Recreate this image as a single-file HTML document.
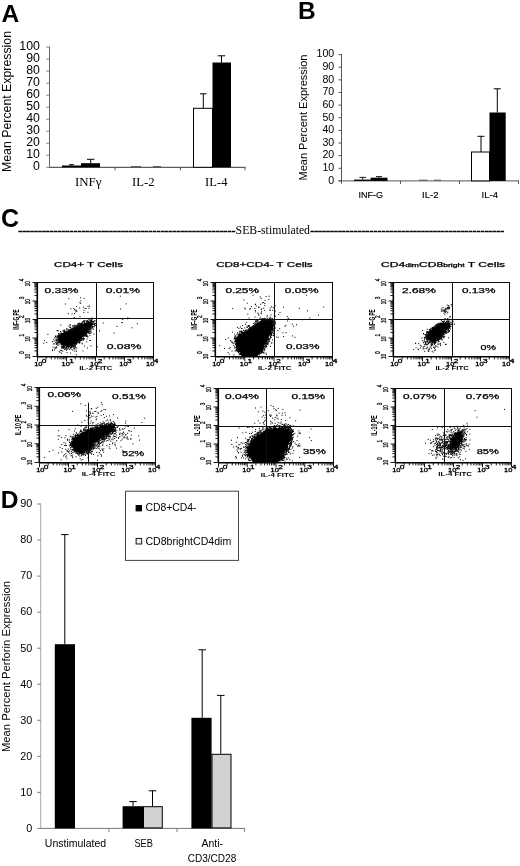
<!DOCTYPE html>
<html lang="en">
<head>
<meta charset="utf-8">
<title>Figure: cytokine and perforin expression</title>
<style>
html,body{margin:0;padding:0;background:#fff}
body{width:520px;height:866px;overflow:hidden}
svg{display:block}
text{font-family:'Liberation Sans', Arial, Helvetica, sans-serif;fill:#000}
text.sf{font-family:'Liberation Serif', 'Times New Roman', Times, serif}
</style>
</head>
<body>
<svg width="520" height="866" viewBox="0 0 520 866">
<defs><filter id="soft" x="0" y="0" width="520" height="866" filterUnits="userSpaceOnUse"><feGaussianBlur stdDeviation="0.38"/></filter></defs>
<rect width="520" height="866" fill="#fff"/>
<g filter="url(#soft)">
<text x="1.5" y="22.3" font-size="24.5" font-weight="bold">A</text>
<line x1="49.5" y1="46.6" x2="49.5" y2="167.8" stroke="#666" stroke-width="1"/>
<line x1="49.5" y1="167.3" x2="245.5" y2="167.3" stroke="#333" stroke-width="1"/>
<line x1="46.2" y1="167.3" x2="49.5" y2="167.3" stroke="#808080" stroke-width="1"/>
<text x="39.9" y="169.7" font-size="12.3" text-anchor="end">0</text>
<line x1="46.2" y1="155.28" x2="49.5" y2="155.28" stroke="#808080" stroke-width="1"/>
<text x="39.9" y="157.68" font-size="12.3" text-anchor="end">10</text>
<line x1="46.2" y1="143.26" x2="49.5" y2="143.26" stroke="#808080" stroke-width="1"/>
<text x="39.9" y="145.66" font-size="12.3" text-anchor="end">20</text>
<line x1="46.2" y1="131.24" x2="49.5" y2="131.24" stroke="#808080" stroke-width="1"/>
<text x="39.9" y="133.64" font-size="12.3" text-anchor="end">30</text>
<line x1="46.2" y1="119.22" x2="49.5" y2="119.22" stroke="#808080" stroke-width="1"/>
<text x="39.9" y="121.62" font-size="12.3" text-anchor="end">40</text>
<line x1="46.2" y1="107.2" x2="49.5" y2="107.2" stroke="#808080" stroke-width="1"/>
<text x="39.9" y="109.6" font-size="12.3" text-anchor="end">50</text>
<line x1="46.2" y1="95.18" x2="49.5" y2="95.18" stroke="#808080" stroke-width="1"/>
<text x="39.9" y="97.58" font-size="12.3" text-anchor="end">60</text>
<line x1="46.2" y1="83.16" x2="49.5" y2="83.16" stroke="#808080" stroke-width="1"/>
<text x="39.9" y="85.56" font-size="12.3" text-anchor="end">70</text>
<line x1="46.2" y1="71.14" x2="49.5" y2="71.14" stroke="#808080" stroke-width="1"/>
<text x="39.9" y="73.54" font-size="12.3" text-anchor="end">80</text>
<line x1="46.2" y1="59.12" x2="49.5" y2="59.12" stroke="#808080" stroke-width="1"/>
<text x="39.9" y="61.52" font-size="12.3" text-anchor="end">90</text>
<line x1="46.2" y1="47.1" x2="49.5" y2="47.1" stroke="#808080" stroke-width="1"/>
<text x="39.9" y="49.5" font-size="12.3" text-anchor="end">100</text>
<line x1="115" y1="167.3" x2="115" y2="170.3" stroke="#555" stroke-width="1"/>
<line x1="180.5" y1="167.3" x2="180.5" y2="170.3" stroke="#555" stroke-width="1"/>
<line x1="245" y1="167.3" x2="245" y2="170.3" stroke="#555" stroke-width="1"/>
<text x="11.3" y="101.5" font-size="12.2" text-anchor="middle" textLength="141" lengthAdjust="spacingAndGlyphs" transform="rotate(-90 11.3 101.5)">Mean Percent Expression</text>
<rect x="62" y="165.5" width="19" height="1.8" fill="#000"/>
<rect x="81" y="163.2" width="19" height="4.1" fill="#000"/>
<line x1="90.7" y1="163.2" x2="90.7" y2="159.3" stroke="#000" stroke-width="1"/>
<line x1="86.95" y1="159.3" x2="94.45" y2="159.3" stroke="#000" stroke-width="1"/>
<line x1="71.5" y1="165.5" x2="71.5" y2="164.7" stroke="#000" stroke-width="1"/>
<line x1="69" y1="164.7" x2="74" y2="164.7" stroke="#000" stroke-width="1"/>
<line x1="131" y1="166.5" x2="141" y2="166.5" stroke="#444" stroke-width="0.8"/>
<line x1="153" y1="166.5" x2="161" y2="166.5" stroke="#444" stroke-width="0.8"/>
<rect x="193.5" y="108.3" width="19" height="59" fill="#fff" stroke="#000" stroke-width="1"/>
<line x1="203.3" y1="108" x2="203.3" y2="93.8" stroke="#000" stroke-width="1"/>
<line x1="200.05" y1="93.8" x2="206.55" y2="93.8" stroke="#000" stroke-width="1"/>
<rect x="212.5" y="62.5" width="18.5" height="104.8" fill="#000"/>
<line x1="221.5" y1="62.5" x2="221.5" y2="55.8" stroke="#000" stroke-width="1"/>
<line x1="217.75" y1="55.8" x2="225.25" y2="55.8" stroke="#000" stroke-width="1"/>
<text x="75" y="185.8" font-size="12.6" class="sf" textLength="26.5" lengthAdjust="spacingAndGlyphs">INFγ</text>
<text x="132" y="185.8" font-size="12.6" class="sf" textLength="22.5" lengthAdjust="spacingAndGlyphs">IL-2</text>
<text x="205" y="185.8" font-size="12.6" class="sf" textLength="22.5" lengthAdjust="spacingAndGlyphs">IL-4</text>
<text x="298" y="18.8" font-size="24.5" font-weight="bold">B</text>
<line x1="341.5" y1="54.1" x2="341.5" y2="183.7" stroke="#555" stroke-width="1"/>
<line x1="338.5" y1="180.9" x2="519" y2="180.9" stroke="#555" stroke-width="1"/>
<line x1="338.5" y1="180.9" x2="341.5" y2="180.9" stroke="#555" stroke-width="1"/>
<text x="334.2" y="183.7" font-size="10.6" text-anchor="end">0</text>
<line x1="338.5" y1="168.27" x2="341.5" y2="168.27" stroke="#555" stroke-width="1"/>
<text x="334.2" y="171.07" font-size="10.6" text-anchor="end">10</text>
<line x1="338.5" y1="155.64" x2="341.5" y2="155.64" stroke="#555" stroke-width="1"/>
<text x="334.2" y="158.44" font-size="10.6" text-anchor="end">20</text>
<line x1="338.5" y1="143.01" x2="341.5" y2="143.01" stroke="#555" stroke-width="1"/>
<text x="334.2" y="145.81" font-size="10.6" text-anchor="end">30</text>
<line x1="338.5" y1="130.38" x2="341.5" y2="130.38" stroke="#555" stroke-width="1"/>
<text x="334.2" y="133.18" font-size="10.6" text-anchor="end">40</text>
<line x1="338.5" y1="117.75" x2="341.5" y2="117.75" stroke="#555" stroke-width="1"/>
<text x="334.2" y="120.55" font-size="10.6" text-anchor="end">50</text>
<line x1="338.5" y1="105.12" x2="341.5" y2="105.12" stroke="#555" stroke-width="1"/>
<text x="334.2" y="107.92" font-size="10.6" text-anchor="end">60</text>
<line x1="338.5" y1="92.49" x2="341.5" y2="92.49" stroke="#555" stroke-width="1"/>
<text x="334.2" y="95.29" font-size="10.6" text-anchor="end">70</text>
<line x1="338.5" y1="79.86" x2="341.5" y2="79.86" stroke="#555" stroke-width="1"/>
<text x="334.2" y="82.66" font-size="10.6" text-anchor="end">80</text>
<line x1="338.5" y1="67.23" x2="341.5" y2="67.23" stroke="#555" stroke-width="1"/>
<text x="334.2" y="70.03" font-size="10.6" text-anchor="end">90</text>
<line x1="338.5" y1="54.6" x2="341.5" y2="54.6" stroke="#555" stroke-width="1"/>
<text x="334.2" y="57.4" font-size="10.6" text-anchor="end">100</text>
<line x1="400.5" y1="180.9" x2="400.5" y2="183.9" stroke="#555" stroke-width="1"/>
<line x1="459.5" y1="180.9" x2="459.5" y2="183.9" stroke="#555" stroke-width="1"/>
<line x1="518.5" y1="180.9" x2="518.5" y2="183.9" stroke="#555" stroke-width="1"/>
<text x="307.2" y="117.5" font-size="10.8" text-anchor="middle" textLength="126" lengthAdjust="spacingAndGlyphs" transform="rotate(-90 307.2 117.5)">Mean Percent Expression</text>
<rect x="354" y="179.6" width="16.5" height="1.3" fill="#000"/>
<line x1="362.7" y1="179.6" x2="362.7" y2="177.4" stroke="#000" stroke-width="0.9"/>
<line x1="359.45" y1="177.4" x2="365.95" y2="177.4" stroke="#000" stroke-width="0.9"/>
<rect x="370.5" y="177.7" width="17" height="3.2" fill="#000"/>
<line x1="379" y1="177.7" x2="379" y2="176.6" stroke="#000" stroke-width="0.9"/>
<line x1="376" y1="176.6" x2="382" y2="176.6" stroke="#000" stroke-width="0.9"/>
<line x1="419" y1="180.1" x2="427.5" y2="180.1" stroke="#444" stroke-width="0.8"/>
<line x1="434" y1="180.1" x2="441" y2="180.1" stroke="#444" stroke-width="0.8"/>
<rect x="471.5" y="152" width="18" height="28.9" fill="#fff" stroke="#000" stroke-width="1"/>
<line x1="481" y1="152" x2="481" y2="136.3" stroke="#000" stroke-width="1"/>
<line x1="477.5" y1="136.3" x2="484.5" y2="136.3" stroke="#000" stroke-width="1"/>
<rect x="489.5" y="112.5" width="16.2" height="68.4" fill="#000"/>
<line x1="497.3" y1="112.5" x2="497.3" y2="88.8" stroke="#000" stroke-width="1"/>
<line x1="493.8" y1="88.8" x2="500.8" y2="88.8" stroke="#000" stroke-width="1"/>
<text x="370.8" y="198.3" font-size="9.6" text-anchor="middle" textLength="24.5" lengthAdjust="spacingAndGlyphs" stroke="#000" stroke-width=".15">INF-G</text>
<text x="430.3" y="198.3" font-size="9.6" text-anchor="middle" textLength="16.5" lengthAdjust="spacingAndGlyphs" stroke="#000" stroke-width=".15">IL-2</text>
<text x="489.8" y="198.3" font-size="9.6" text-anchor="middle" textLength="16.5" lengthAdjust="spacingAndGlyphs" stroke="#000" stroke-width=".15">IL-4</text>
<text x="1" y="227.3" font-size="25" font-weight="bold">C</text>
<text x="18.2" y="233.6" font-size="11.8" class="sf" textLength="217.3" lengthAdjust="spacingAndGlyphs" stroke="#000" stroke-width=".45">-------------------------------------------------------</text>
<text x="235.6" y="234" font-size="11.8" class="sf" textLength="74.4" lengthAdjust="spacingAndGlyphs">SEB-stimulated</text>
<text x="310.2" y="233.6" font-size="11.8" class="sf" textLength="194" lengthAdjust="spacingAndGlyphs" stroke="#000" stroke-width=".45">-------------------------------------------------</text>
<text x="54" y="267.1" font-size="6.8" textLength="69" lengthAdjust="spacingAndGlyphs" stroke="#000" stroke-width=".25">CD4+ T Cells</text>
<clipPath id="c1"><rect x="37.5" y="282.5" width="116" height="74"/></clipPath>
<g clip-path="url(#c1)">
<polygon points="92.3,321.5 86.2,323.1 78.5,326.2 70.8,330 63.1,333.1 58.5,336.2 58.5,340.8 63.1,345.4 69.2,346.2 75.4,343.1 81.5,337.7 87.7,330.8 91.5,325.4" stroke="#000" stroke-width=".8" stroke-linejoin="round"/>
</g>
<path d="M72.3 345.8h1M85.9 327.1h1M79.8 335.8h1M74.1 326.2h1M66.3 334h1M84.6 329.9h1M93.6 323.7h1M85 335.8h1M83.5 339.3h1M57.8 342.6h1M69 331.3h1M68.9 330.3h1M73.1 329.9h1M57 339.2h1M59.4 342.3h1M64.7 345.5h1M91 324.6h1M83.6 333.8h1M70.7 346.1h1M90.5 320.9h1M74.5 328.6h1M78.2 327.5h1M71.1 345.9h1M87.4 323.8h1M88.5 319.6h1M63.6 345.7h1M62.3 339.7h1M92.9 329.2h1M71 345.7h1M61.9 339.4h1M63 341.4h1M71.6 329.9h1M89.6 324.4h1M76.4 327.8h1M76.6 343.2h1M74.1 325.3h1M59.1 336.4h1M89.5 324.7h1M85.8 334.3h1M78 325.5h1M69.9 327.5h1M88 332.4h1M62.3 348.1h1M85.1 334.3h1M72.5 347.1h1M77.6 340.7h1M83.9 322.1h1M61.5 347.7h1M63 341.3h1M87.1 331.1h1M61.2 334h1M67.7 347.6h1M86.8 323.5h1M61.7 335.5h1M62.9 330.8h1M77.9 323.6h1M83.2 335.2h1M65.4 333.2h1M93.5 321.1h1M67.4 343.8h1M70.1 345.3h1M75.1 341.9h1M74.2 341.2h1M78.9 323h1M60.6 338.8h1M73.3 329.9h1M60.6 339h1M83.2 321.4h1M95 323.2h1M77.3 329.8h1M75.2 343.3h1M68.6 330.8h1M83.8 334.2h1M74.6 343.5h1M80.8 323.2h1M86.3 331h1M92.1 326.7h1M88.3 329.7h1M62.9 343.4h1M80.6 323.9h1M74.9 328.2h1M89.5 328.4h1M63.2 344.5h1M76.6 327.9h1M83.9 331.6h1M73.9 341.8h1M66.2 345.2h1M63.3 335h1M62.2 335h1M72.5 325.6h1M86 321.9h1M85.9 332.4h1M56.5 343.6h1M63 341.8h1M65.8 336.5h1M76.4 337.3h1M90.7 323.7h1M59.1 336.2h1M90.2 323.9h1M81.7 325.1h1M91.2 322.4h1M73 345.3h1M57.6 336.2h1M61.1 340.1h1M84.3 336.2h1M63.8 334h1M70.7 349.1h1M78.6 341.6h1M65.2 335.7h1M63 346.8h1M79.5 341.1h1M91.6 328.7h1M79.4 323.7h1M90.3 326.7h1M91.4 317.9h1M80 336.3h1M82.7 335.7h1M80.6 323.6h1M56.7 336.3h1M83.1 335h1M94.9 325.1h1M70.7 347.6h1M82 336.6h1M62.3 345.8h1M79.3 339.4h1M71.6 328.1h1M75.4 329.1h1M63.9 331.5h1M77.7 326.3h1M63.9 330.6h1M93.8 326.1h1M64.9 348.6h1M64.3 331.4h1M69 330.8h1M93.9 324.1h1M55.2 336.9h1M90.8 321.1h1M60.7 346.4h1M63.1 348.3h1M89.5 330.5h1M81.6 338.5h1M64.1 347.1h1M59.8 336.7h1M87 332.4h1M57.6 336.5h1M90.7 328.3h1M84.8 324.1h1M55 336.5h1M61.2 343.4h1M88.7 322.8h1M70.4 328.9h1M83.8 333.4h1M75.2 343.2h1M80.2 339.6h1M70.5 345.5h1M89.2 324.8h1M63.5 330h1M58.2 334h1M73.3 326.1h1M88.7 323.9h1M73.5 331h1M86.1 329.8h1M86.4 332.9h1M82.6 327h1M69.4 343.6h1M59.5 344.1h1M69.1 344.9h1M73.3 339.4h1M69 336.1h1M92.3 327.6h1M59.2 339h1M71.5 345.7h1M68.9 344.8h1M76.6 327.2h1M86.5 320.4h1M59.1 334.9h1M78.3 339.3h1M86.5 335.6h1M78.5 342.5h1M80.6 324.7h1M86.4 332.5h1M82.5 334.9h1M87.3 331.5h1M60.9 341.1h1M89.6 326.2h1M87.2 324.8h1M90.6 320.6h1M89.3 322.9h1M71.3 329.6h1M73.4 327.8h1M81 326.5h1M63.8 344.8h1M88.1 321.6h1M66.2 347.3h1M79.6 327.4h1M72.8 342.4h1M89.7 320.4h1M66.6 332.2h1M89 326.5h1M61.4 347.1h1M82.7 339.9h1M69.6 345.7h1M66.9 346.1h1M75.6 327h1M66.4 344.3h1M88.6 320.9h1M79.9 334.4h1M90.8 324.3h1M87.4 331.9h1M88.9 323.9h1M64.1 331.9h1M64.5 331.6h1M83.8 322.4h1M69.7 348.3h1M80.7 337.2h1M65 334.8h1M89.1 333.4h1M83 338.9h1M83.3 324.6h1M80 339.5h1M89.4 335.3h1M74.8 325.4h1M65.9 347.8h1M75.8 347.9h1M70.6 346.9h1M83.2 325.3h1M73.3 346.3h1M71.6 344.1h1M86.3 335.3h1M82.2 334.5h1M62.3 331.1h1M77.3 339.9h1M86.9 331.5h1M88.5 330.2h1M80.9 326.9h1M90.5 319.6h1M74 348h1M72.5 330.2h1M66.7 346.9h1M94.5 325.5h1M62.5 334.3h1M71.8 330.7h1M58.8 340.6h1M76.1 341.3h1M82.1 325.4h1M60.9 339.6h1M81.8 322h1M74.8 345.8h1M83.9 334.8h1M61.9 334.1h1M61.2 336.4h1M63.3 343.3h1M74.2 328.5h1M69.9 332.1h1M65 332h1M60 339.2h1M83.7 323.7h1M79.4 338.4h1M67.7 348.6h1M65.7 329.7h1M85.9 324.9h1M78.7 336.4h1M83.1 326.3h1M85 325h1M84.7 320.6h1M85 323.4h1M90.2 327.1h1M70.2 329.5h1M67.1 334.2h1M87.4 332.1h1M67.9 343.9h1M78.4 329.6h1M58.4 338.2h1M90.2 333.3h1M61.8 334.8h1M75.9 340.1h1M84.5 323.9h1M79.4 342.8h1M81.5 339.4h1M85.2 334.5h1M73.6 343.7h1M58.2 333.8h1M88.3 321.9h1M63 347.5h1M80.4 338.9h1M76.4 325.3h1M72 329.4h1M62.1 346.5h1M78.4 340.5h1M88.2 329.5h1M83.7 323.8h1M74.5 327.1h1M84.8 333.3h1M71 342.5h1M75.9 342.4h1M94.4 320.9h1M90.5 327.2h1M83.2 335.5h1M80.9 338.9h1M61.6 335.2h1M73.8 348.6h1M76.1 328.2h1M81 338.1h1M81.4 340.1h1M76.7 341.7h1M59.1 337.4h1M61.2 334.5h1M57.6 336.3h1M88.6 318.8h1M85.6 333h1M63.4 344.9h1M59.6 334.1h1M63.1 342.6h1M79.7 340.4h1M61.4 334.5h1M86.2 334.3h1M91.7 326h1M61.5 335.9h1M84.5 323.2h1M79 338.3h1M93.5 324.4h1M79.3 324.5h1M80.3 340.6h1M87.2 336.4h1M86.4 327.3h1M80.2 324.3h1M85.6 324.2h1M93.4 324.4h1M83.6 320.8h1M77.3 325.3h1M67 344.1h1M59.6 337.1h1M79.6 337.8h1M78.1 325.8h1M85.6 328.9h1M75.3 326.8h1M79.2 338.4h1M88.1 323.7h1M58.5 340h1M88 322.5h1M67 334.6h1M64.9 332.3h1M76.1 340h1M55.8 339.7h1M87.4 321.2h1M93.1 322.4h1M89.8 331.8h1M89.3 326.8h1M73.6 329.1h1M60.1 337.1h1M73.3 327.8h1M82.7 325.2h1M91.2 320.5h1M60.2 341.7h1M81.4 324h1M77.2 330.4h1M86.6 331.5h1M58.1 341h1M78.6 326h1M73.4 343.5h1M71.1 331.3h1M60.9 344.9h1M69.5 334.3h1M62.3 344.3h1M70.1 347.9h1M66.3 345.7h1M60.6 336.3h1M85.3 334.4h1M88.9 331.1h1M76.1 326.7h1M80.1 324.9h1M83.4 320.9h1M92 324.8h1M90.9 325.7h1M72.7 328.1h1M88.7 323.7h1M74.6 327.6h1M57.2 344h1M61.1 340.6h1M88.2 326.8h1M87.6 322.9h1M65.8 332.1h1M68.9 345.5h1M84.1 322h1M69.7 327.7h1M56.7 340.6h1M84.2 332.8h1M78.8 336.9h1M87.3 336.9h1M78.6 340.1h1M77.9 341.1h1M83.5 334.2h1M75.5 340.8h1M78.2 337.2h1M67.2 329.2h1M79.2 325.7h1M83.1 338.4h1M78.7 325.4h1M89.9 328.2h1M66.5 342.4h1M66 333.2h1M90.1 324.4h1M80.6 324.8h1M61.4 343.1h1M87.4 321.8h1M88.3 322.2h1M65.8 344.1h1M84.6 335.9h1M68.4 331.7h1M81.6 337h1M76.1 340.4h1M69.7 343.4h1M91.5 324.2h1M62.6 338.6h1M60.4 332.7h1M73.9 344.9h1M83.5 333.1h1M63.9 331.2h1M75.8 344.3h1M73.5 329.7h1M63 346.1h1M82.5 340h1M88.1 323.2h1M77.6 342.7h1M89.1 324h1M88.9 325h1M57.4 343.4h1M55.2 336.2h1M79 341.2h1M61 342.8h1M79.2 340h1M88.2 324.9h1M67.2 343.4h1M62.8 346.7h1M91.8 327.7h1M90.8 322.9h1M57.2 335.8h1M69.4 345.1h1M63.9 346.6h1M83.2 321.9h1M70.4 346.2h1M69.7 324.5h1M74.1 328.6h1M87.1 329.9h1M75.4 329h1M58.8 336.6h1M80.1 340.5h1M76.5 341.4h1M66.3 346.9h1M79.6 334.2h1M58.5 339.7h1M68.9 349.5h1M84.2 333.5h1M75.1 342.2h1M70.3 344.4h1M58.1 334h1M66.1 347.6h1M60.5 338.2h1M78.1 338.5h1M64.5 331.5h1M62.4 342.8h1M77.5 340.9h1M61.3 344.5h1M68.6 334.6h1M85.8 332.9h1M61.4 334.2h1M85.2 330.9h1M81 334.8h1M58.1 340.7h1M76.3 340.4h1M90.6 326.2h1M59.7 335.1h1M85.7 331.1h1M64.6 347.2h1M64.6 348.7h1M72.2 344.8h1M74.4 341.4h1M68.8 346.5h1M59.1 339h1M77.8 326.1h1M68.7 329.8h1M68.2 332.8h1M58.3 337.8h1M91.8 319.7h1M64.4 332.4h1M56.7 337.8h1M64 334.5h1M66.9 346.1h1M89.8 327.9h1M87.3 331.4h1M60.2 331.6h1M70.5 330.9h1M86.6 332.1h1M62.2 343.3h1M74 344.9h1M82.1 322.3h1M85.6 330.2h1M63 333.3h1M60.2 340.7h1M77.6 323.9h1M59.6 338.4h1M82.2 333.1h1M83.2 333.9h1M62 338.9h1M81.4 336h1M58.5 338.1h1M63.4 333.5h1M67.8 346.1h1M77.7 323.8h1M66.3 333.2h1M77.4 339.9h1M82.1 336.3h1M86.4 323.9h1M76.7 340.2h1M84 332.4h1M56.9 342h1M86.8 321.5h1M75.3 343.6h1M75.9 329.8h1M70.5 347.2h1M61.1 333.5h1M71.2 346.8h1M71.7 328.7h1M60.9 343.3h1M61.3 343.2h1M69.6 344.7h1M72.6 331h1M90 325.4h1M69.3 331.2h1M67.1 335.3h1M69.4 330.5h1M85.8 321.6h1M58.6 338.1h1M82 336h1M76 343.6h1M75.5 329.5h1M77.6 324.3h1M63.7 331h1M83.6 338.5h1M56.1 342.2h1M89.3 326.1h1M73.4 345.3h1M69.6 342.2h1M79.5 337.5h1M79.6 338.6h1M63.8 332.3h1M70.9 330.4h1M55.3 336.1h1M59.7 343.2h1M78.9 325.2h1M57.6 337.4h1M72.1 342.6h1M81.9 323.3h1M82.1 326h1M76.9 325h1M70.4 330.9h1M93.6 326.7h1M92 323.8h1M79.3 329.6h1M78.1 325.8h1M58.7 339.4h1M92.4 323.6h1M56.2 340.6h1M78.9 328.1h1M69.1 330.3h1M81.8 338.7h1M73.9 328.4h1M68.4 347.1h1M59.1 336.6h1M60 337.1h1M85.5 335.5h1M78.6 326.5h1M89.6 329.4h1M86.9 329h1M74.7 346.8h1M87.6 322.4h1M74.6 345.7h1M71.5 346h1M81.1 337.6h1M71.9 331.6h1M89.9 325h1M85.5 328.3h1M80.5 323.3h1M68.4 331.3h1M89.9 325.9h1M82.1 334.5h1M90.5 329.9h1M94.3 320.7h1M68.9 346.7h1M72.6 345h1M74.2 346.5h1M66.3 344.6h1M92.4 326.6h1M71.2 346.7h1M66.6 330.8h1M63.4 343.7h1M93 321.5h1M79.1 336.9h1M73.3 343.7h1M58.3 337.7h1M86.4 332h1M79.4 336.7h1M66 335.1h1M85 323.8h1M79.5 326.9h1M79.3 329.4h1M68.3 330.6h1M58.9 340.5h1M91.7 327h1M71.1 330.5h1M89.2 329.4h1M70.8 343.3h1M84.9 334.5h1M58.6 335.8h1M90.3 321.3h1M82.4 336.6h1M74 330h1M79.4 324h1M80.9 335.4h1M78.9 343h1M73.8 327.2h1M68.1 330.1h1M91.1 325.5h1M70.8 333.7h1M75.3 344.4h1M82.7 325.8h1M82.9 335.1h1M80.7 328.4h1M61.9 344.5h1M90.6 322.1h1M63 346h1M86.2 333.6h1M84.9 326h1M74.4 330.4h1M79.4 342h1M71.5 344.7h1M66.3 332.9h1M70.6 343.7h1M59.7 342.8h1M88.1 331.5h1M70.2 331h1M80.7 340.4h1M70.4 347.2h1M78.1 338h1M62.1 333.8h1M79 338.4h1M78.6 342.6h1M61.3 334.7h1M91.8 321.5h1M94.2 323.6h1" stroke="#000" stroke-width="1" fill="none"/>
<path d="M63.3 334.8h1M59.4 335.8h1M71.5 328.4h1M81.2 323.7h1M52 350.7h1M75.9 354.7h1M63.1 335.1h1M77.5 342.3h1M61.2 344.9h1M65.5 333.2h1M58.9 342.2h1M76.3 334.4h1M69.1 334.5h1M73.7 351.1h1M68.5 326.1h1M68.6 342.4h1M55.4 348.2h1M74.3 332.8h1M73.3 338.5h1M70.9 344.9h1M80.2 335.3h1M83.3 335.8h1M61 348.2h1M56.6 330.7h1M89.5 340.5h1M90.4 345.8h1M65.3 348.2h1M61 350.5h1M59.8 333.7h1M64.7 340.6h1M52 341.6h1M68.7 335.4h1M59.9 350.6h1M55.7 339.9h1M78.8 334h1M57.9 330.9h1M68.9 338.4h1M76.5 336.6h1M76.2 331.1h1M64.7 336.3h1M75.6 349.9h1M58.4 335.7h1M84.5 324.7h1M74.3 331.2h1M62.3 351.2h1M75.8 351.4h1M78 337.6h1M72.8 332.5h1M87.1 328h1M86.6 338.9h1M62.1 336.1h1M73.1 348h1M61.1 353.3h1M72.7 338.3h1M73.3 342.1h1M99 330.8h1M75.2 347.7h1M46.2 342.5h1M66.5 349.1h1M70.1 336.3h1M55.4 340.3h1M61.6 343.6h1M65.8 339.4h1M70.7 331.6h1M64 330.4h1M58.5 337.6h1M81.8 343.9h1M70 353.1h1M66.8 345.2h1M59.5 352.4h1M60.7 339.6h1M76.3 335.5h1M54.6 348.2h1M66.3 333h1M74.4 329.8h1M66.5 341.3h1M71.5 336h1M55.9 337.9h1M84.1 335.2h1M80.3 332.3h1M75.2 343.9h1M52.5 347.1h1M58.7 342.1h1M80.1 335.2h1M86.6 330h1M71.1 333.7h1M81.3 330.8h1M66 346.2h1M69.9 343.7h1M73.5 346.6h1M69.6 327.1h1M53.7 343.8h1M78.2 332.2h1M83.7 333.9h1M57.3 341.7h1M55.1 342.3h1M75.6 342h1M64 343.1h1M43.2 343.2h1M81.7 343.1h1M74.3 344.1h1M63.7 337.8h1M93.4 334.1h1M69.4 334h1M65.6 349.1h1M70.4 337.2h1M57.4 339.1h1M61.4 340.3h1M71.7 332.7h1M65 342.7h1M66 342.1h1M86.7 331.5h1M77 331.7h1M67.9 313.7h1M75.5 337.1h1M69.6 325.6h1M85.2 333.7h1M72.9 345.8h1M89.3 332h1M59.4 341.1h1M67 339.1h1M55.9 344.6h1M65.1 337.4h1M73.6 333.2h1M81.9 326.8h1M66.7 349.1h1M70 338.9h1M69 346.3h1M61.9 341h1M58.3 345h1M70.1 337.7h1M54 349.8h1M73.4 343.4h1M70.9 340.3h1M61.6 338.1h1M57.8 339.1h1M87.9 328.7h1M55.8 343.5h1M89.6 340.4h1M79 342.6h1M67.8 343.8h1M57.4 342h1M86.9 348h1M88.3 333.3h1M62.2 346.6h1M66.6 339.4h1M76.6 325.8h1M69.7 329.6h1M91.1 332.1h1M65.4 344h1M74.7 335.1h1M54.3 337.9h1M86.9 320.8h1M61.8 340.5h1M44 340.7h1M71.2 344.9h1M71.8 346.4h1M96.9 346.8h1M69 345.7h1M68.2 335.6h1M73.5 331.1h1M76.3 311.3h1M67.7 335.8h1M79.9 333.1h1M77.8 342.3h1M68.7 344h1M72.4 342.1h1M70.9 340.1h1M62.7 347.2h1M86.1 341.9h1M53.3 339.2h1M80.4 330.9h1M75.7 326.4h1M73.5 349h1M65.9 350.2h1M69.8 344.5h1M71.4 329.7h1M77.9 336.6h1M72.2 336.3h1M80.1 334.9h1M63.9 340.5h1M73.8 341h1M53.3 344h1M80 340.5h1M72.2 339.7h1M65.1 339.2h1M81.3 332.9h1M75.7 333.2h1M69.7 337.2h1M56.3 347.5h1M79.6 331.7h1M90.7 318.7h1M67.3 346.7h1M67.8 332.4h1M69.4 344.2h1M74.7 339.8h1M71.9 326.2h1M80.2 327.5h1M58.7 340.6h1M83.4 326.9h1M57.5 336.4h1M74.8 342.1h1M80.9 332.2h1M78.2 338h1M59.5 340.8h1M63.8 344.1h1M63.3 336.7h1M69.4 339.1h1M83 337.1h1M57.2 345.3h1M73.4 334.1h1M73.1 329.8h1M76 337.4h1M75.6 338.9h1M84.4 330.4h1M72.7 332.2h1M80 338.2h1M82.4 351h1M87 328.9h1M52 349.8h1M83.8 335.3h1M60.3 325.1h1M67.5 341h1M58.4 339.3h1M65.5 339.3h1M61 337.6h1M74.3 335.4h1M55.8 346.8h1M82.7 329h1M72.6 337.4h1M63.8 332.2h1M62.3 341h1M64.3 347.2h1M66.5 345.7h1M70.8 340.6h1M71.5 346.8h1M58.7 351.6h1M71.9 350h1M64.1 349.5h1M71.3 337.6h1M89.3 331.9h1M76.7 337.1h1M67.7 342.2h1M54.4 347.7h1M53.7 341h1M47.4 334.4h1M75.4 331.7h1M56.8 330.6h1M70.8 339.1h1M63.8 341.9h1M66.3 328.7h1M85.9 336.5h1M65.6 347.3h1M66.9 341.1h1M66.5 352.6h1M83.9 346h1" stroke="#000" stroke-width="1" fill="none"/>
<path d="M70.4 308.7h1M88.3 308.2h1M83.5 310.3h1M83.3 312.6h1M87.5 312.3h1M74.2 309.7h1M75.3 311.9h1M73.4 308.5h1M74 313.6h1M79.2 307.9h1M68.4 298.7h1M71.6 314h1M84.6 308.5h1M79.4 302.7h1M83.1 307.1h1M64.9 304h1M73.7 317.5h1M75.6 310.2h1M80.3 300.9h1M75.3 310.5h1M87.5 306.2h1M79.5 316.6h1M80.1 303.3h1M80.1 297.9h1M85.7 308.3h1M76.2 306.4h1M89 306.1h1M83.7 298.4h1" stroke="#000" stroke-width="1" fill="none"/>
<path d="M121.4 322.6h1M131.4 327.8h1M102.7 323h1M127.4 317.8h1M113.5 333.1h1M136.8 323.6h1M121.5 322.6h1M116.5 326.4h1M126.8 318.8h1M122.2 319.6h1" stroke="#000" stroke-width="1" fill="none"/>
<path d="M120 309h1M119.8 296.2h1M125.7 303.9h1" stroke="#000" stroke-width="1" fill="none"/>
<rect x="37.5" y="282.5" width="116" height="74" fill="none" stroke="#111" stroke-width="1"/>
<line x1="37.3" y1="282.5" x2="37.3" y2="356.5" stroke="#000" stroke-width="1.6"/>
<line x1="37.5" y1="356.7" x2="153.5" y2="356.7" stroke="#000" stroke-width="1.5"/>
<line x1="96.5" y1="282.5" x2="96.5" y2="356.5" stroke="#111" stroke-width="1"/>
<line x1="37.5" y1="318.5" x2="153.5" y2="318.5" stroke="#111" stroke-width="1"/>
<path d="M37.5 356.5v4.8M37.5 356.5h-5M46.23 356.5v2.9M37.5 350.93h-3.1M51.34 356.5v2.9M37.5 347.67h-3.1M54.96 356.5v2.9M37.5 345.36h-3.1M57.77 356.5v2.9M37.5 343.57h-3.1M60.07 356.5v2.9M37.5 342.1h-3.1M62.01 356.5v2.9M37.5 340.87h-3.1M63.69 356.5v2.9M37.5 339.79h-3.1M65.17 356.5v2.9M37.5 338.85h-3.1M66.5 356.5v4.8M37.5 338h-5M75.23 356.5v2.9M37.5 332.43h-3.1M80.34 356.5v2.9M37.5 329.17h-3.1M83.96 356.5v2.9M37.5 326.86h-3.1M86.77 356.5v2.9M37.5 325.07h-3.1M89.07 356.5v2.9M37.5 323.6h-3.1M91.01 356.5v2.9M37.5 322.37h-3.1M92.69 356.5v2.9M37.5 321.29h-3.1M94.17 356.5v2.9M37.5 320.35h-3.1M95.5 356.5v4.8M37.5 319.5h-5M104.23 356.5v2.9M37.5 313.93h-3.1M109.34 356.5v2.9M37.5 310.67h-3.1M112.96 356.5v2.9M37.5 308.36h-3.1M115.77 356.5v2.9M37.5 306.57h-3.1M118.07 356.5v2.9M37.5 305.1h-3.1M120.01 356.5v2.9M37.5 303.87h-3.1M121.69 356.5v2.9M37.5 302.79h-3.1M123.17 356.5v2.9M37.5 301.85h-3.1M124.5 356.5v4.8M37.5 301h-5M133.23 356.5v2.9M37.5 295.43h-3.1M138.34 356.5v2.9M37.5 292.17h-3.1M141.96 356.5v2.9M37.5 289.86h-3.1M144.77 356.5v2.9M37.5 288.07h-3.1M147.07 356.5v2.9M37.5 286.6h-3.1M149.01 356.5v2.9M37.5 285.37h-3.1M150.69 356.5v2.9M37.5 284.29h-3.1M152.17 356.5v2.9M37.5 283.35h-3.1M153.5 356.5v4.8M37.5 282.5h-5" stroke="#000" stroke-width=".9" fill="none"/>
<text transform="translate(34.2 365.7) scale(1.38 1)" font-size="5.4" stroke="#000" stroke-width=".3">10</text>
<text transform="translate(41.8 362.8) scale(1.7 1)" font-size="4.9" stroke="#000" stroke-width=".3">0</text>
<text transform="translate(29.6 359.1) rotate(-90) scale(.6 1)" font-size="7.6" stroke="#000" stroke-width=".3">10</text>
<text transform="translate(24.3 354.1) rotate(-90) scale(.62 1)" font-size="7.6" stroke="#000" stroke-width=".3">0</text>
<text transform="translate(61.6 365.7) scale(1.38 1)" font-size="5.4" stroke="#000" stroke-width=".3">10</text>
<text transform="translate(69.2 362.8) scale(1.7 1)" font-size="4.9" stroke="#000" stroke-width=".3">1</text>
<text transform="translate(29.6 341.6) rotate(-90) scale(.6 1)" font-size="7.6" stroke="#000" stroke-width=".3">10</text>
<text transform="translate(24.3 336.6) rotate(-90) scale(.62 1)" font-size="7.6" stroke="#000" stroke-width=".3">1</text>
<text transform="translate(90.1 365.7) scale(1.38 1)" font-size="5.4" stroke="#000" stroke-width=".3">10</text>
<text transform="translate(97.7 362.8) scale(1.7 1)" font-size="4.9" stroke="#000" stroke-width=".3">2</text>
<text transform="translate(29.6 323.1) rotate(-90) scale(.6 1)" font-size="7.6" stroke="#000" stroke-width=".3">10</text>
<text transform="translate(24.3 318.1) rotate(-90) scale(.62 1)" font-size="7.6" stroke="#000" stroke-width=".3">2</text>
<text transform="translate(119.3 365.7) scale(1.38 1)" font-size="5.4" stroke="#000" stroke-width=".3">10</text>
<text transform="translate(126.9 362.8) scale(1.7 1)" font-size="4.9" stroke="#000" stroke-width=".3">3</text>
<text transform="translate(29.6 304.2) rotate(-90) scale(.6 1)" font-size="7.6" stroke="#000" stroke-width=".3">10</text>
<text transform="translate(24.3 299.2) rotate(-90) scale(.62 1)" font-size="7.6" stroke="#000" stroke-width=".3">3</text>
<text transform="translate(146.1 365.7) scale(1.38 1)" font-size="5.4" stroke="#000" stroke-width=".3">10</text>
<text transform="translate(153.7 362.8) scale(1.7 1)" font-size="4.9" stroke="#000" stroke-width=".3">4</text>
<text transform="translate(29.6 286.3) rotate(-90) scale(.6 1)" font-size="7.6" stroke="#000" stroke-width=".3">10</text>
<text transform="translate(24.3 281.3) rotate(-90) scale(.62 1)" font-size="7.6" stroke="#000" stroke-width=".3">4</text>
<text x="79.2" y="370.1" font-size="4.8" font-weight="bold" textLength="33.3" lengthAdjust="spacingAndGlyphs">IL-2 FITC</text>
<text x="19.1" y="319.5" font-size="8.6" text-anchor="middle" font-weight="bold" textLength="20.5" lengthAdjust="spacingAndGlyphs" transform="rotate(-90 19.1 319.5)">INF-G PE</text>
<text x="44.6" y="292.9" font-size="6.9" textLength="33.9" lengthAdjust="spacingAndGlyphs" stroke="#000" stroke-width=".25">0.33%</text>
<text x="105.8" y="293" font-size="6.9" textLength="34.2" lengthAdjust="spacingAndGlyphs" stroke="#000" stroke-width=".25">0.01%</text>
<text x="106.7" y="349.2" font-size="6.9" textLength="34.6" lengthAdjust="spacingAndGlyphs" stroke="#000" stroke-width=".25">0.08%</text>
<text x="216.2" y="267.1" font-size="6.8" textLength="96.5" lengthAdjust="spacingAndGlyphs" stroke="#000" stroke-width=".25">CD8+CD4- T Cells</text>
<clipPath id="c2"><rect x="215.5" y="282.5" width="117" height="74"/></clipPath>
<g clip-path="url(#c2)">
<polygon points="262.7,320.8 271.9,320.8 272.7,327.7 268,337 264.2,344.6 259.6,352.3 256.5,357 242.7,357 236.5,346 235.8,340 239.6,334.6 248.8,330.8 256.5,324.6" stroke="#000" stroke-width=".8" stroke-linejoin="round"/>
</g>
<path d="M275.2 322.8h1M264.6 319.2h1M236.9 345h1M264.1 346.7h1M255.3 323.8h1M238.9 348.9h1M247 332.3h1M237.9 335.4h1M255.6 325.8h1M272 321.3h1M261.8 350h1M257.2 322.2h1M248.8 354.4h1M259.9 322.6h1M270 333.2h1M271.5 321.4h1M252.7 326.6h1M258.8 322.3h1M270.8 333.7h1M256.1 321.3h1M269.9 336.7h1M267.2 339.4h1M251.7 328.2h1M268.4 319.7h1M267 320.7h1M271.5 330.1h1M238.7 351.1h1M241.8 335.4h1M238.5 350.8h1M237.1 347.9h1M267 320.6h1M267.7 339.2h1M262.3 319.1h1M263.4 348h1M258.1 324.3h1M269.2 339.7h1M265.9 319.2h1M270.8 334.3h1M263 346.8h1M254.6 353.8h1M243.5 354.4h1M264.1 320.5h1M263.1 341.3h1M259.5 324.8h1M267.1 322h1M238.8 339.4h1M237.5 339.4h1M261.6 349.3h1M260.8 350.4h1M252.7 329h1M261.7 348.3h1M268.7 321.8h1M265.7 321.9h1M248.6 330h1M264.2 343.4h1M272.5 325.2h1M241.4 350.1h1M248.6 331.2h1M238.7 350.6h1M272.6 331.1h1M267 339.5h1M265.1 320.7h1M257.7 320.9h1M272.7 328h1M251.3 328.7h1M262.7 318.5h1M247.7 331.8h1M266.2 340.2h1M269.5 333.4h1M240.5 351.3h1M250.5 329.6h1M256 321.7h1M254.5 326.8h1M262.8 349.1h1M239.4 354.2h1M271.9 324.9h1M272.1 318.8h1M269.9 322.1h1M272 326.5h1M267.4 344.3h1M263.9 342.6h1M236.6 339h1M271.3 320.7h1M270.4 326.8h1M236.5 347.6h1M236.9 345.3h1M234.3 336.9h1M237.1 338.7h1M238.4 346h1M235.4 337.5h1M270.4 320.6h1M266.3 337.9h1M239.7 339.2h1M270.9 333h1M265 343.4h1M247 333.4h1M236.6 348.5h1M265.9 342h1M244.8 332.2h1M236.9 346.7h1M247 332.6h1M235.6 342.7h1M261 321.9h1M236 346.8h1M252.4 326.8h1M237 343.4h1M247.7 329.8h1M272.2 321.2h1M238.4 349.4h1M269.7 317.3h1M240.5 335.2h1M234.2 338h1M255.9 323.7h1M262 350.8h1M256.5 324.6h1M246.4 335.3h1M261.2 349.2h1M267.8 339.5h1M269.4 335.2h1M272.7 331.1h1M246.2 331.4h1M259.8 322.3h1M272.3 322.6h1M270.1 319.8h1M263.9 318.3h1M256.8 325.8h1M271.5 318.5h1M235 341.3h1M263.7 344.1h1M268.1 332.6h1M268.7 339.1h1M232.7 343.7h1M264.4 321.1h1M253.8 330.1h1M241 354.9h1M265.9 338.9h1M269.1 331.8h1M238.7 346.7h1M237.8 347.2h1M264.3 344.1h1M262.5 347.6h1M259.1 327.4h1M246.7 327.5h1M236.6 347.4h1M237.4 345.5h1M234.6 336h1M271.3 330.2h1M262.5 347.6h1M250.3 330.7h1M256.3 352.5h1M246.9 330.7h1M255.4 324.9h1M240.9 351h1M269.9 322.7h1M239.1 338h1M236.6 348.4h1M263 343.1h1M248.8 332.8h1M270.8 319.4h1M266.5 317.1h1M267.5 338.3h1M236.5 350h1M244.2 336.1h1M273.5 323.5h1M264.3 321h1M238.7 346.5h1M246.9 331.8h1M256.7 322.3h1M257.3 324.2h1M239.3 335.5h1M264.8 319.7h1M271.8 328.9h1M240 353.6h1M258.8 325h1M269.9 321.1h1M258.6 353.4h1M258.7 353.8h1M264.9 340.2h1M266.7 337.1h1M266.4 336.6h1M273.7 325.1h1M236.9 340.1h1M238.5 344.4h1M253.7 323.1h1M263.3 349h1M251.1 329.6h1M259.5 351.4h1M236 346.9h1M241.6 335.8h1M257.7 353.1h1M240.2 346h1M271.3 321.2h1M274.4 322.6h1M266.8 336.8h1M241.7 348.4h1M260 321.9h1M261.2 322.1h1M268 342.9h1M275 328h1M243.8 354.3h1M259.2 353.1h1M242.2 335.5h1M235.2 340.1h1M239.3 349.6h1M242.2 354.3h1M239.6 340.6h1M258.4 324.3h1M258.5 322.8h1M260.3 321.9h1M248.7 330.7h1M271.8 322.4h1M240.8 332.1h1M260.6 342.9h1M239.6 351.4h1M269.1 318.7h1M273.4 335.2h1M270.1 320.2h1M266 337.1h1M248.7 330.5h1M260.3 344.6h1M261.9 349.6h1M244.4 331.9h1M268.4 320h1M270.1 336.9h1M239.9 346.7h1M270.2 332h1M265.6 336h1M237.4 351.5h1M267.4 340.2h1M240.7 354h1M236 349.7h1M269.1 320.1h1M264.2 341.9h1M265.6 341.8h1M251.6 330.6h1M270.1 321.4h1M264.3 349.8h1M270.9 335.3h1M237.2 341.2h1M243 332.3h1M268.2 321.9h1M250.9 330.6h1M238.4 341h1M270.9 335.7h1M258.3 325.3h1M265.2 344.7h1M242.3 335h1M273 320.7h1M247.5 354.5h1M251.2 327.1h1M248.7 334.1h1M269.5 318.2h1M261.6 352.6h1M260.6 319.1h1M237.5 344.4h1M255.5 353h1M259.8 348.6h1M241.7 334.2h1M270.8 321.8h1M245.2 330.5h1M235.5 343.7h1M236.4 339.9h1M259.2 353.9h1M270.7 329.2h1M267.4 318.6h1M270.4 319.5h1M244.8 334.4h1M273 335.6h1M261.8 323.5h1M247.8 329.9h1M250.1 328.7h1M233.5 343.2h1M241.3 354h1M240 354.5h1M240.3 351.1h1M260.2 348.6h1M265.8 337.8h1M265.9 322.5h1M238.5 335.5h1M271.8 328.5h1M242.5 334.1h1M270.3 318.1h1M257.7 323.7h1M238.1 347h1M240.3 354.2h1M245 333.7h1M262.8 319.8h1M262.7 319.8h1M246.6 354.8h1M264.9 341.7h1M269.8 321.3h1M261.3 322.2h1M231.8 342.6h1M271.1 323.5h1M237.7 334.8h1M235.6 344.8h1M237.3 339.3h1M260.8 320.5h1M273.5 324.7h1M261.6 323.2h1M268.3 331.6h1M260.9 350.9h1M259.7 351h1M250 329.5h1M269.3 321.8h1M236.8 338.9h1M246.7 333.1h1M269.8 320.5h1M249.1 329.2h1M252.2 329.4h1M261.6 321.8h1M273.2 325.9h1M247.1 354.8h1M271.5 320.6h1M248.7 326.1h1M272.8 330.1h1M236.5 343.5h1M236.9 344.7h1M263.2 347.2h1M269.8 336.7h1M255.4 325.7h1M264.8 318.9h1M268.5 340.8h1M261.9 343.7h1M239.9 350.2h1M263 352.3h1M273.8 325.5h1M233.8 338.1h1M236.1 338.4h1M263.8 345.9h1M261.9 319.5h1M236.1 346.5h1M260 324.6h1M271.1 334.9h1M243.6 330.5h1M236.8 337.3h1M254 326.4h1M254.5 326.3h1M267.4 335.8h1M258.5 325.4h1M258.5 351h1M237.6 341.3h1M257.4 324.3h1M240.1 353.6h1M238 351.5h1M270.9 319.5h1M241.8 353.3h1M270.7 337.5h1M261 352.1h1M260.8 352.8h1M260.2 322.7h1M236.6 349.6h1M236.6 339.7h1M271.9 330.2h1M262.8 344.5h1M252.6 328.8h1M270.9 323.2h1M255.2 322h1M256.3 350.6h1M237.7 341.5h1M267.6 343.7h1M270.5 329.8h1M272.6 321.4h1M239.3 332.2h1M271 323.6h1M258.4 352.7h1M242.1 333.9h1M261.5 348.4h1M246.9 335.1h1M238 336.1h1M269.8 322.4h1M260.5 353.4h1M241.7 333.4h1M235.8 343.3h1M262.2 321.4h1M235.8 345.4h1M242.1 354.5h1M250.8 333.1h1M262.4 323.1h1M266.5 342.1h1M243 354.2h1M257.7 324.8h1M241.3 352.7h1M264.5 342.7h1M261.2 319.8h1M267.9 337.9h1M259.9 345.4h1M274.9 324.1h1M234.4 341.3h1M235.7 339.9h1M261.3 322.1h1M273.7 330.7h1M254.5 328.8h1M240.3 331.8h1M267.3 341.7h1M242.1 349.9h1M263.1 346.4h1M272.6 324.4h1M245.4 330h1M270.6 329.4h1M253 330h1M255.7 352.7h1M259.6 321.6h1M263.3 350h1M235.4 338.9h1M264.9 337.5h1M239.7 334.1h1M236.8 338.3h1M245.6 330.7h1M267.1 335.8h1M239.3 346.5h1M253 328.8h1M266.2 341.2h1M267.2 319.4h1M269.6 333.1h1M255.8 324.3h1M262.1 322h1M269.3 320.6h1M274 322.2h1M250.1 331.3h1M260.9 352.2h1M233.9 341.7h1M234.5 338.6h1M240.7 338.8h1M262.9 343.9h1M264.6 321.9h1M236.7 349.6h1M266.2 340.2h1M269.2 341.3h1M250.6 327.5h1M260.7 350.7h1M273.3 322.3h1M236.7 347.4h1M270.9 322h1M261.8 351.1h1M239.7 350.7h1M264.8 343.7h1M261.8 322.9h1M243.2 335.1h1M255.7 325.8h1M266.3 321.2h1M264.3 336.4h1M255.6 320.6h1M248.4 354.7h1M269.6 330.9h1M235.4 337.1h1M241 353.2h1M266.3 322.8h1M266.2 320.1h1M266.5 323.6h1M271.9 322.1h1M237.2 345.9h1M274.6 321.2h1M252.7 328.4h1M260.1 351.3h1M249.4 327.7h1M237.9 352.5h1M239.5 350.9h1M237.7 345.2h1M267.8 337.2h1M267 339.7h1M251.9 330.5h1M270.1 333.7h1M237.7 336.2h1M266.3 346.4h1M258.5 352.7h1M253.2 327.8h1M270.9 334.6h1M267.1 337.9h1M250.6 329h1M263.5 343.1h1M263.4 348.6h1M253.1 328.1h1M265.3 347.1h1M262.5 322.3h1M247.2 333.4h1M246.6 326.1h1M268.5 335.2h1M267.6 334.5h1M239 335.5h1M247.3 332.2h1M270 338h1M267.6 335.6h1M269.3 338.3h1M271.9 327.5h1M235.8 349.4h1M269.1 323.3h1M270.4 333.7h1M272.1 321.9h1M266.8 341.8h1M269.8 331.9h1M256.4 324.5h1M257.7 353.3h1M272.8 328.4h1M235 344.5h1M259.3 323.9h1M242.5 334h1M237.3 347h1M257.1 352.6h1M255.6 354.9h1M263.7 344h1M244.7 332.1h1M244.2 333h1M251.8 328.1h1M237.6 348.5h1M236.1 342.3h1M264.3 341h1M265.9 338.1h1M267.3 336.9h1M254.7 326.4h1M243.6 333.2h1M253.1 326.1h1M245.4 333.6h1M244.8 331.8h1M240.1 331.6h1M271.8 328.8h1M235.7 347.7h1M266 320.6h1M260.1 321.8h1M252 329.4h1M271 328.7h1M239.2 334.6h1M249.4 328.5h1M266.4 320.1h1M241.3 354.1h1M236.8 351.2h1M252.1 326.9h1M239.6 341.2h1M270.4 334.2h1M243.3 353h1M242.9 351.8h1M264.2 323.3h1M274.1 326.7h1M260.6 349.2h1M270 330.5h1M267.8 336.1h1M237.7 345.9h1M259.4 323h1M233.9 346.8h1M241.2 331.3h1M240 345.5h1M238.6 345.4h1M262.3 320.4h1M249.1 332h1M272 329.5h1M269 333.8h1M239.6 351.9h1M240.4 336.4h1M266.9 342.6h1M254 326.1h1M238.6 350.4h1M246.9 331.2h1M270 321.7h1M263.8 320.4h1M239.1 349.1h1M266 345.4h1M271.6 331.9h1M266.7 338.4h1M250.6 327.2h1M271.5 330.9h1M260.1 323.9h1M250.7 329h1M263.5 353.3h1M241.5 336.7h1M241.5 354.3h1M254.7 354.4h1M242.4 332.8h1M244.7 333.4h1M268.9 333.7h1M252.6 328.7h1M267.5 321.8h1M262.8 321.5h1M266.7 343.7h1M255.1 327.4h1M253.1 325.5h1M262.2 349h1M266.1 343.7h1M237 343.7h1M272.1 332.6h1M260.2 353h1M235.1 338.8h1M263.6 320.4h1M238.9 333.9h1M238.4 336.3h1M257.8 354.1h1M268.5 339.4h1M244.2 354.4h1M266.1 343.9h1M245.3 330.4h1M266.8 344.3h1M243.8 332.1h1M241.5 351.1h1M273.3 326.6h1M257.8 324.5h1M265.4 347.8h1M261.8 320.7h1M245.9 333h1M272.1 324.4h1M259.3 352.3h1M273 333.6h1M248.7 329.2h1M267.4 339.6h1M273.9 323.2h1M272.9 323.1h1M238.2 340h1M265.4 346.3h1M270.6 332.6h1M260.8 352.8h1M269 328.5h1M248.4 330.4h1M273.5 321.3h1M237 337.2h1M264.1 350h1M233.8 339.2h1M237.2 332.7h1M270.4 326.8h1M238.2 337.2h1M257.4 323.3h1M241.5 354.9h1M237.1 347.7h1M264.2 343.7h1M270.1 332.6h1M236.1 337.2h1M243.4 333.1h1M272.6 333.1h1M268.6 323.5h1M261 348.6h1M240.6 349.5h1M261.3 350.9h1M257.8 323.2h1M242.3 336.4h1M256 328.2h1M241.7 350.7h1M237.5 334.6h1M259.1 326.5h1M267.2 320.3h1M272.4 335.2h1M242.2 332.5h1M265.5 336.9h1M238.6 337.1h1M265.3 346.2h1M237.9 345h1M236.6 342.8h1M257.8 328.1h1M249 328.6h1M235.2 341.6h1M270.5 330h1M272.3 325.4h1M238.6 335.8h1M252.3 325.8h1M237.5 337.4h1M243.7 354.8h1M238.8 349.7h1M236.5 340h1M242.2 353.5h1M258.9 351h1M248.1 329.1h1M261.9 352.1h1M253.2 327.2h1M244.2 333.5h1M243.3 335.6h1M246.3 332.4h1M258.9 323.8h1M263.3 322.5h1M261.3 352.5h1M234.2 338.5h1M256.9 320.5h1M234.6 350.9h1M264.3 320.9h1M268.8 321.4h1M241.9 333.8h1M252.2 328.7h1M261.1 351.3h1M247.4 353.6h1M272.3 324.8h1M259.3 319h1M244.9 353.5h1M249.2 328.6h1M270.3 333h1M247.9 329.3h1M265.1 341.8h1M235.4 343.8h1M270.8 329.2h1M252.4 327.2h1M257.6 321.8h1M256.6 323.7h1M260 319.3h1M238.5 348.3h1M237.4 345.5h1M248.3 326.2h1M270.8 332.3h1M273.2 324.1h1M243 330.3h1M267.5 339.2h1M267.7 319.3h1M270.1 320h1M234.9 347.4h1M239.8 334.2h1M241.9 331.9h1M261.2 320.8h1M254.6 324.6h1M251.6 327.7h1M255.6 326.2h1M241.3 335.9h1M258.2 353.8h1M265 338.6h1M253.5 329.6h1M236.4 341h1M239 344.3h1M235.1 340.5h1M238.4 350h1M238.7 333.4h1M257.2 353.5h1M264.5 337.9h1M254.6 325.8h1M249 327.9h1M236.1 342.8h1M271.2 333.1h1M270 322.8h1M256.5 326.2h1M254.8 325.9h1M265.7 343.5h1M238.2 350.4h1M265.9 322.3h1M258.3 352.2h1M234.8 341.3h1M260 349.6h1M241.1 330.9h1M254.2 324.6h1M271.7 328.1h1M236.8 344.1h1M258.2 349.7h1M270.1 334.1h1M259.8 351.6h1M253.8 326.9h1M238.8 334.5h1M264 322.4h1M267.4 320.2h1M262.2 319.4h1M238.3 347.4h1M260.4 349.8h1M247.5 333.6h1M239.8 353.7h1M268.2 339.9h1M241 335.3h1M269.6 335.7h1M273.8 326.1h1M239.7 351.6h1M246.2 331.5h1M265.2 345.6h1M263.5 347.1h1M272.7 329.4h1M241.3 350.2h1M241.4 333.2h1M271.8 325.8h1M272 323.9h1M265.1 342.8h1M269.2 334.3h1M262.4 321.6h1M271.2 322.2h1M261.4 351.4h1M241.3 349.6h1M265.7 322.8h1" stroke="#000" stroke-width="1" fill="none"/>
<path d="M239.2 331.2h1M253.1 329.9h1M258.1 353.3h1M249.1 347.1h1M241 350.7h1M246.6 330.2h1M252.4 345.2h1M260.2 342.7h1M248.2 326h1M256 343.3h1M244.4 334.3h1M245.4 354.5h1M241.4 332.5h1M272 339.9h1M244.3 333.8h1M257.8 352.3h1M251.8 332.9h1M238.9 341.3h1M245.4 351.6h1M287.1 321h1M231.9 332.2h1M241 351.1h1M246.5 346.3h1M239.6 339.7h1M251.4 345.8h1M233.3 345.6h1M248.8 331.9h1M242.7 344.6h1M229.7 347.7h1M238 338.1h1M253 330.4h1M252.4 336.5h1M246.9 346.1h1M255.2 347.9h1M257.2 346.2h1M266.8 322.3h1M241.9 346.2h1M254.5 338.9h1M261.9 341.6h1M248.5 338h1M238.4 328.4h1M261.3 343.8h1M261.1 335.2h1M262.6 334.8h1M244.9 341.4h1M245.4 334.9h1M269.5 319.3h1M238.4 351.7h1M248.1 337h1M248.9 325.5h1M249.4 339.6h1M259.7 340.6h1M248.4 338.3h1M257.1 336.2h1M248.6 318h1M246.6 343.7h1M251 340.4h1M241.7 335.7h1M235.3 335.7h1M252.4 345.8h1M234.4 348.2h1M260 339.3h1M263 324.7h1M269.6 331.3h1M259.6 329.1h1M231.5 342.3h1M263.4 328.5h1M241.3 347.5h1M253.7 347.7h1M264.1 323.2h1M237.6 350.4h1M263.2 340.7h1M260 347.8h1M253.4 349.2h1M256.8 342h1M250.6 352.2h1M265.2 339h1M263.8 334.3h1M246.3 348.5h1M239.2 353.9h1M238.2 351.8h1M248.5 339.9h1M247.9 344.7h1M237.9 340.7h1M242.2 325.6h1M231.3 341.3h1M266.2 330.1h1M263 331.8h1M255.8 341.9h1M235.5 350.4h1M240.2 337.8h1M240.8 342.1h1M255.4 338.1h1M238.7 354.2h1M263.4 337.8h1M246.5 342.3h1M249.8 333.8h1M253.6 333.5h1M236.5 334h1M247.7 346.8h1M263.9 348.8h1M262.2 332.9h1M253.7 343.9h1M248.7 331.9h1M258.7 352.6h1M241.6 341.6h1M253 341.3h1M241.1 339.7h1M254.3 351.8h1M258.6 334.6h1M255.6 339.7h1M260.9 337.9h1M252.7 335.5h1M247.5 351.4h1M240 347.9h1M242.6 351.2h1M256.9 327.6h1M248.1 325.9h1M239.1 345.3h1M236.4 350.3h1M250.2 343h1M253.3 354.8h1M254.5 317h1M219.1 345.7h1M241 338.7h1M246.9 339.7h1M236.9 327.4h1M245.1 324.3h1M270 324.9h1M247.3 346.6h1M244.3 347.3h1M228.7 354.1h1M265.9 354.5h1M256.8 334.1h1M242.1 339.9h1M271.5 342.8h1M254.2 346.6h1M261.6 326.7h1M260.7 347.5h1M241.3 353.7h1M248.2 352.9h1M227.5 352.4h1M258.6 346.7h1M259 336h1M261.5 318.6h1M244.6 338.7h1M253.9 351.3h1M237.5 350.8h1M259.4 334.2h1M257.7 343.6h1M245.3 349.3h1M246.6 327h1M259.2 341.9h1M262.3 341.7h1M261.5 352h1M248.7 348.9h1M251.1 351.8h1M276.2 337h1M262.3 327h1M277.8 337.3h1M249 354h1M270 346.4h1M237.8 344h1M269.1 328h1M262.4 335.9h1M255.2 339.8h1M260.7 349.6h1M249.7 350.3h1M241.9 342.2h1M258.8 340.4h1M248.1 354.2h1M256.7 327.1h1M242.7 344.8h1M239.5 348.6h1M258.1 327.2h1M250.9 346.5h1M261.6 344.4h1M261.5 344.5h1M268.4 341.5h1M233.3 354.9h1M254.9 342.2h1M253.1 338.3h1M248.1 339.1h1M235.6 350.9h1M256.5 333.1h1M228.7 348.6h1M249.1 350.6h1M242.6 350.1h1M247.2 347.1h1M260 337.3h1M248.8 353.4h1M251.4 334h1M255.7 335.9h1M224 348.5h1M225.1 339.6h1M234.1 334.2h1M241.2 328.5h1M266 345.8h1M253.9 333.2h1M258.8 354.9h1M256.1 349h1M259.2 341.8h1M244.6 339.1h1M260 339.6h1M243.2 344.2h1M255 321.5h1M251.1 335.1h1M252.6 332.1h1M249.4 340.7h1M239 348.9h1M238.3 339.4h1M242.7 332.5h1M244.4 339.3h1M248.4 348.4h1M283.1 336.5h1M256.9 349.7h1M261.7 337.7h1M257.1 335h1M252.9 323.4h1M266.5 326.7h1M227.8 338.1h1M257.9 331.5h1M270.9 343h1M252.2 345.2h1M259.6 348h1M236.1 339.6h1M263.5 323.6h1M265.4 353.1h1M250.7 333.1h1M262.9 325.9h1M248.3 340.5h1M250.1 327.3h1M252.1 345.8h1M269.9 328.3h1M254.6 323.4h1M254.4 337.5h1M254.8 350.2h1M247.2 333.1h1M245.6 344.3h1M246.7 340.9h1M274.8 311.1h1M241.5 338.4h1M230 340.8h1M263.4 352h1M248.9 347.7h1M249 347.7h1M256.7 335.4h1M255.9 344.5h1M239.3 354.4h1M256.5 352h1M257.7 342h1M247.9 349.5h1M259.1 331h1M259.1 337.8h1M239.9 327h1M267.6 324.1h1M261.9 326.2h1M247.8 341.8h1M245.9 322.4h1M248.7 354.1h1M231.5 351.1h1M253.9 336.7h1M249.3 337.7h1M244.3 327.9h1M247.1 340.6h1M241.5 328.5h1M239.5 341.9h1M252.6 336.9h1M257.8 335.5h1M250 344.1h1M256.8 334.8h1" stroke="#000" stroke-width="1" fill="none"/>
<path d="M279.5 312.5h1M264.2 310.4h1M249.3 309.2h1M254.8 311.9h1M254.4 308.6h1M258.7 307.1h1M254.9 310.6h1M252.6 295.2h1M275.1 316.1h1M260.7 298.3h1M257.3 313.2h1M258 307.4h1M258.3 315.1h1M272.8 307.6h1M264.6 300.7h1M270.4 314.9h1M232.2 308.6h1M263.2 308.2h1M269.8 307.9h1M278.1 314.4h1M260.6 313.1h1M244.9 309h1M265.6 296.5h1M254.9 304.5h1M244.2 308.1h1M254.7 319.9h1M269.8 310.1h1M271.1 306.7h1M266.8 315.7h1M250.9 306.6h1M283 307.2h1M249.8 308.5h1M259.6 296.9h1M247.3 314.1h1M272.2 310.4h1M264.3 305.4h1M268.3 299.4h1M261.2 308.9h1M259.7 317.2h1M261.9 302.9h1M243.4 300h1M269.3 310.3h1M268.6 296.2h1M256.8 291.8h1M260.2 304.3h1M263.1 302.6h1M274.5 305.5h1M264.3 303.5h1M260.8 309.7h1M255.8 305.9h1M246.8 303.2h1M255 304.2h1M261 311.8h1M258.1 314.1h1M261.1 313.7h1" stroke="#000" stroke-width="1" fill="none"/>
<path d="M296 324.7h1M264.1 318.9h1M282.4 332.9h1M287.9 318.8h1M292.1 335.9h1M277.5 330.7h1M301.8 319.7h1M292.9 326.2h1M285.5 332.5h1M291.8 324.2h1M287.7 318.2h1M284.4 326.1h1M294.5 337.3h1M286.8 316.4h1M279.2 328.7h1M285.4 325.4h1" stroke="#000" stroke-width="1" fill="none"/>
<path d="M309.4 318h1M306.1 295.2h1M307 310.8h1M323.2 307h1M318 315.1h1M298.8 308.4h1" stroke="#000" stroke-width="1" fill="none"/>
<rect x="215.5" y="282.5" width="117" height="74" fill="none" stroke="#111" stroke-width="1"/>
<line x1="215.3" y1="282.5" x2="215.3" y2="356.5" stroke="#000" stroke-width="1.6"/>
<line x1="215.5" y1="356.7" x2="332.5" y2="356.7" stroke="#000" stroke-width="1.5"/>
<line x1="274.5" y1="282.5" x2="274.5" y2="356.5" stroke="#111" stroke-width="1"/>
<line x1="215.5" y1="319.5" x2="332.5" y2="319.5" stroke="#111" stroke-width="1"/>
<path d="M215.5 356.5v4.8M215.5 356.5h-5M224.31 356.5v2.9M215.5 350.93h-3.1M229.46 356.5v2.9M215.5 347.67h-3.1M233.11 356.5v2.9M215.5 345.36h-3.1M235.94 356.5v2.9M215.5 343.57h-3.1M238.26 356.5v2.9M215.5 342.1h-3.1M240.22 356.5v2.9M215.5 340.87h-3.1M241.92 356.5v2.9M215.5 339.79h-3.1M243.41 356.5v2.9M215.5 338.85h-3.1M244.75 356.5v4.8M215.5 338h-5M253.56 356.5v2.9M215.5 332.43h-3.1M258.71 356.5v2.9M215.5 329.17h-3.1M262.36 356.5v2.9M215.5 326.86h-3.1M265.19 356.5v2.9M215.5 325.07h-3.1M267.51 356.5v2.9M215.5 323.6h-3.1M269.47 356.5v2.9M215.5 322.37h-3.1M271.17 356.5v2.9M215.5 321.29h-3.1M272.66 356.5v2.9M215.5 320.35h-3.1M274 356.5v4.8M215.5 319.5h-5M282.81 356.5v2.9M215.5 313.93h-3.1M287.96 356.5v2.9M215.5 310.67h-3.1M291.61 356.5v2.9M215.5 308.36h-3.1M294.44 356.5v2.9M215.5 306.57h-3.1M296.76 356.5v2.9M215.5 305.1h-3.1M298.72 356.5v2.9M215.5 303.87h-3.1M300.42 356.5v2.9M215.5 302.79h-3.1M301.91 356.5v2.9M215.5 301.85h-3.1M303.25 356.5v4.8M215.5 301h-5M312.06 356.5v2.9M215.5 295.43h-3.1M317.21 356.5v2.9M215.5 292.17h-3.1M320.86 356.5v2.9M215.5 289.86h-3.1M323.69 356.5v2.9M215.5 288.07h-3.1M326.01 356.5v2.9M215.5 286.6h-3.1M327.97 356.5v2.9M215.5 285.37h-3.1M329.67 356.5v2.9M215.5 284.29h-3.1M331.16 356.5v2.9M215.5 283.35h-3.1M332.5 356.5v4.8M215.5 282.5h-5" stroke="#000" stroke-width=".9" fill="none"/>
<text transform="translate(212.2 365.7) scale(1.38 1)" font-size="5.4" stroke="#000" stroke-width=".3">10</text>
<text transform="translate(219.8 362.8) scale(1.7 1)" font-size="4.9" stroke="#000" stroke-width=".3">0</text>
<text transform="translate(207.6 359.1) rotate(-90) scale(.6 1)" font-size="7.6" stroke="#000" stroke-width=".3">10</text>
<text transform="translate(202.3 354.1) rotate(-90) scale(.62 1)" font-size="7.6" stroke="#000" stroke-width=".3">0</text>
<text transform="translate(239.85 365.7) scale(1.38 1)" font-size="5.4" stroke="#000" stroke-width=".3">10</text>
<text transform="translate(247.45 362.8) scale(1.7 1)" font-size="4.9" stroke="#000" stroke-width=".3">1</text>
<text transform="translate(207.6 341.6) rotate(-90) scale(.6 1)" font-size="7.6" stroke="#000" stroke-width=".3">10</text>
<text transform="translate(202.3 336.6) rotate(-90) scale(.62 1)" font-size="7.6" stroke="#000" stroke-width=".3">1</text>
<text transform="translate(268.6 365.7) scale(1.38 1)" font-size="5.4" stroke="#000" stroke-width=".3">10</text>
<text transform="translate(276.2 362.8) scale(1.7 1)" font-size="4.9" stroke="#000" stroke-width=".3">2</text>
<text transform="translate(207.6 323.1) rotate(-90) scale(.6 1)" font-size="7.6" stroke="#000" stroke-width=".3">10</text>
<text transform="translate(202.3 318.1) rotate(-90) scale(.62 1)" font-size="7.6" stroke="#000" stroke-width=".3">2</text>
<text transform="translate(298.05 365.7) scale(1.38 1)" font-size="5.4" stroke="#000" stroke-width=".3">10</text>
<text transform="translate(305.65 362.8) scale(1.7 1)" font-size="4.9" stroke="#000" stroke-width=".3">3</text>
<text transform="translate(207.6 304.2) rotate(-90) scale(.6 1)" font-size="7.6" stroke="#000" stroke-width=".3">10</text>
<text transform="translate(202.3 299.2) rotate(-90) scale(.62 1)" font-size="7.6" stroke="#000" stroke-width=".3">3</text>
<text transform="translate(325.1 365.7) scale(1.38 1)" font-size="5.4" stroke="#000" stroke-width=".3">10</text>
<text transform="translate(332.7 362.8) scale(1.7 1)" font-size="4.9" stroke="#000" stroke-width=".3">4</text>
<text transform="translate(207.6 286.3) rotate(-90) scale(.6 1)" font-size="7.6" stroke="#000" stroke-width=".3">10</text>
<text transform="translate(202.3 281.3) rotate(-90) scale(.62 1)" font-size="7.6" stroke="#000" stroke-width=".3">4</text>
<text x="257.9" y="370.4" font-size="4.8" font-weight="bold" textLength="33.6" lengthAdjust="spacingAndGlyphs">IL-2 FITC</text>
<text x="197.1" y="319.5" font-size="8.6" text-anchor="middle" font-weight="bold" textLength="20.5" lengthAdjust="spacingAndGlyphs" transform="rotate(-90 197.1 319.5)">INF-G PE</text>
<text x="225.4" y="293" font-size="6.9" textLength="33.6" lengthAdjust="spacingAndGlyphs" stroke="#000" stroke-width=".25">0.25%</text>
<text x="284.8" y="293" font-size="6.9" textLength="33.7" lengthAdjust="spacingAndGlyphs" stroke="#000" stroke-width=".25">0.05%</text>
<text x="286" y="348.8" font-size="6.9" textLength="33.4" lengthAdjust="spacingAndGlyphs" stroke="#000" stroke-width=".25">0.03%</text>
<text x="381" y="267.1" font-size="6.8" textLength="124.2" lengthAdjust="spacingAndGlyphs" stroke="#000" stroke-width=".25">CD4<tspan font-size="4.8">dim</tspan>CD8<tspan font-size="4.8">bright</tspan> T Cells</text>
<clipPath id="c3"><rect x="393.5" y="282.5" width="116" height="74"/></clipPath>
<g clip-path="url(#c3)">
<polygon points="448.5,323.1 443,323 436.9,326.2 430.8,330.8 426.9,335.4 427.7,339.2 433,340.8 439.2,337.7 444.6,332.3 448.5,326.9" stroke="#000" stroke-width=".8" stroke-linejoin="round"/>
</g>
<path d="M428.4 338.5h1M447.8 324.3h1M446.8 324.5h1M448.7 325.7h1M442.5 326.7h1M432 341.8h1M431.6 330.6h1M435.5 324.9h1M432 327.8h1M446.2 323.3h1M440.4 336.6h1M428.9 334.8h1M439.7 337.9h1M446.1 333.3h1M430.9 339h1M429.7 330h1M438.6 323.2h1M438.2 339.4h1M438.1 338h1M441.9 333.8h1M438 324.7h1M445.4 323.3h1M447.9 331.9h1M433.6 339.9h1M442.1 321.5h1M440.4 337.3h1M443.2 325.2h1M435.5 338.7h1M432 340.3h1M438.6 336.5h1M441.5 323.6h1M447.8 328.6h1M448.3 325.5h1M448.1 323.6h1M442.2 336.3h1M432 331.7h1M447.1 325.7h1M433.5 341.3h1M440.6 336.4h1M438.7 338.2h1M438.8 327.6h1M444.2 329.2h1M437.8 339h1M437.2 324h1M428.9 332.4h1M440.9 323.4h1M428.1 333.7h1M451.1 324.5h1M427.1 332.1h1M429.1 333.2h1M443.3 332.9h1M443.1 321.9h1M443.1 325.9h1M442.3 335h1M439.3 324.3h1M433.9 338.1h1M444.4 332h1M429.5 339.9h1M444.9 322.5h1M436.7 325.4h1M430.5 340.2h1M449 328.1h1M439.3 338.7h1M439 337.6h1M432.9 339.9h1M433.6 334.3h1M433.4 342.6h1M447.1 323.9h1M425.4 335.6h1M445.5 331.9h1M437.3 325.9h1M437 339.4h1M440.2 337h1M439.2 323.5h1M444.5 329.6h1M433.8 328.3h1M449.1 325.8h1M430.4 328.3h1M436.7 340.2h1M447.3 328h1M443.5 331.6h1M426 339h1M439.5 323.7h1M432.7 341.2h1M434.2 339.1h1M446.7 321.1h1M428.5 332.7h1M448.9 331.2h1M426.3 338.8h1M437.6 323.6h1M433.6 339.9h1M427.4 337.1h1M447.6 330.4h1M426.5 337h1M448.3 320.7h1M439.7 324.5h1M437.7 325.9h1M447.7 326.5h1M427.5 333.7h1M429.8 329.4h1M451.6 323.3h1M435.7 326h1M435.5 341h1M447.6 326.9h1M448.7 327.6h1M439.9 323.4h1M427 339h1M431.9 329.3h1M438.3 341.7h1M436.6 327.4h1M438 327.8h1M434.5 326.8h1M440.1 323.3h1M437.1 336h1M433.9 328.2h1M428.5 332.7h1M432.6 327.9h1M428.3 332.9h1M432.4 329.2h1M429 332.8h1M440 337.2h1M438.2 325.3h1M434.9 340.2h1M429.9 332h1M441.9 323.3h1M440.2 323.7h1M447.8 328.7h1M445.2 323.9h1M434.2 327.6h1M447.5 332.2h1M443.9 325.3h1M434.3 328.1h1M432.7 327.8h1M446.2 329.5h1M441.3 323h1M447.3 326.6h1M441.3 325h1M432.5 340.1h1M442.6 334.1h1M432.3 342.5h1M427.2 338.4h1M426.5 337.3h1M434.2 329.2h1M448.4 321.6h1M424.8 334.5h1M435.5 338.5h1M430.8 339.3h1M450.5 322.6h1M437.3 325.3h1M442 325.4h1M448.3 328.2h1M427.8 339.8h1M437.4 337.7h1M434.8 339.2h1M443.6 333.8h1M443.6 329.5h1M438.3 335.2h1M448.9 323.7h1M447.6 332h1M445.9 321.6h1M449 330.6h1M452.5 324h1M440.4 337.2h1M435.8 338h1M445.5 323.9h1M441.2 338.5h1M431.8 340.7h1M441.3 326h1M447.8 326h1M434.6 342.8h1M427.7 337.2h1M448.5 323.6h1M437.1 327.3h1M438.6 326.9h1M447.7 330.8h1M439.3 326.7h1M444.9 332.6h1M434.7 325.2h1M445.2 332.1h1M430.4 334.3h1M434.9 340.5h1M432 339.5h1M430.3 333.8h1M428.6 340.9h1M432 339.5h1M440.2 327.6h1M448.6 331.1h1M445 330.7h1M438.6 325.4h1M436.8 325h1M428.5 332h1M439.3 335.4h1M427.3 338.1h1M431.8 328.6h1M443.1 334.4h1M435.8 327.1h1M438.6 336.8h1M442.1 334.9h1M439.6 324.6h1M429.1 341.2h1M433.1 341.2h1M448.9 326.2h1M431.6 328.1h1M423.8 337.4h1M448.5 326h1M438.9 325.6h1M448 330h1M429.3 330.8h1M430.7 333.3h1M449.4 321.6h1M427.7 335.2h1M436.1 328h1M438.6 325h1M439.5 336.2h1M437.6 339h1M434.3 327.4h1M429.1 338.1h1M433.3 330h1M443.5 329.7h1M429.6 332h1M433.8 340h1M446.8 325.3h1M435.4 327.9h1M450.1 324.1h1M427.1 334.9h1M436.1 338.4h1M431.5 328.3h1M439 339.2h1M441.9 336h1M434.5 342.8h1M446.5 332.6h1M426.6 339.4h1M446.1 325h1M447.5 328.5h1M429.9 339.6h1M432.7 340.9h1M435 341.9h1M444.6 323.4h1M435.6 328.8h1M440.9 320.6h1M437.1 340h1M443.8 331.4h1M437.3 336.8h1M442.5 333h1M430.8 331.9h1M446.3 322.9h1M427 335.5h1M439.6 326.3h1M434.3 327.6h1M434.4 327h1M439.5 326.2h1M438.6 339.4h1M433.6 342.5h1M447.7 329.6h1M445.3 323.9h1M434.3 328.4h1M445.8 328.6h1M441.6 337.3h1M431.3 339h1M454.1 324.2h1M429.2 337.9h1M449.4 324.2h1M443.1 321.9h1M431 331.8h1M439.6 339.2h1M434.3 341.1h1M438.5 334.9h1M447.7 322h1M435.5 328.8h1M428.9 338.1h1M435.5 338.6h1M427.4 335.3h1M437 328h1M430.4 330.4h1M441.3 335.5h1M439.7 336.3h1M434.6 327.7h1M449.5 325.8h1M446 324.1h1M435.7 327h1M424.9 337.3h1M442 330.7h1M432.2 342.2h1M435.4 338.1h1M448.9 327.7h1M428.4 332.5h1M436.9 326.8h1M428.7 336.6h1M430.6 339.5h1M439.4 324.3h1M445.1 322.8h1M440.3 336.9h1M452.6 321.3h1M445.1 326.9h1M429 332.5h1M426.8 335.6h1M446.1 331.9h1M447.9 321.7h1M426.1 334h1M450.4 326.6h1M437.4 340.5h1M439.9 323.2h1M425.1 334.8h1M446.7 323.5h1M427 331.8h1M430.6 340h1M444.6 332.5h1M429.9 330.2h1M437.1 339.4h1M436.6 338.7h1M429.5 342.4h1M434.7 341h1M428.2 335.2h1M433.4 341.5h1M427 335.1h1M447.9 328.2h1M441.9 321.7h1M444.7 329.2h1M443.6 337.7h1M447.1 322.2h1M441.1 335.9h1M429.8 331.4h1M430.2 338.9h1M425.7 341.7h1M443.7 334.4h1M427.2 336.8h1M433.8 340.3h1M436.3 324.3h1M447.5 322.4h1M438.1 340.2h1M446.6 323.7h1M443.1 322.2h1M449.5 327.1h1M426.6 331.8h1M436.3 338.1h1M433.5 328.6h1M441.9 339.7h1M426.5 337.1h1M445.1 332.8h1M432.4 327.7h1M429.5 331.9h1M436.6 337h1M443.1 322.7h1M445.9 324.1h1M435 338.5h1M449.4 323.2h1M437.4 325.9h1M439.8 334.8h1M437.4 324.7h1M442.7 322h1M426.1 336.2h1M426.4 335.7h1M430.9 341.8h1M425.3 337h1M437.3 325.5h1M435.9 337.6h1M434 327.4h1M432.6 327.8h1M441 335.9h1M439.4 338.4h1M443.2 336.3h1M449.9 329h1M443.4 329.9h1M438 327.6h1M448.8 324.5h1M429 338.2h1M430.5 341.3h1M433.3 326.6h1M430.6 334.3h1M432.1 338.9h1M445.8 323.6h1M439 338.8h1M429.4 332.4h1M439.5 336.9h1M443.3 336.2h1M433.1 339.3h1M443.9 321.2h1M431 338.6h1M428.7 331.8h1M440.3 337.8h1M440.4 334.5h1M426 339.1h1M438.9 337h1M441.9 324.5h1M444.5 331.2h1M449.2 326.4h1M446.4 326.8h1M443.3 333.8h1M428.5 336.5h1M447.5 324h1M429.9 340.6h1M436.3 326.9h1M431.8 340.2h1M443.9 329.9h1M439.5 337.7h1M445.8 329.8h1M445 323.1h1M448.5 325.6h1M447.9 326.5h1M429.1 337.8h1M448.9 326.8h1M436.1 325.4h1M427.4 332.3h1M440.3 324.9h1M437.6 338.5h1M448.4 325.8h1M448.7 323h1M445.9 323.8h1M440.2 336.8h1M433 338.1h1M434.9 325.7h1M448 329.3h1M431.6 341.1h1M443.9 323.9h1M429.6 334.6h1M437.7 338h1M445 331.6h1M437.2 326.5h1M431.7 339.9h1M441.8 324.6h1" stroke="#000" stroke-width="1" fill="none"/>
<path d="M438.4 341.4h1M438.2 336.4h1M423 333.4h1M441.1 339.8h1M427.7 349.2h1M433.3 337.3h1M413.1 349.6h1M426.8 347.2h1M433.6 333.1h1M430.8 345.3h1M429.2 334.5h1M418.2 343.3h1M441.3 333h1M430.8 331h1M431.1 340h1M435.6 340.3h1M429.5 332.8h1M443.1 337.5h1M431 336.6h1M423.5 348.8h1M430.3 342h1M438.2 332.2h1M433.4 335.1h1M423.6 334.6h1M433.2 334.2h1M429.8 336.1h1M440.1 344.1h1M424.2 351.3h1M421.5 338.2h1M438 340.3h1M430.6 341.9h1M432.4 336.7h1M445.2 333.1h1M431.7 344.7h1M431.2 336.4h1M426.9 341.3h1M427.8 343.4h1M427.9 336.1h1M422.6 347.2h1M417.6 349h1M438.1 330.9h1M428.2 336.8h1M439.4 336.2h1M434.7 343.1h1M433.3 340.7h1M433.1 333.3h1M438.1 339.9h1M424.1 346.1h1M440.8 337h1M428.6 349.2h1M430 335.2h1M447.3 327.9h1M430.1 337.1h1M439.4 328.8h1M435 350h1M438 341.1h1M426.5 332.3h1M435.3 339.9h1M424.2 341.4h1M428.9 348.9h1M433.7 338.8h1M420.8 346.2h1M426.4 344.3h1M436.6 338.7h1M427.5 342.8h1M425 343h1M423.9 344.3h1M433.8 341.4h1M425.7 336.8h1M432.3 339.3h1M429.8 340.3h1M441.8 329.6h1M430.7 345h1M415 343.3h1M431 337.9h1M428.9 336.3h1M434 341.5h1M419.7 345.2h1M438.7 335.1h1M432.3 341.7h1M426.4 333.4h1M422.6 348.9h1M432.2 334.7h1M430.2 339.2h1M439.7 333.4h1M431.1 345.2h1M425.6 348.6h1M437.4 346.8h1M426 344.8h1M432.6 336.1h1M423 342.7h1M432.5 343.3h1M434.6 347.7h1M432.1 341.5h1M426.4 339.8h1M427 344.7h1M431.7 341.3h1M427.8 342.7h1M430.1 336.1h1M422.1 330.5h1M415.5 347.7h1M434.1 344.7h1M440.8 334.6h1M426.8 329.3h1M435.2 337.3h1M428.8 330.1h1M434.2 350.4h1M423.4 346.7h1M433 331.3h1M440.4 338.6h1M432.7 334.1h1M435.7 340.4h1M433.9 338.3h1M427.7 335.1h1M435.1 341.5h1M427.5 334.3h1M437.4 344.1h1M425.5 344.4h1M424.3 338.4h1M429.6 329.8h1M434 348.3h1M428.5 334.1h1M444 332.2h1M435.3 335.8h1M435.4 336.6h1M426.4 341.8h1M428.5 351h1M430.5 341.5h1M426.1 332.1h1M432.7 352.1h1M435 342.9h1M432.5 332.3h1M434.1 335.8h1M422.2 340.7h1M417.9 349.7h1M432.6 341.6h1M427.9 343.8h1M432.4 335.4h1M439.4 329.3h1M444.2 336.3h1M432.9 338.2h1M445 344.5h1M439.4 329.3h1M434 343h1M433.3 338.9h1M434.5 333h1M435.2 345.8h1M428.7 342.6h1M424.1 339.4h1M430.5 338.5h1M430.5 346.9h1M432.8 331.2h1M433.4 347.2h1M442.6 336.3h1M438.2 333.4h1M427.7 351h1M443.4 342.5h1M430.7 344.2h1M440.6 334.6h1M440.1 345.4h1M435.6 346.4h1M433 333h1M427.4 341.4h1M432.9 337.5h1M432.7 336.4h1M426.2 334.2h1M436.6 342h1M425.5 344.6h1M435.3 337.8h1M428.1 351.1h1M433.7 334.7h1M434.3 337.5h1M436.8 337.9h1M426.8 340.4h1M450.2 326.1h1M432.4 344h1M432.5 339.1h1M430.8 348.7h1M438.3 330.4h1M429.2 342.7h1M433.5 329.4h1M425.3 343.4h1M431.4 335.5h1M433.3 347.2h1M439.6 338.9h1M431.3 343.2h1M431.7 351.3h1M438.7 343.9h1M426.3 348h1M423.6 341h1M432.1 330.3h1M419.9 347.8h1M435.3 334.9h1M427.2 338.8h1M425.1 342.5h1M428.3 331.7h1M440 343.3h1M424.6 337.4h1M428.6 337.6h1M438.3 338.7h1M431.5 329.5h1M434.1 343.9h1M429.7 347h1M424.9 342.5h1M424.8 337.7h1M434.5 334.7h1M429.8 329.3h1M437.7 344.3h1M440.5 333.9h1M427.7 337.9h1M426.7 337.5h1M431.1 343.8h1M448.1 337.8h1M415.2 343.2h1M431.8 336h1M429.3 330.2h1M434.2 342.3h1M446.7 330.2h1M445.8 344.2h1M436.2 335.8h1M424.9 341.7h1M432.8 334.5h1M432 344.9h1M427.2 332.5h1M435.3 342h1M429.6 342.8h1M434.2 334.7h1M439.2 328.7h1" stroke="#000" stroke-width="1" fill="none"/>
<path d="M449.2 307.2h1M450.8 304.8h1M445.9 311.3h1M447.7 308.2h1M451.7 306.5h1M446.6 313h1M445.5 309.7h1M440.8 309.2h1M445.3 308.9h1M444.9 308.2h1M445 310h1M444.1 310.7h1M440.9 311.3h1M441.6 310.9h1M443.2 310.9h1M447.5 307.4h1M442.6 307.6h1M444.6 311.8h1M447.7 307.6h1M447.5 307.8h1M444.3 310.9h1M443.5 309.4h1M447.7 307.5h1M447.8 309.2h1M444.7 311.9h1M447 308.9h1M445.7 308.8h1M448.3 305.8h1M444.8 312.2h1M448.7 307.6h1M446.8 307.6h1M441.6 309.1h1M448.1 305.8h1M446.8 305.1h1M443.5 313.1h1M451.4 304.8h1M442.4 310.8h1M443.4 310.8h1M447.3 312.2h1M449 308.5h1" stroke="#000" stroke-width="1" fill="none"/>
<path d="M444.4 314.3h1M446.7 321.7h1M444.6 318.5h1M443.6 321.2h1M447.3 318.5h1M451.7 320.9h1M450.1 316.8h1M447.1 319h1M446.3 321.1h1M447.4 320h1M449 317.1h1M444.1 319.8h1" stroke="#000" stroke-width="1" fill="none"/>
<rect x="393.5" y="282.5" width="116" height="74" fill="none" stroke="#111" stroke-width="1"/>
<line x1="393.3" y1="282.5" x2="393.3" y2="356.5" stroke="#000" stroke-width="1.6"/>
<line x1="393.5" y1="356.7" x2="509.5" y2="356.7" stroke="#000" stroke-width="1.5"/>
<line x1="452.5" y1="282.5" x2="452.5" y2="356.5" stroke="#111" stroke-width="1"/>
<line x1="393.5" y1="319.5" x2="509.5" y2="319.5" stroke="#111" stroke-width="1"/>
<path d="M393.5 356.5v4.8M393.5 356.5h-5M402.23 356.5v2.9M393.5 350.93h-3.1M407.34 356.5v2.9M393.5 347.67h-3.1M410.96 356.5v2.9M393.5 345.36h-3.1M413.77 356.5v2.9M393.5 343.57h-3.1M416.07 356.5v2.9M393.5 342.1h-3.1M418.01 356.5v2.9M393.5 340.87h-3.1M419.69 356.5v2.9M393.5 339.79h-3.1M421.17 356.5v2.9M393.5 338.85h-3.1M422.5 356.5v4.8M393.5 338h-5M431.23 356.5v2.9M393.5 332.43h-3.1M436.34 356.5v2.9M393.5 329.17h-3.1M439.96 356.5v2.9M393.5 326.86h-3.1M442.77 356.5v2.9M393.5 325.07h-3.1M445.07 356.5v2.9M393.5 323.6h-3.1M447.01 356.5v2.9M393.5 322.37h-3.1M448.69 356.5v2.9M393.5 321.29h-3.1M450.17 356.5v2.9M393.5 320.35h-3.1M451.5 356.5v4.8M393.5 319.5h-5M460.23 356.5v2.9M393.5 313.93h-3.1M465.34 356.5v2.9M393.5 310.67h-3.1M468.96 356.5v2.9M393.5 308.36h-3.1M471.77 356.5v2.9M393.5 306.57h-3.1M474.07 356.5v2.9M393.5 305.1h-3.1M476.01 356.5v2.9M393.5 303.87h-3.1M477.69 356.5v2.9M393.5 302.79h-3.1M479.17 356.5v2.9M393.5 301.85h-3.1M480.5 356.5v4.8M393.5 301h-5M489.23 356.5v2.9M393.5 295.43h-3.1M494.34 356.5v2.9M393.5 292.17h-3.1M497.96 356.5v2.9M393.5 289.86h-3.1M500.77 356.5v2.9M393.5 288.07h-3.1M503.07 356.5v2.9M393.5 286.6h-3.1M505.01 356.5v2.9M393.5 285.37h-3.1M506.69 356.5v2.9M393.5 284.29h-3.1M508.17 356.5v2.9M393.5 283.35h-3.1M509.5 356.5v4.8M393.5 282.5h-5" stroke="#000" stroke-width=".9" fill="none"/>
<text transform="translate(390.2 365.7) scale(1.38 1)" font-size="5.4" stroke="#000" stroke-width=".3">10</text>
<text transform="translate(397.8 362.8) scale(1.7 1)" font-size="4.9" stroke="#000" stroke-width=".3">0</text>
<text transform="translate(385.6 359.1) rotate(-90) scale(.6 1)" font-size="7.6" stroke="#000" stroke-width=".3">10</text>
<text transform="translate(380.3 354.1) rotate(-90) scale(.62 1)" font-size="7.6" stroke="#000" stroke-width=".3">0</text>
<text transform="translate(417.6 365.7) scale(1.38 1)" font-size="5.4" stroke="#000" stroke-width=".3">10</text>
<text transform="translate(425.2 362.8) scale(1.7 1)" font-size="4.9" stroke="#000" stroke-width=".3">1</text>
<text transform="translate(385.6 341.6) rotate(-90) scale(.6 1)" font-size="7.6" stroke="#000" stroke-width=".3">10</text>
<text transform="translate(380.3 336.6) rotate(-90) scale(.62 1)" font-size="7.6" stroke="#000" stroke-width=".3">1</text>
<text transform="translate(446.1 365.7) scale(1.38 1)" font-size="5.4" stroke="#000" stroke-width=".3">10</text>
<text transform="translate(453.7 362.8) scale(1.7 1)" font-size="4.9" stroke="#000" stroke-width=".3">2</text>
<text transform="translate(385.6 323.1) rotate(-90) scale(.6 1)" font-size="7.6" stroke="#000" stroke-width=".3">10</text>
<text transform="translate(380.3 318.1) rotate(-90) scale(.62 1)" font-size="7.6" stroke="#000" stroke-width=".3">2</text>
<text transform="translate(475.3 365.7) scale(1.38 1)" font-size="5.4" stroke="#000" stroke-width=".3">10</text>
<text transform="translate(482.9 362.8) scale(1.7 1)" font-size="4.9" stroke="#000" stroke-width=".3">3</text>
<text transform="translate(385.6 304.2) rotate(-90) scale(.6 1)" font-size="7.6" stroke="#000" stroke-width=".3">10</text>
<text transform="translate(380.3 299.2) rotate(-90) scale(.62 1)" font-size="7.6" stroke="#000" stroke-width=".3">3</text>
<text transform="translate(502.1 365.7) scale(1.38 1)" font-size="5.4" stroke="#000" stroke-width=".3">10</text>
<text transform="translate(509.7 362.8) scale(1.7 1)" font-size="4.9" stroke="#000" stroke-width=".3">4</text>
<text transform="translate(385.6 286.3) rotate(-90) scale(.6 1)" font-size="7.6" stroke="#000" stroke-width=".3">10</text>
<text transform="translate(380.3 281.3) rotate(-90) scale(.62 1)" font-size="7.6" stroke="#000" stroke-width=".3">4</text>
<text x="435.4" y="370.4" font-size="4.8" font-weight="bold" textLength="33.6" lengthAdjust="spacingAndGlyphs">IL-2 FITC</text>
<text x="375.1" y="319.5" font-size="8.6" text-anchor="middle" font-weight="bold" textLength="20.5" lengthAdjust="spacingAndGlyphs" transform="rotate(-90 375.1 319.5)">INF-G PE</text>
<text x="402" y="293" font-size="6.9" textLength="33.8" lengthAdjust="spacingAndGlyphs" stroke="#000" stroke-width=".25">2.68%</text>
<text x="462" y="293" font-size="6.9" textLength="33.4" lengthAdjust="spacingAndGlyphs" stroke="#000" stroke-width=".25">0.13%</text>
<text x="480.6" y="350.2" font-size="6.9" textLength="15.4" lengthAdjust="spacingAndGlyphs" stroke="#000" stroke-width=".25">0%</text>
<clipPath id="c4"><rect x="39.5" y="387.5" width="116" height="75"/></clipPath>
<g clip-path="url(#c4)">
<polygon points="112.7,425.4 105.8,425.4 98,427.7 90.4,430 82.7,433 76.5,437 72,441.5 72,446.2 75.8,450.8 82,453 88,449.2 93.5,443 101.2,437.7 108,433 112.7,428.5" stroke="#000" stroke-width=".8" stroke-linejoin="round"/>
</g>
<path d="M83.5 433h1M82.5 438h1M91.6 426.1h1M81.7 452.8h1M103.7 428.4h1M87.6 432.9h1M92.1 430.8h1M89.1 443.6h1M83.4 430.8h1M105.1 427.6h1M99 437.8h1M71.4 445.5h1M97.1 439.7h1M79.8 434.8h1M79 436.6h1M75 451.5h1M100.6 425.9h1M113.8 426.8h1M99 427.5h1M107.3 432h1M89.4 449.9h1M97.2 439.3h1M87.7 427.3h1M106.3 434.9h1M78.1 451.5h1M72 438.8h1M92.5 429h1M96.8 426.9h1M103.6 439.3h1M110.6 426h1M71.6 443.8h1M90 443.1h1M91.5 447.1h1M70.4 447.5h1M74.1 446.2h1M75.2 453.3h1M78.4 437.3h1M91.4 442.3h1M72.2 439.3h1M75.7 452.4h1M96 431.4h1M114.9 428.3h1M104.4 425.4h1M92 445.5h1M88.3 449.5h1M79.6 437.8h1M112 426.4h1M110.7 425.6h1M85.7 430.9h1M81.1 437.6h1M87.1 453.5h1M82.8 452.9h1M90.2 446.3h1M103.1 438.4h1M108.4 425h1M78.2 450.4h1M73.7 441.3h1M91.3 448h1M73.4 450.3h1M83.7 438.5h1M111.7 426h1M83.7 430.9h1M73.7 444h1M74.9 435.3h1M75.2 441.2h1M89.6 449.9h1M75.2 434.9h1M104.3 437.3h1M75.5 437.2h1M71.2 439.8h1M72.3 442.3h1M104.3 432.9h1M83.3 454.9h1M111.1 433.2h1M110.9 423.7h1M112.7 428.1h1M98.7 428h1M107.6 432.7h1M109 424.4h1M103.4 436.4h1M84.2 452.8h1M90.1 445.3h1M77.3 436.2h1M75.3 435.5h1M98.1 430.1h1M97.9 430h1M89 448.8h1M76 432.9h1M110.6 425.8h1M96.3 430.5h1M95.7 430.4h1M91 429.7h1M70 445.5h1M107.7 433.6h1M81 451.8h1M91.4 446.4h1M99.9 426.7h1M91.1 445h1M106 434.9h1M111.7 423.5h1M90.3 445.4h1M81.9 454.3h1M116.2 427.1h1M100.2 429.4h1M97.9 443.6h1M93.7 445.4h1M96.4 442.3h1M79.6 434.9h1M101.9 425.4h1M98 425.6h1M88.3 446h1M80.8 433.5h1M108.9 429.9h1M99.4 428.3h1M98 436.7h1M72.7 449.8h1M83.1 434.8h1M84.4 433h1M74.8 435.2h1M75.7 440.1h1M90.8 429.8h1M91.2 433.2h1M112.5 430.4h1M66.9 439.6h1M83.7 450.7h1M89.5 449.3h1M79.1 436.8h1M107.9 431h1M82.3 433.4h1M91.9 429.7h1M112.6 424.2h1M87.2 431.5h1M105.9 424.4h1M84.9 450.5h1M79.9 453.3h1M110.6 423.9h1M110.4 431.4h1M92.6 444.3h1M79.4 452.9h1M112.1 432h1M76.2 453h1M96.9 429.9h1M97.2 442h1M109.8 429.5h1M103.4 426.5h1M72.7 447.3h1M89.5 430h1M108.2 434.7h1M104.6 426.4h1M98.2 440h1M90.3 428h1M87.5 452.8h1M92.1 446h1M94.4 442.6h1M107.6 425.5h1M74.9 448.7h1M100.3 426.7h1M99.5 425.7h1M92.5 425.2h1M99.7 427.5h1M111 429.2h1M78.9 452.9h1M86.2 433.9h1M70.6 443.5h1M106.7 423.4h1M90.5 430.6h1M86.8 453.4h1M88.2 447.3h1M86.4 452.5h1M112.7 428h1M114.7 428.7h1M99.9 440.4h1M72.5 446.6h1M97 440h1M87.6 430.5h1M101.7 436.1h1M87.4 429.7h1M113.5 426.1h1M108.8 424.7h1M95.8 438.6h1M74.1 449.7h1M98.4 438h1M76.2 448.3h1M99.5 436.4h1M88.1 445.7h1M84.7 454.2h1M113.7 430.5h1M99 429.6h1M109.3 432.7h1M75.6 446.6h1M89.5 446.4h1M90.3 447.4h1M75 436.6h1M76.2 448.8h1M109.8 431.5h1M69.9 444.8h1M103.9 431.5h1M111.4 427.5h1M79.6 453.6h1M91.1 444.3h1M77 439h1M103.8 425.1h1M97.4 439.7h1M95.3 443.7h1M78.1 437.1h1M101.1 426h1M103.1 439.8h1M96.1 437.9h1M101 436.9h1M101.6 439.3h1M84.7 429.7h1M82.9 450.3h1M73.1 443.3h1M74.8 439.1h1M72.9 439.2h1M88.5 449.8h1M113.5 427.5h1M71.3 446.3h1M77.9 436.4h1M85.7 451.7h1M87.6 451.3h1M75.7 437.9h1M88 452h1M87.2 450h1M94.2 444.1h1M94.6 426.2h1M92 451.3h1M72.4 444.4h1M106.4 435.9h1M86.5 449.3h1M97.2 439h1M98.1 438.9h1M90.3 430.3h1M102.9 425.5h1M92.9 442.9h1M106 424.8h1M113.2 430.7h1M91.2 445.9h1M72.4 441.4h1M88.6 450.4h1M96.3 426.7h1M87.1 451.8h1M109.6 430.8h1M110.8 424.9h1M110.5 430.6h1M81.2 436h1M73.4 438h1M108.6 433h1M97.2 437.3h1M73.6 438.1h1M113.4 429.3h1M109.9 426.7h1M88.4 447.7h1M74 447.1h1M105.4 435.9h1M114.2 423.4h1M77.4 435.5h1M74.3 445.8h1M105.6 425.7h1M86.7 454.2h1M101.8 439.4h1M107.4 434.7h1M95.9 425.5h1M71.8 449.5h1M112.5 427.2h1M102.4 425.5h1M92.4 448.2h1M85.7 429.7h1M102.1 433.7h1M80.6 452.5h1M107.4 432.6h1M107.7 428.5h1M83.2 450.3h1M73.3 441h1M102.8 426.9h1M74.9 436.4h1M96.6 440.6h1M80.9 451.1h1M83.4 454.5h1M81.7 434.1h1M74.1 450.2h1M69.9 443.9h1M110.4 429.2h1M109.3 435.3h1M72.9 441.6h1M71.7 450.7h1M83 435.3h1M79.4 456.1h1M99.6 428.7h1M114.1 430.4h1M74.7 438.8h1M107.2 425.7h1M85.1 431h1M110.2 431.7h1M80.6 431.8h1M77.5 438.1h1M112.2 426.8h1M95 439.7h1M74.9 437.5h1M95.9 427.5h1M76.3 439.2h1M78.7 435.8h1M106.5 436.4h1M75.8 450.1h1M112 433.7h1M111.9 430.7h1M107.1 431.2h1M74 438.3h1M75.2 438.4h1M77 453.5h1M89.7 447.1h1M102 437.3h1M99 437.3h1M81.1 435h1M92 441.4h1M76.4 439.1h1M96.7 435.8h1M110.8 422.3h1M102.5 439.8h1M90.1 446.7h1M100.6 426.4h1M87.3 435.1h1M80.5 435.7h1M74.1 451.5h1M108.9 432.6h1M112.3 429.7h1M82.5 453.5h1M101 423.9h1M112.9 428.8h1M112.6 429h1M104.3 428.4h1M85.5 451.2h1M86.5 447.8h1M83.5 448.3h1M93.8 444.6h1M114 426.7h1M83.9 433h1M79.4 435.2h1M88.8 451.1h1M102.8 427.1h1M84.6 434.3h1M92.1 429.2h1M106.4 424h1M71 443.2h1M93.4 431.1h1M75.3 446.4h1M90.9 429.1h1M98.6 439.5h1M101.6 424.1h1M94.8 440.6h1M84.7 445h1M95.2 427.6h1M73.3 436.3h1M74.9 441.3h1M71.7 445.1h1M88.6 447.9h1M110.8 425.8h1M96.5 429.8h1M89 445.1h1M104.5 425.9h1M99.6 436.3h1M76.4 441.6h1M109.5 425.6h1M94.5 438h1M85.1 432.5h1M113.7 430.2h1M107.9 430.4h1M107.3 440.5h1M107.1 434.5h1M105 427.5h1M109.9 424.5h1M75.7 439.1h1M73.2 438.8h1M71.9 438.3h1M82.5 449.2h1M98.2 442.5h1M97.9 438.3h1M109.9 432.2h1M88.8 448.7h1M105.1 433.8h1M101.6 426.3h1M107.5 425.3h1M73.9 443.1h1M104.7 434.7h1M75.6 438.5h1M98.7 425.1h1M99.9 425h1M88 429h1M109.1 436h1M77.6 437.7h1M102.1 438.6h1M112.1 431.2h1M98.3 442.7h1M105.5 432.2h1M87.3 433.4h1M94.3 429.6h1M86.1 431.7h1M111.9 425h1M108.8 431.5h1M90 433h1M84.6 449h1M83.2 432.6h1M74.3 450.2h1M75.7 444h1M91.3 447.8h1M90.9 429h1M85 427.9h1M98.3 428.7h1M82.5 435.7h1M101.1 434.6h1M112.7 428.7h1M111.2 425.4h1M102.8 432.8h1M92.7 444.8h1M104.2 426.7h1M99.1 428.7h1M103.1 433.8h1M91.9 428.1h1M107.3 432h1M77.6 452.1h1M113.3 425.4h1M75.6 451.4h1M96.9 428.1h1M83.5 448.6h1M71.7 446.3h1M104.8 425.9h1M100.5 437.5h1M103.8 433.8h1M112.6 425.8h1M86.7 450.6h1M78.5 448.4h1M92.6 427.5h1M114.8 431.4h1M92.4 445.7h1M89.5 448.1h1M89.9 445h1M100.8 438.7h1M77.1 435.6h1M100.5 427.2h1M114.8 427.5h1M110.7 423.6h1M84 433.5h1M74.8 444h1M108.2 428.1h1M80.4 431h1M105.4 434.2h1M83.2 450.1h1M78.3 454h1M112.9 426.8h1M69 442.1h1M101 428.1h1M72.5 439.3h1M74.9 438.5h1M71.9 437.9h1M80.3 430h1M93.3 436.6h1M71.8 445.1h1M107.9 432.7h1M77.1 435.4h1M97.8 428.2h1M79.3 435.9h1M103.6 433.5h1M77.7 433.9h1M98.4 434.9h1M90.8 448.9h1M87.6 433.2h1M97.3 426.8h1M102.6 426.4h1M72.7 444.5h1M92.6 449.5h1M81.4 431.8h1M113.2 430h1M110.2 427.5h1M96.3 437.3h1M97.1 427.3h1M113.1 425.6h1M104.7 425.1h1M106.5 435.9h1M74.5 441.1h1M82.9 433h1M107.9 423.8h1M87.1 431.6h1M76.9 439.3h1M110.4 430.2h1M110.8 428h1M102.1 423.3h1M77.4 451.8h1M111.6 427h1M101.8 428.4h1M83.4 452.8h1M76.3 452h1M107.3 432.5h1M108 432.5h1M97.6 430.4h1M86.1 451.6h1M100.6 437.7h1M94.3 442h1M79.5 453.6h1M73.9 450.6h1M79.9 452.5h1M73.1 439.5h1M78.1 452.8h1M106 437.1h1M79.9 436.2h1M71.1 441.6h1M69.9 443.1h1M105.4 433.4h1M89.5 431.4h1M71.5 442.1h1M94.6 444.1h1M73.3 439h1M103.1 438.1h1M78.3 455.2h1M103.8 426h1M76.9 435.5h1M97.2 428.6h1M69.3 442.5h1M77.4 437.1h1M79.8 434.3h1M102.9 438.7h1M110.4 433.8h1M95.4 438.3h1M97.3 441.1h1M104.8 434.6h1M110.7 434.5h1M96.3 427.7h1M109.3 432.3h1M97.3 430.3h1M86 431h1M100.3 440.2h1M96.9 428.6h1M113.3 430.3h1M111.6 431.4h1M111.4 423.5h1M83.9 452.4h1M110 431h1M77 450.3h1M77.5 454.6h1M82.4 454.4h1M76.7 449.7h1M81.4 451.8h1M91.2 447.3h1M111 428.2h1M103.7 422.5h1M87.1 432h1M113.5 426.8h1M109 425.9h1M89.9 428.8h1M108.7 433.8h1M82.7 435.1h1M81.8 450.8h1M80.8 433.3h1M111 425.7h1M91.8 430.5h1M74.8 439.5h1M77.5 434.9h1M91.2 428.8h1M106.4 428.8h1M75.2 437h1M90.2 429.8h1M112.7 424.3h1M108 436.6h1M77.6 435.5h1M114.5 424.7h1M84.8 449.7h1M72.5 446.1h1M93.2 448.5h1M73.1 437.7h1M95.7 425.3h1M87.3 453.2h1M73.9 438.8h1M103.7 433.1h1M82.7 434.9h1M90.9 429.1h1M91.7 428h1M85.7 430.3h1M89.9 430.6h1M78.2 449.2h1M72.9 434.3h1M113.1 429.5h1M91.3 428.6h1M107.6 432.8h1M79.1 436.1h1M70 448.1h1M111 429.6h1M99.7 442.9h1M111.8 429.7h1M77.9 449.4h1M82 434.8h1M89.6 443.4h1M91.3 446.7h1M106.5 425.8h1M101.1 425.9h1M112.3 432.5h1M91 445.8h1M100 438.3h1M95.6 428.4h1M115.3 430h1M81.5 432h1M97 426.9h1M78.3 437.8h1M78.5 437.1h1M105.5 429h1M103.7 436.3h1M105.7 432h1M92.8 430.5h1M82.7 453.7h1M107.1 435h1M77.2 440.5h1M76.1 452.2h1M92.9 429.8h1M73.9 444.7h1M80.3 431.6h1M101.3 439h1M96.6 429.5h1M108.4 426.5h1M107.8 431.3h1M95.6 427.2h1M77.6 448.9h1M90.6 442.6h1M81.6 432.3h1M107 428.7h1M80.6 435h1M92.7 430.1h1M106.4 426.5h1M103.4 433.5h1M93.6 428.7h1M104.3 433.6h1M70.6 445.4h1M111 430.7h1M102.7 426.1h1M102.8 435.6h1M109.1 426.7h1M90.8 445.4h1M99.4 425.5h1M113.9 427.5h1M98.4 436.6h1M91.8 430.5h1M113.5 426.1h1M102.7 428.7h1M98.2 428.8h1M114.5 424h1M80.5 452.2h1M76 437.7h1M104 425.9h1M75.8 448.5h1M104.6 439.1h1M104.1 423.8h1M86.6 452.6h1M95.2 427.4h1M75.1 449.7h1M77.6 437.1h1M84.8 433.1h1M110.8 426.1h1M81.8 452.1h1M71.9 443h1M87.8 447.1h1M93.3 431.1h1M112.6 424.5h1M109.2 424.5h1M95 427.1h1M87 448.6h1M100.4 426h1M85.2 433.5h1M73.3 452.2h1M96.6 444.4h1M101.9 433.5h1M81.7 434.2h1M87.9 447.4h1M109.5 426.2h1M106.7 436.3h1M87 449.4h1M107.9 434.9h1M89.3 429.5h1M71.5 444.6h1M96.2 439.3h1M109 425.2h1M98.8 438h1M92.9 447.8h1M96.4 439.6h1M90.3 428.4h1M96.7 441.3h1M81 453.9h1M98 427.8h1M102.1 425.4h1M103.5 437.9h1M75.3 440h1M83.6 432.7h1M76.9 434.8h1M92.3 447.4h1M99.6 424.5h1M96.5 424.8h1M83.7 449.4h1M106.2 433.1h1M86.7 449.4h1M112.2 432.9h1M83 432.4h1M78.4 439.3h1M74.6 436.3h1M80.6 437.8h1M83.7 429.7h1M98.3 440.1h1M88.6 431.9h1M73.4 440.2h1M70.6 447.1h1M113.8 422.5h1M81.7 435h1M91.6 445.5h1M76.9 434.9h1M99.1 440.1h1M71.6 437.8h1M113.7 424.7h1M75.5 448.2h1M78.5 436.2h1M87.2 430.6h1M84.1 433.6h1M110.6 422.9h1M95.6 446.1h1M77.1 449.6h1M82.9 452.6h1M82.1 451.4h1M78.2 438.9h1M74.2 444.4h1M73.2 447.6h1M107.3 432.3h1M79.9 438.1h1M100.3 429.1h1M105.4 427.1h1M82 438.1h1M78.7 451h1M82.7 454.9h1M94.3 444.1h1M85.4 446.7h1M101.4 426.8h1M73.8 438.2h1M76.6 440.1h1M101.9 425.9h1M81.2 452.9h1M96.4 441.4h1M108.1 422.1h1M76 451.6h1M101.5 425.3h1M97.5 443.3h1M78.5 454.7h1M106.3 425.4h1M74.1 446.8h1M89.7 431.1h1M90.8 429.9h1M91.3 450h1M73.9 439.2h1M110.1 429.5h1M107.4 432.2h1M102.8 434.7h1M73.8 443.2h1M107.8 432h1M104.2 424.4h1M94.7 440.8h1M77.5 434.3h1M104.7 434.8h1M110.6 425.2h1M82.4 451.5h1M105 425.1h1M79.7 435h1M79 452.7h1M95.4 425.2h1M88.2 445.9h1M76.4 450.6h1M91 429h1M75.5 451.2h1M71 443.2h1M109.1 426.3h1M88.5 445.1h1M92.6 444.8h1M107.6 431.4h1M113.7 431.2h1M74.7 435.5h1M88.2 453.2h1M82.2 452.2h1M109 425h1M90.8 445.7h1M86.5 431.9h1M71.7 441.3h1M83.1 451.4h1M73.9 447.4h1M85.4 430.7h1M105.7 433.9h1M105.8 428.2h1M84.3 451.4h1M89.5 428.3h1M108.7 431h1M106.9 432.2h1M91.1 448.5h1M107.1 432.8h1M93.6 442.4h1M85.5 449.8h1M94.5 442h1M107.8 433.7h1M93.4 427.7h1M93.4 445.3h1M95.4 429.2h1M75.1 443.1h1M78.3 438.2h1M85.7 452.2h1M84.4 452.5h1M108 430.8h1M103.9 436.6h1M108.3 424.5h1M95 429.7h1M106.9 427.8h1M90.2 442h1M76.2 435.8h1M113 427.8h1M93.3 431.6h1M107.7 429.4h1M91.3 439.8h1M97.9 441.4h1M80.6 450.4h1M106.6 433.1h1M86.9 430.7h1M106 434.5h1M107.1 435.1h1M83.5 449.6h1M89.5 453.2h1M89.6 432.6h1M74.2 448.9h1M84.5 450.5h1M83.1 430.3h1M107.3 423.9h1M109.9 429.6h1M98.9 443h1M76.5 439.1h1M76.2 449.9h1M80.8 455h1M113 431.5h1M78.7 451.8h1M93.1 446.4h1M99 439.8h1M103.5 425.3h1M78.9 450.5h1M112.4 431.2h1M101.4 439.8h1M109.9 429.7h1M97.3 425.5h1M98.7 441.7h1M85.9 427.6h1M105.7 438.1h1M97.1 439.6h1M73.3 438.8h1M81.1 455.7h1M71.6 443.2h1" stroke="#000" stroke-width="1" fill="none"/>
<path d="M71.6 436.6h1M122.7 429.4h1M89.9 452.5h1M89.3 443.8h1M90.7 431.7h1M102.8 427.7h1M111.3 439.2h1M96.3 452.4h1M82.5 434.3h1M89.6 440.6h1M92.4 433.1h1M108.2 431.3h1M92.8 441.6h1M116.2 430.3h1M75.9 439.8h1M103.1 452.1h1M115 429.8h1M108.1 432.1h1M97.7 446.2h1M77.4 444.9h1M79.3 442.5h1M90.2 447.6h1M91.9 431.3h1M88.4 446.7h1M71.7 455h1M81.1 448.6h1M97.1 436.2h1M102.1 435.7h1M65.5 435.5h1M84.5 441.1h1M66.7 450.9h1M84.1 449.2h1M141.5 422.5h1M90 437.1h1M82.9 436.1h1M81.4 442.9h1M73 447.4h1M66.3 458.3h1M89.5 440.4h1M84.8 438.1h1M111.1 431.6h1M65.2 445.3h1M95.7 436.2h1M103.8 417.7h1M57.8 439.3h1M96.5 428.3h1M68 451.8h1M97.4 436.8h1M111.7 433.4h1M92.9 448.3h1M91.5 431.4h1M83 451.7h1M95.2 441.3h1M104.6 429.2h1M91.2 451.5h1M84.4 430.9h1M92.8 430.2h1M101.4 434.4h1M67.5 451.5h1M90.4 438.5h1M74.8 428.8h1M96.4 435.4h1M104.8 434.1h1M101 456.2h1M112.2 442.9h1M76.1 446.2h1M81.4 434.7h1M76.7 447.7h1M87.9 431.7h1M91.9 441h1M88.1 443.7h1M71.6 443.7h1M89.6 442.3h1M82.9 440.1h1M97.3 433h1M90.1 452.2h1M108.3 438.1h1M92.6 436.8h1M61.3 444.5h1M88 442.3h1M70.9 451.6h1M106.2 441h1M114.5 442.8h1M90.8 443.5h1M93.6 430h1M60.6 460h1M84.2 448.8h1M89.8 450.7h1M64.5 437.7h1M90.4 437h1M93.3 434.9h1M102.3 445h1M109.4 423.8h1M100.9 433.6h1M88.6 452.6h1M93.2 444h1M97.8 434.3h1M79.7 458.7h1M105.8 423.9h1M104.2 438.5h1M86.2 439.7h1M82.2 447h1M144.2 418.2h1M100.1 429.9h1M104.2 436.6h1M112.7 421.5h1M105.6 438.6h1M92.3 436.8h1M102.6 442.8h1M75.8 441.8h1M98.7 431.6h1M68.9 450.9h1M99.3 446.4h1M92.9 422.7h1M67.9 449.1h1M119.4 434.3h1M69.9 436.2h1M103 428.4h1M84.1 447.3h1M92.5 432.7h1M79 439.1h1M130.5 438.9h1M102.7 428.1h1M114.1 424.5h1M95.6 419.8h1M97.5 428.8h1M89.3 430.7h1M91.1 453.2h1M102.1 445.3h1M89.4 430.4h1M93 454.4h1M72.3 452.6h1M85.4 440.3h1M101.1 442.4h1M84.5 445.1h1M93.4 432.8h1M83.8 428.5h1M73.1 439.1h1M77.3 444.7h1M78.7 441.4h1M84.3 436.3h1M89 448.1h1M103.8 426.7h1M76.9 451.8h1M59.6 447.3h1M100.5 437.1h1M80.9 434.6h1M88.6 440.5h1M125.2 421.1h1M107.1 420.1h1M98.8 436.7h1M103.9 434.6h1M94.2 445.1h1M105 436.9h1M79 436.1h1M78.6 439.4h1M77.4 425.1h1M110.4 423.8h1M116.2 440.7h1M85.5 453.6h1M109.1 439.1h1M88.9 442.8h1M107.5 438.3h1M87.1 444.9h1M99.9 422.8h1M86.6 434.4h1M89.3 449.6h1M93.1 448.2h1M93.4 440.7h1M81.3 440.8h1M69.7 444.4h1M113.6 427.2h1M82.5 435.5h1M59.3 436h1M58 452.9h1M48.8 451.5h1M81.1 441.6h1M114.5 444.6h1M68.4 452.6h1M84.1 436.7h1M65.4 453.6h1M102.7 423.6h1M98.5 445.2h1M95.9 440h1M109.6 431.4h1M115.8 435.2h1M109.2 444.5h1M81 439.7h1M68.9 439.9h1M80.8 460.1h1M65.2 449.2h1M120.5 440.7h1M86.1 436.1h1M93.4 441.8h1M91.8 434.3h1M121.4 433.6h1M81.7 440.9h1M106 428.9h1M98.9 449h1M89.2 443h1M57.6 435.8h1M103.3 433.3h1M77.5 437.3h1M80.8 433.7h1M92.4 434.6h1M90.8 436h1M107 434.1h1M78.9 437.8h1M88.3 425.9h1M93.3 434.6h1M93.2 445.8h1M97 426.7h1M88.5 445.5h1M109.3 436.6h1M79.2 440.4h1M70.5 449.6h1M88.1 434.8h1M106.7 430.8h1M80.5 435.4h1M82.7 446.4h1M89.1 451.2h1M91.3 434.2h1M91.1 449.1h1M89.7 423.2h1M63.4 442.7h1M109.8 424.8h1M103.4 448.8h1M76.6 440.2h1M112.5 438h1M91.9 423.1h1M112.3 432.8h1M75 450h1M114.6 430.8h1M84.3 420.5h1M61.2 451.9h1M103.6 441.5h1M89.6 450.6h1M76.9 447.9h1M83.2 429.1h1M61.9 448.6h1M101.4 443h1M85.4 435.2h1M88.1 445.2h1M109.9 429h1M91.4 440.2h1M82.9 448.6h1M75 439.8h1M97 460.2h1M106.4 435.2h1M83 445.3h1M73.6 440.1h1M104.2 435.3h1M90.8 437.6h1M86.5 429.7h1M117 418h1M73.7 448.2h1M93.3 438.1h1M58.1 430.7h1M80.7 426.3h1M98.3 434.5h1M106.8 433.4h1M73.7 450.8h1M99.6 426.6h1M103.5 439.8h1M88 438.3h1M125 423.2h1M90.2 438.8h1M80.3 451.4h1M98.2 441.5h1M65.8 455.9h1M111.5 426.7h1M104.2 432.6h1M81.8 433.7h1M98.1 432.6h1M97.4 434.2h1M117.5 426.3h1M83.5 448.1h1M72.9 449.6h1M63 455.9h1M86.6 442.2h1M70.6 455.6h1M88.4 441.5h1M99 444.4h1M85.5 445.7h1M78.8 450h1M107.7 433h1M84.5 432.1h1M90.3 428.4h1M109.4 448.6h1M72.6 449.4h1M78.3 447.8h1M126.4 425.4h1M87.1 437.4h1M84 433.2h1M82.1 442.4h1M72.6 445.9h1M81.7 434h1M87 430.9h1M88.6 434.9h1M97.5 434.5h1M64.2 445.5h1M71 453.4h1M99 427.3h1M85.2 445h1M112 443.7h1M97.3 444.5h1M67.2 439.2h1M90.8 416.1h1M78.1 451.1h1M95.6 441.9h1M106.9 429.2h1M124.5 437.7h1M88.5 437.3h1M101 436.9h1M92.3 430.9h1M102.9 437.9h1M52.5 450.2h1M83.7 438.3h1M97.6 445.9h1M97.9 438.8h1M75.8 433.2h1M104.3 440.3h1M108.7 439.9h1M89.5 433.6h1M86.3 438.2h1M85.6 442h1M92 437.3h1M108 434.4h1M114 436.5h1M82.5 438.8h1M82.4 459.4h1M77.3 439h1M103.5 430.8h1M98.8 452.5h1M101 455h1M97.7 437.5h1M95.6 436.5h1M86.1 432.9h1M78.5 453.3h1M82.1 444.3h1M90.2 433.2h1M97.3 440.6h1M88.8 451.4h1M86.3 446.8h1M116 448.1h1M86.8 450.4h1M94.9 441.7h1M85.9 441.2h1M79.6 448.2h1M71.8 456.3h1M85 448.7h1M81.4 451.5h1M103.4 436.9h1M76 451.2h1M87.7 450.5h1M99.6 435.2h1M85.6 431.2h1M102.2 449.4h1M104.1 439.5h1M65.5 445.4h1M85.2 443.6h1M76.1 443.1h1M105.7 420.7h1M88.4 439.1h1M94.1 427.1h1M115.6 432.3h1M85.2 440.9h1M94.6 447.4h1M96.2 436.8h1M87.7 443.8h1M107.9 431.1h1M101.4 432.8h1M101.4 424.7h1M93.8 446.5h1M86.1 442.8h1M84 437.5h1M85.9 443.2h1M65.9 445.5h1M93.9 432.8h1M102.9 437.3h1M93.5 448.4h1M82.8 440.5h1M87.4 429.6h1M92.2 434.3h1M99.9 450.7h1M114.3 424.7h1M81.3 452.6h1M95.2 436.2h1M102.4 441.4h1M91.4 438.6h1M83.1 429.9h1M74.8 442.2h1M87.5 457.8h1M100.3 435.2h1M112.8 436.2h1M80.3 440.8h1M97 436.4h1M98.8 439.4h1M106.2 437.9h1M99.7 454.2h1M96.8 437.4h1M102.9 433.9h1M72.2 441.2h1M87.8 430.3h1M61.2 437.6h1M64.1 454.7h1M74 431h1M72.2 457.7h1M100 443.2h1M104 432.6h1M83.2 433.3h1M88.6 440.7h1M87.3 441.2h1M89.7 449.1h1M90.6 433.9h1M94.6 435.3h1M83.8 441.9h1M78.6 442h1M81.5 438.1h1M97.5 423.6h1M80.3 430.5h1M109.4 427.6h1M86.5 439.5h1M112.5 439.8h1M85 455.5h1M98.3 440.1h1M102.3 450.5h1M88 439.8h1M118.2 425.6h1M97.5 455.8h1M91.9 430.8h1M81.3 439.9h1M113.4 429.4h1M106.4 445.7h1M94.8 433.5h1M69.3 453.8h1M94.6 435.1h1M80.7 433.6h1M96.7 439.5h1M103.9 436.3h1M76.9 435.6h1M91.4 432.6h1M100.9 429.7h1M95.3 445.8h1M87 444.8h1M76.1 447h1M82.3 446.8h1M71.3 443.1h1M105.7 438.1h1M90.4 435.1h1M69.8 436.7h1M88.6 434.9h1M72.7 448h1M44.2 457.4h1M110.3 441.1h1M102.7 421.9h1M69 445.9h1M81.3 446.4h1M90.9 432h1M85.7 443.6h1M77.3 441.4h1M80.3 434.6h1M89.9 449h1M79.1 432.9h1M96 445.8h1M86.1 438.2h1M77.3 437.2h1M88.5 433.5h1M65.1 443.2h1M108.7 426.5h1M66.5 450.7h1M84.5 427.2h1M98.4 446.9h1M98.4 443.6h1M97.7 448.3h1M105.8 426.5h1M68.6 429.4h1M87.9 435.9h1M92.1 438h1M84.2 444.6h1M80.7 439.3h1M108.4 432.7h1M80.7 444.6h1M79.7 431.5h1M91.2 454.1h1M84.5 433.1h1M93.4 440.9h1M90.3 448.6h1M93.7 432.5h1M92.3 439.3h1M101.4 449h1M109 430.9h1M81.2 451.6h1M114.4 433.5h1M84.7 443.9h1M101.6 441.6h1M92.1 437.5h1M85.7 440h1M65.2 456.8h1M113.7 433.5h1M81 447.3h1M76.2 435.6h1M105.4 434.6h1M94.5 448.1h1M119.4 436.6h1M114.9 433.8h1M99 432.7h1M92.3 434.4h1M102.2 439.2h1M75.5 456.7h1M92.9 439.4h1M95.8 448.4h1M83 440.3h1M97 447.1h1M67.3 440.4h1M103.5 436.7h1M105.7 425.9h1" stroke="#000" stroke-width="1" fill="none"/>
<path d="M101.7 404.3h1M100.9 402.6h1M85.7 426.7h1M87.7 422.6h1M90.7 421h1M80.3 403.9h1M85.9 415.4h1M86.5 416.6h1M103 414.6h1M109 415.9h1M90.7 408.6h1M92.3 413.1h1M97.3 407.2h1M89.9 412h1M92.4 416.3h1M103.5 409.4h1M97.5 412.4h1M94.3 411.5h1M89.4 414.2h1M109.8 419.6h1M89 415.5h1M96.4 416.4h1M84.8 405.4h1M89.2 411.9h1M96.1 419h1M91.2 408.9h1M100.5 411.5h1M95.8 408.3h1M81.3 422.1h1M72.1 411.4h1M105.1 409.7h1M89.3 417.8h1M109.9 420.7h1M95.3 417h1M87.5 419.9h1M100.7 415.3h1M92.4 413.3h1M95.3 411.4h1M85.9 411h1M101.5 410.5h1M106.1 416.3h1M89.9 413.4h1M113 414.6h1M89.5 417.7h1M97.6 413.7h1" stroke="#000" stroke-width="1" fill="none"/>
<path d="M112.2 430.8h1M115.9 437.3h1M113.8 427.8h1M108.7 446.9h1M121.7 439.1h1M113.3 424.4h1M112.7 425.8h1M114.1 438.6h1M126.7 436.8h1M119 434.3h1M127.5 439.4h1M120.5 447h1M118.2 438h1M124.7 426.1h1M124.9 435.1h1M121.8 428.8h1M114.3 431.6h1M118.1 437.8h1M113.4 435.1h1M119.4 430.1h1M121.6 435.8h1M130.7 431.5h1M130.2 438.9h1M125.4 434.6h1M127.2 438.1h1M122.5 434.5h1M139 440.1h1M130.9 435.2h1M138.2 435.9h1M123.5 432.9h1M123.7 436.7h1M127.9 426.2h1M122.2 450.6h1M123 432.2h1M114.6 436.5h1M127.1 433.3h1M121.9 433.3h1M126.3 438.2h1M119.6 433.1h1M109.5 433.6h1M124.3 428.4h1M128.6 430.9h1M112.7 429.5h1M114.7 445.8h1M119.1 428.6h1M119.4 430h1M110 437h1M132.4 443.8h1M127.6 426.6h1M117 427.4h1M109.2 436.6h1M123.4 437.8h1M133.9 428.1h1M126.4 426h1M128.5 430.6h1" stroke="#000" stroke-width="1" fill="none"/>
<rect x="39.5" y="387.5" width="116" height="75" fill="none" stroke="#111" stroke-width="1"/>
<line x1="39.3" y1="387.5" x2="39.3" y2="462.5" stroke="#000" stroke-width="1.6"/>
<line x1="39.5" y1="462.7" x2="155.5" y2="462.7" stroke="#000" stroke-width="1.5"/>
<line x1="88.5" y1="402.8" x2="88.5" y2="462.5" stroke="#111" stroke-width="1"/>
<line x1="39.5" y1="425.5" x2="155.5" y2="425.5" stroke="#111" stroke-width="1"/>
<path d="M39.5 462.5v4.8M39.5 462.5h-5M48.23 462.5v2.9M39.5 456.86h-3.1M53.34 462.5v2.9M39.5 453.55h-3.1M56.96 462.5v2.9M39.5 451.21h-3.1M59.77 462.5v2.9M39.5 449.39h-3.1M62.07 462.5v2.9M39.5 447.91h-3.1M64.01 462.5v2.9M39.5 446.65h-3.1M65.69 462.5v2.9M39.5 445.57h-3.1M67.17 462.5v2.9M39.5 444.61h-3.1M68.5 462.5v4.8M39.5 443.75h-5M77.23 462.5v2.9M39.5 438.11h-3.1M82.34 462.5v2.9M39.5 434.8h-3.1M85.96 462.5v2.9M39.5 432.46h-3.1M88.77 462.5v2.9M39.5 430.64h-3.1M91.07 462.5v2.9M39.5 429.16h-3.1M93.01 462.5v2.9M39.5 427.9h-3.1M94.69 462.5v2.9M39.5 426.82h-3.1M96.17 462.5v2.9M39.5 425.86h-3.1M97.5 462.5v4.8M39.5 425h-5M106.23 462.5v2.9M39.5 419.36h-3.1M111.34 462.5v2.9M39.5 416.05h-3.1M114.96 462.5v2.9M39.5 413.71h-3.1M117.77 462.5v2.9M39.5 411.89h-3.1M120.07 462.5v2.9M39.5 410.41h-3.1M122.01 462.5v2.9M39.5 409.15h-3.1M123.69 462.5v2.9M39.5 408.07h-3.1M125.17 462.5v2.9M39.5 407.11h-3.1M126.5 462.5v4.8M39.5 406.25h-5M135.23 462.5v2.9M39.5 400.61h-3.1M140.34 462.5v2.9M39.5 397.3h-3.1M143.96 462.5v2.9M39.5 394.96h-3.1M146.77 462.5v2.9M39.5 393.14h-3.1M149.07 462.5v2.9M39.5 391.66h-3.1M151.01 462.5v2.9M39.5 390.4h-3.1M152.69 462.5v2.9M39.5 389.32h-3.1M154.17 462.5v2.9M39.5 388.36h-3.1M155.5 462.5v4.8M39.5 387.5h-5" stroke="#000" stroke-width=".9" fill="none"/>
<text transform="translate(36.2 471.7) scale(1.38 1)" font-size="5.4" stroke="#000" stroke-width=".3">10</text>
<text transform="translate(43.8 468.8) scale(1.7 1)" font-size="4.9" stroke="#000" stroke-width=".3">0</text>
<text transform="translate(31.6 465.1) rotate(-90) scale(.6 1)" font-size="7.6" stroke="#000" stroke-width=".3">10</text>
<text transform="translate(26.3 460.1) rotate(-90) scale(.62 1)" font-size="7.6" stroke="#000" stroke-width=".3">0</text>
<text transform="translate(63.6 471.7) scale(1.38 1)" font-size="5.4" stroke="#000" stroke-width=".3">10</text>
<text transform="translate(71.2 468.8) scale(1.7 1)" font-size="4.9" stroke="#000" stroke-width=".3">1</text>
<text transform="translate(31.6 447.35) rotate(-90) scale(.6 1)" font-size="7.6" stroke="#000" stroke-width=".3">10</text>
<text transform="translate(26.3 442.35) rotate(-90) scale(.62 1)" font-size="7.6" stroke="#000" stroke-width=".3">1</text>
<text transform="translate(92.1 471.7) scale(1.38 1)" font-size="5.4" stroke="#000" stroke-width=".3">10</text>
<text transform="translate(99.7 468.8) scale(1.7 1)" font-size="4.9" stroke="#000" stroke-width=".3">2</text>
<text transform="translate(31.6 428.6) rotate(-90) scale(.6 1)" font-size="7.6" stroke="#000" stroke-width=".3">10</text>
<text transform="translate(26.3 423.6) rotate(-90) scale(.62 1)" font-size="7.6" stroke="#000" stroke-width=".3">2</text>
<text transform="translate(121.3 471.7) scale(1.38 1)" font-size="5.4" stroke="#000" stroke-width=".3">10</text>
<text transform="translate(128.9 468.8) scale(1.7 1)" font-size="4.9" stroke="#000" stroke-width=".3">3</text>
<text transform="translate(31.6 409.45) rotate(-90) scale(.6 1)" font-size="7.6" stroke="#000" stroke-width=".3">10</text>
<text transform="translate(26.3 404.45) rotate(-90) scale(.62 1)" font-size="7.6" stroke="#000" stroke-width=".3">3</text>
<text transform="translate(148.1 471.7) scale(1.38 1)" font-size="5.4" stroke="#000" stroke-width=".3">10</text>
<text transform="translate(155.7 468.8) scale(1.7 1)" font-size="4.9" stroke="#000" stroke-width=".3">4</text>
<text transform="translate(31.6 391.3) rotate(-90) scale(.6 1)" font-size="7.6" stroke="#000" stroke-width=".3">10</text>
<text transform="translate(26.3 386.3) rotate(-90) scale(.62 1)" font-size="7.6" stroke="#000" stroke-width=".3">4</text>
<text x="81.7" y="475.8" font-size="4.8" font-weight="bold" textLength="33.7" lengthAdjust="spacingAndGlyphs">IL-4 FITC</text>
<text x="21.1" y="425" font-size="8.6" text-anchor="middle" font-weight="bold" textLength="20.5" lengthAdjust="spacingAndGlyphs" transform="rotate(-90 21.1 425)">IL-10 PE</text>
<text x="47.5" y="397.2" font-size="6.9" textLength="33.7" lengthAdjust="spacingAndGlyphs" stroke="#000" stroke-width=".25">0.06%</text>
<text x="112" y="398.5" font-size="6.9" textLength="33.8" lengthAdjust="spacingAndGlyphs" stroke="#000" stroke-width=".25">0.51%</text>
<text x="122" y="456" font-size="6.9" textLength="22.2" lengthAdjust="spacingAndGlyphs" stroke="#000" stroke-width=".25">52%</text>
<clipPath id="c5"><rect x="218.5" y="388.5" width="115" height="74"/></clipPath>
<g clip-path="url(#c5)">
<polygon points="288.8,429.2 280.4,428.5 271.2,429.2 263.5,432.3 255.8,437.7 250.4,443 248,449.2 249.6,455.4 254.2,463.5 277.3,463.5 283.5,452.3 288,444.6 290.4,437 290.4,431.5" stroke="#000" stroke-width=".8" stroke-linejoin="round"/>
</g>
<path d="M257.9 435.5h1M285.7 428.6h1M244.2 451.9h1M281.3 460.2h1M246.4 448h1M282.7 454h1M247.4 448.7h1M256.5 437.6h1M280 429.8h1M281.7 451.5h1M277.6 451.6h1M277.8 454.8h1M280.5 455.1h1M248.9 450.6h1M253.2 440.5h1M260.2 432.4h1M247.7 455.2h1M283.6 444.7h1M290.5 428.9h1M274.8 458.5h1M253.1 440.6h1M256.1 437h1M289.8 444.2h1M264 433.8h1M246.9 451.3h1M259.4 430.1h1M261.3 432.3h1M279.6 452.1h1M265.4 432.3h1M251.8 442.9h1M283.4 426.4h1M290.5 440.2h1M288 439.9h1M251.3 445.7h1M285.7 443.2h1M261.6 436h1M259.8 436.9h1M260.7 434.1h1M291.4 439.9h1M289.7 433.5h1M269 427h1M246.8 455.8h1M251.3 452.2h1M287.6 427.2h1M292.8 434.5h1M284.2 430.4h1M289.9 432.6h1M271.9 460.2h1M249.5 456.9h1M248.5 452.7h1M285.4 445h1M274 425.7h1M245.2 448.1h1M275.9 429h1M248.3 450.7h1M284.7 447.9h1M280.7 448.8h1M266.9 427.1h1M257 433.1h1M267.7 429.2h1M283 430.3h1M292.4 446.6h1M287.3 428.3h1M290.1 440.8h1M249.9 453.8h1M255.5 440.4h1M249.5 448.9h1M288.7 443.8h1M274 428.3h1M247.9 440.2h1M291 443.4h1M270.5 429h1M284.8 427.9h1M263.7 436.6h1M288.7 438.2h1M270.5 431.2h1M249.5 456.8h1M275 433.5h1M277.5 460.2h1M274.6 434.6h1M290.3 436.8h1M249.2 447.6h1M245.5 446.8h1M290.2 443.6h1M278.8 457h1M247.6 450h1M280.3 452.8h1M247.6 450.2h1M275.8 432h1M264.5 431.8h1M248.7 455.4h1M250.7 451.4h1M263 431.2h1M274.7 460.6h1M259.6 430.7h1M289.1 438.4h1M278.7 459.4h1M290.1 428.5h1M287.2 449.8h1M269.5 427.4h1M269.7 432.8h1M248.6 453.8h1M290 435.8h1M272.3 430.9h1M259.5 435.8h1M285 429.7h1M280.6 458.7h1M269.1 430.2h1M284.8 423.8h1M254.7 438.6h1M262.5 428.8h1M286.2 443.7h1M255.6 433.8h1M282.7 460.2h1M289.8 437h1M274 429.6h1M288 430.8h1M286.6 426.7h1M270.1 427.1h1M283.6 450.3h1M290 437.5h1M254.2 434.4h1M283.1 432.1h1M273 426.8h1M278.8 460.8h1M290.7 434.8h1M265.9 433.9h1M245.6 452.4h1M272.5 430.1h1M289.1 441.1h1M257.1 441.5h1M261.9 435.3h1M266.7 431h1M289.6 433.2h1M258.7 436.1h1M289.3 436.2h1M286.5 446.1h1M284.7 428.7h1M285.7 454.1h1M276.4 459.2h1M286 452.2h1M250.2 456.2h1M250.6 452.4h1M281.5 456.3h1M269.5 430.5h1M263.7 434.7h1M266.8 433.3h1M285.1 452.1h1M287 427.4h1M288.7 429.2h1M284.6 457.7h1M271 431h1M247.8 442h1M292.9 437.1h1M256.1 440.8h1M271.3 434h1M247.1 452.6h1M281 457.6h1M290.2 431.2h1M285.7 427.1h1M285.8 450.9h1M286.6 451.4h1M288.8 438.3h1M285.5 449.3h1M247.1 450.7h1M248.5 453.5h1M253 455.8h1M278.4 460.5h1M269 428.9h1M288.3 451.5h1M263.8 433.6h1M249.7 444.5h1M284.7 445.8h1M248.1 450.8h1M286.6 448h1M245 450.4h1M288.4 428.6h1M248.5 448h1M290.5 434.5h1M248.9 450.6h1M254 452.8h1M268.6 431.4h1M282.2 456.8h1M278.6 429.5h1M282.3 455h1M253.9 457.9h1M286.6 441.8h1M270.6 459.1h1M287.9 430.2h1M262.4 434.6h1M287.4 436.3h1M290.2 442.9h1M287.2 449h1M262.5 433.1h1M288.1 432.3h1M283.4 454.2h1M247.8 459.6h1M282.8 451.9h1M257.6 433.2h1M283.8 424.7h1M275.3 428h1M288.7 426.7h1M262.3 435.2h1M288.9 432.3h1M286.6 425.7h1M255.6 459.6h1M288.3 430.3h1M266.6 460.9h1M286.2 448.4h1M285.5 448.6h1M280.8 451.3h1M275.7 432h1M289.5 447.8h1M288.7 443.4h1M288.7 438.4h1M278.1 428.7h1M251.5 452.4h1M250.8 457.6h1M287.9 440.6h1M284.5 426h1M254 459.1h1M272.1 430.3h1M279.5 459.6h1M276.2 425.5h1M277.7 430.3h1M257 460.4h1M291.5 432.6h1M283.1 449.1h1M248.2 446.3h1M292.6 431.3h1M249 456.5h1M273.2 427.2h1M265.9 456.5h1M275.1 427.4h1M288.9 447.8h1M286 440.2h1M283.2 453.4h1M280.3 456.5h1M283.6 457.6h1M243.5 447.3h1M284.2 427h1M257.2 436.7h1M274.5 460.7h1M253.6 440.1h1M288.6 426.8h1M250.5 441h1M271.9 432.8h1M255.2 457.6h1M277.4 450.6h1M289.5 439.7h1M274.3 425.6h1M285.9 451.9h1M288.6 432.6h1M289.3 429.9h1M283.1 453h1M285.7 424.1h1M292.2 432.2h1M278 425.9h1M273.2 427.3h1M252.1 445.6h1M280.8 457.6h1M265.8 434.1h1M254.4 437.1h1M272.9 427.1h1M252.7 446.6h1M279 429.9h1M284.7 427.3h1M285.1 425.8h1M250 444h1M251.9 440.1h1M260.9 434h1M270 431.6h1M250.2 448.1h1M281 459.3h1M258.8 433h1M251.9 445h1M253.7 452.5h1M254.3 440.1h1M269.9 429.9h1M289.9 442.3h1M291.1 435.5h1M272.8 426.7h1M246.9 447.3h1M253.5 437.7h1M261.5 433.4h1M284.7 450.2h1M262.7 433.5h1M284.4 454.8h1M282.1 458.2h1M288.2 439.9h1M286.7 450.9h1M288.7 434.5h1M283.8 445.1h1M257.8 440.4h1M279 458.1h1M249.2 450.9h1M282.6 458.6h1M246.9 440.9h1M271.4 428.7h1M289.8 427.5h1M290.4 439.1h1M249.1 452.1h1M257.7 458.3h1M287.4 430.2h1M284.7 433.2h1M256.4 445.3h1M273.7 430.3h1M269.9 429.4h1M294.3 433.3h1M277.4 458.2h1M255.6 434.8h1M250.9 449.5h1M271.2 426.8h1M254.3 437.1h1M266.8 432.4h1M286.5 427.4h1M247.6 455.6h1M246.1 442.4h1M250 452.5h1M278.9 427.5h1M286 445.4h1M285.6 432.8h1M286.5 431h1M284.8 432.2h1M283 455h1M248.5 449.1h1M291.7 431.7h1M252.7 439.1h1M246.7 447.4h1M289.4 435.7h1M290.4 439.3h1M249.5 445.5h1M280.6 422.1h1M256.6 437.6h1M276.1 460.2h1M253.5 439.9h1M283 456.9h1M279 428.3h1M290.6 433.1h1M291.1 438.3h1M290.7 436.6h1M280.4 457.3h1M281.9 451.7h1M278.8 457.3h1M284.9 452.6h1M275.5 451.4h1M288.7 447.3h1M290.3 425.4h1M286.9 427.5h1M251.7 459.5h1M247.8 451.6h1M248.2 448.1h1M287.4 430.2h1M288.6 432.6h1M256.4 435.5h1M245.7 449.1h1M249.6 446.8h1M281.8 427.5h1M286.6 433.6h1M284.9 446.3h1M283 428.5h1M281.2 452.9h1M250.2 445h1M252.6 441.2h1M265.5 433h1M266.4 430.6h1M282 459.9h1M288.3 436.7h1M273.4 429.3h1M258.8 434.8h1M291.2 429.7h1M287.6 437.5h1M249.5 450.3h1M286.6 459.5h1M277.5 457.4h1M283.5 456.6h1M255.8 459.6h1M251.8 436.5h1M247.9 444.7h1M274.1 429.8h1M281 431.8h1M249.7 450.5h1M287 445.5h1M252.5 442.5h1M290.5 449.4h1M273 426.2h1M245 442.5h1M249.3 445.7h1M288.1 442.4h1M287.7 424.8h1M288.2 427.7h1M251.6 440.2h1M246 447.6h1M252.4 439.9h1M247.4 451.2h1M253.5 446.9h1M259.3 431.1h1M253 448.4h1M260.6 436.8h1M246.6 452.7h1M282.2 429.8h1M289.6 428.2h1M272.6 430.3h1M280.5 455.7h1M253.9 441.3h1M283.5 431.9h1M280.4 451h1M258 433.3h1M247.8 447.5h1M285.6 444.9h1M254.6 438.3h1M260.9 437.4h1M273.1 430.9h1M258 434.9h1M285.8 451.8h1M277.9 457.9h1M288.4 430.2h1M247.3 456.6h1M247.1 451.8h1M280.7 459h1M249.3 452.7h1M259.7 434.8h1M285.8 448.9h1M262 433.3h1M249.7 436.5h1M270.3 423.9h1M290.1 446.2h1M250.9 444.6h1M281.4 455.9h1M250.2 460.6h1M273.6 426.4h1M289.9 440.1h1M251.7 450h1M267.5 429.1h1M249.9 454.4h1M283.6 451.7h1M282.4 426.9h1M280.3 429h1M289 427h1M278.4 456.5h1M249.6 458.3h1M268 430.5h1M256.7 435.4h1M247.9 455.9h1M259.9 431.6h1M288.1 442h1M247.9 450h1M267 434.2h1M256.8 441h1M278.2 428h1M255 442.3h1M280.6 429.7h1M260.6 460h1M291 443.6h1M284.9 426.7h1M243.8 452.4h1M287.3 430.5h1M250.4 443.2h1M282.6 429.7h1M283 454.1h1M279.2 431.9h1M275.6 460.5h1M290.4 445.5h1M254.1 461h1M261.2 434h1M292.4 430.4h1M261.3 433.5h1M286.2 444.5h1M252 457.8h1M249.7 447.2h1M274.2 427h1M286.5 454h1M265.6 431.9h1M289.1 443.3h1M290.7 444h1M266.3 433.4h1M254.4 439h1M282.1 458.6h1M279.3 431.8h1M283.1 448.7h1M283.2 448.9h1M289 446.2h1M292.6 429.7h1M262.5 429.3h1M287.6 436.5h1M292 448h1M269.2 460.7h1M275.7 428.6h1M290 430.3h1M282.6 457.1h1M246.6 450.3h1M251.5 441.9h1M287.2 434.3h1M261.9 434.3h1M285.3 450.8h1M248.8 455.2h1M275.5 460.8h1M281.5 447.3h1M274.4 433.4h1M260.5 434.5h1M273.7 431.7h1M251.1 448.8h1M269 432.3h1M289.5 440.9h1M281.7 453.3h1M266.9 429.5h1M258.4 432.1h1M290.9 438.4h1M290.4 436.4h1M290.4 435.4h1M251.4 440.8h1M254.6 459.5h1M257.2 460.6h1M256.6 437.9h1M257.9 439.1h1M248.7 453.3h1M261.1 435.4h1M286.2 446.2h1M248.2 451.6h1M279.8 426.2h1M268.5 460.9h1M292 430.6h1M253.5 437.4h1M291.2 439h1M268.9 460.5h1M251.7 455.7h1M283.3 454.4h1M254.7 443.6h1M282.6 458.4h1M287.8 438.7h1M277.7 428.9h1M288.1 428.4h1M273.1 428.9h1M291 443.8h1M252.6 445.3h1M291.9 431.2h1M290.2 437.3h1M251.8 448.6h1M251.8 445.7h1M285 447.6h1M290.3 444.8h1M252.3 442.2h1M286.5 449.4h1M274.4 427.6h1M264.5 431.1h1M244 454.9h1M276.9 429.1h1M250.7 442.6h1M284.6 428.4h1M282.8 452.5h1M256.8 435.7h1M248.8 445.5h1M286.5 454.2h1M256.2 441.7h1M260.2 438h1M284.7 454.7h1M281.8 457.5h1M281.6 430.4h1M283.7 424.6h1M288.6 438.3h1M284.6 429.9h1M265 432.1h1M252.4 459.2h1M251.1 439.3h1M280.8 428.5h1M256.5 438.9h1M290.4 433.5h1M247.7 453.7h1M264.2 431.9h1M279.2 427.8h1M286.4 449.9h1M259.7 435.4h1M283.5 457.3h1M287.2 431.3h1M272.2 429.8h1M276.7 429.1h1M251.9 454.9h1M251.5 457.4h1M283.8 425.1h1M278.3 452.5h1M281.2 460.1h1M280.4 452.3h1M259.6 438.7h1M281.5 455.1h1M252.3 442.1h1M289.7 437.3h1M251.2 457.5h1M255.7 444h1M260.3 459.3h1M291.1 433.7h1M281.7 428.4h1M256 438h1M273.9 460.8h1M290.6 429h1M287.5 431.2h1M269.4 432.4h1M288 452.4h1M263.2 436h1M283.7 459h1M253.4 439.4h1M280.2 429.7h1M290.4 437.5h1M290.3 431.9h1M287.6 450.1h1M283.9 429.6h1M277 429.5h1M286.7 447.4h1M260.9 434.5h1M292 437.2h1M290.7 431.6h1M281 455.1h1M253.7 455.2h1M291.5 439.6h1M276.9 424.7h1M277.8 460.2h1M250.4 446.3h1M268 431.2h1M249.3 448.6h1M284.3 445.9h1M251.9 446.2h1M287.2 448.7h1M248.3 439.7h1M274 429h1M257 439.2h1M253 460.7h1M257.7 435.7h1M281.3 427.3h1M254.8 431.5h1M287.8 450.3h1M259.1 438.8h1M251.1 455.4h1M291.1 432.7h1M265.9 430.5h1M279.7 453.5h1M278.7 432.6h1M289.3 446h1M272.1 429.9h1M249.6 450.3h1M245.5 444.7h1M252.5 436.4h1M283.2 452h1M292.7 425.7h1M278.5 460.5h1M285.6 432.9h1M278.8 429.7h1M283.1 452.1h1M250.5 451.5h1M288.2 448.7h1M251.8 438.5h1M282.9 426.3h1M274.3 428.6h1M286 427.1h1M247 452.4h1M289.8 436.8h1M274.3 428.7h1M265.9 456.9h1M291.4 434.8h1M285.8 430.4h1M262.7 456.5h1M277.6 457.2h1M245.3 454.9h1M283.4 452.2h1M283.7 447.9h1M266.8 431.9h1M257.8 436.5h1M274.5 427.8h1M250 454.9h1M249.4 449.3h1M255.7 460.2h1M282.8 430.5h1M276.8 453.3h1M251.8 459.6h1M272.9 460.8h1M260.4 436.7h1M279.9 459.8h1M249.6 454.6h1M248.4 452.8h1M266.8 430.7h1M292.1 435.1h1M284.8 447.5h1M249 450.3h1M249.2 452.6h1M285.4 450.2h1M286 458.8h1M255.1 439.3h1M288.7 449.3h1M252.9 441.8h1M281.6 445.2h1M275.5 432.2h1M292.7 434.6h1M251.1 444.5h1M287.9 437.2h1M259.8 435.7h1M246.2 445.7h1M256.2 435.8h1M259 438.9h1M277.8 460.7h1M283.9 454.4h1M247.6 455.6h1M246.6 457.3h1M257.8 437h1M256.3 459.3h1M252.5 437.5h1M270.1 429.6h1M245.2 453.5h1M251.2 441.2h1M285.2 454.8h1M286.5 427.5h1M250.1 455.3h1M276.1 431.1h1M249.2 443.4h1M279.9 458.6h1M276.4 459.9h1M281.9 452.8h1M250.4 444.7h1M247.1 441.7h1M267.5 430h1M246.8 439.5h1M280.7 459.6h1M279.1 428.5h1M289 448.9h1M287.4 446.7h1M285 430.3h1M247.4 449.9h1M279.8 451.9h1M284 427.3h1M291.4 443h1M252.7 456.6h1M290.2 435.3h1M281.7 452.9h1M251.2 448.9h1M290 435.6h1M248.4 460.7h1M274.9 429.7h1M265.6 432.6h1M279.8 458h1M254.2 441.7h1M289.7 434.4h1M260.8 440h1M291 429.5h1M277.3 459.2h1M247.6 448.9h1M241.8 443.3h1M286.1 447.4h1M281 455.2h1M284.2 451.7h1M248.7 453.4h1M254.8 439.6h1M290.7 438.7h1M260.8 435.2h1M279.7 454.2h1M288.3 439.7h1M276.7 455h1M279.7 460.9h1M247.3 448.3h1M277.2 460h1M247.7 454.6h1M267.6 430.3h1M287.5 438h1M288.5 440.8h1M267.4 429.6h1M281.9 452.8h1M250 445.2h1M254 443.4h1M267.4 429.1h1M246.8 451h1M264.2 433.5h1M290 438.6h1M254.6 442.2h1M258.1 437.3h1M276.3 428.8h1M274.3 429.2h1M264.6 429.1h1M284.7 448.6h1M282.2 456.2h1M283.3 447.1h1M252.9 441.5h1M268.9 436.2h1M279 425.6h1M280 459.1h1M285.3 449.1h1M269.2 433.4h1M254.4 459.9h1M250.5 448.9h1M270.4 428.9h1M273 429.2h1M247 456.1h1M275.1 427.5h1M259 437.6h1M246.9 455.5h1M282.6 456.7h1M247 452.1h1M278.4 457.5h1M250.2 445.6h1M281.1 457.1h1M248.3 458.3h1M251.9 460.9h1M283.8 426.6h1M274.6 423.3h1M278.5 429.4h1M263.7 431.7h1M254.2 457.9h1M291.5 434.5h1M289.3 425.3h1M284.4 461h1M253.1 449.3h1M268.4 429.8h1M245.2 455.4h1M281.9 424.4h1M255.1 439.7h1M289.5 436.5h1M256.4 438.4h1M249.4 452.4h1M260.5 438h1M261.8 435.8h1M293 434h1M251.5 439.9h1M288.1 448.6h1M248.7 450.4h1M284.3 438.2h1M282.1 448.4h1M256.9 437.4h1M281.8 428.9h1M254.4 437.8h1M248.5 445h1M255.1 449.2h1M254.4 440.9h1M288.3 448.6h1M282.7 455.2h1M283.4 455.3h1M251 438.7h1M290.4 433.2h1M255.6 460.5h1M250.8 446.3h1M272.4 427h1M282.5 448.5h1M291.1 438.1h1M275.3 428.8h1M282.3 428.9h1M287.1 443.8h1M256.8 439.6h1M253.8 440.6h1M268.8 427.8h1M254.5 460.5h1M265 432.2h1M280 428.6h1M292.9 431.5h1M273.4 429.9h1M246.3 443.3h1M265.3 431.4h1M286.1 449.2h1M280.7 453.9h1M291.1 442.2h1M281.1 456.3h1M279.8 454.8h1M286.9 447.4h1M267.6 433.2h1M248.8 460.5h1M248.2 440.7h1M281.8 451h1M277.3 451.7h1M281.1 459.3h1M247.4 454.3h1M273.2 427h1M257.8 432.3h1M290.4 432h1M261.6 429.7h1M281.6 450.4h1M257.3 436.4h1M286.5 436.9h1M250.9 456.7h1M262.8 435.2h1M248.6 439.4h1M282.7 457.5h1M273.5 458.2h1M266.6 430.3h1M280.2 459.1h1M285.6 446.9h1M248.6 457.2h1M253.2 436.9h1M267.5 459.4h1M282.1 460.2h1M249.5 453.1h1M281.8 456.3h1M291.9 438.5h1M278.8 431.8h1M275.6 459.2h1M281 428.2h1M261.6 438.1h1M264.5 431.8h1M282.8 450.5h1M277.8 460.5h1M287.9 448.9h1M291.2 434.3h1M249.9 443.4h1M269.6 431.2h1M265.1 459.5h1M247.8 447h1M290.8 432.1h1M250 441.4h1M265.2 436.8h1M255.7 460.7h1M259.5 433.8h1M255.5 439h1M251.7 446.2h1M281.4 424.1h1M251.9 446.6h1M251.8 444.8h1M284.1 453.8h1M282.6 460.6h1M284.7 448.5h1M257 436.6h1M277.6 458.4h1M269.7 433.8h1M286.9 429.7h1M273.3 432.1h1M280.5 429h1M251.7 457.6h1M249 450.6h1M290.1 433.8h1M285.2 444.3h1M282.8 448.4h1M276.5 460.3h1M269.5 430h1M266.2 435.7h1M286.2 450.2h1M280.7 454.8h1M281.5 431h1M247.7 450.8h1M256.6 438h1M251.5 454.7h1M277.9 457.7h1M293 441.6h1M250 456.8h1M245.2 444.6h1M289.6 445.2h1M282.4 428.5h1M283.4 455.8h1M284.1 429.8h1M255 436.2h1M292.2 438.9h1M249.9 437.6h1M279.9 427.1h1M272.5 435h1M290.4 437.1h1M248.4 450.5h1M250.2 450.5h1M287.7 443.8h1M281.8 449.1h1M260.2 438.7h1M273.2 428.4h1M290.8 441.4h1M253.3 445.9h1M250.9 458.7h1M270.5 427.2h1M246.6 450.3h1M291 443h1M290.2 438.9h1M265.9 432.4h1M268.5 427h1M283.6 452.5h1M261.6 434h1M264.6 434.2h1M260.8 436h1M249.7 441.7h1M266.3 431.5h1M257.8 441.8h1M281.4 454.9h1M247.2 451.7h1M257 435.3h1M281.7 427.2h1M282.1 426.8h1M262.4 437.8h1M283.9 457h1M267.2 431h1M246.2 454.5h1M291 430.7h1M261.3 433.1h1M269.2 431.1h1M255.6 438.1h1M289.2 437.2h1M284.6 430.7h1M289 427.4h1M288.7 429.1h1M250.5 456h1M271.9 460.5h1M257.7 434.8h1M252.7 460.6h1M287 446.3h1M274.4 428.1h1M262.4 427.6h1M252.1 438.5h1M285.4 450.9h1M286.7 441h1M280.7 458h1M259.5 432.6h1M250.6 442.2h1M280.3 457.4h1M249.3 457.7h1M251.4 444.4h1M288 428.7h1M259.4 439.4h1M285.8 453.7h1M267.3 433.3h1M291.4 439.9h1M253.9 438.2h1M289.2 440.9h1M287.8 444.2h1M276.1 429.3h1M243.6 450h1M288.4 430.6h1M273.4 426.7h1M257.1 457.5h1M248.5 454.1h1M261.5 440.6h1M255 441.3h1M264.1 434.8h1M251.4 440.4h1M282.1 428.6h1M281.6 456.1h1M289.4 443.8h1M263 432h1M283.7 428h1M248.6 451.6h1M277.1 430.2h1M245.1 455.9h1M264 432.8h1M291.6 441.1h1M287.5 450.3h1M287.8 424.4h1M248.9 454h1M270.9 428.4h1M265.1 430.3h1M276.1 459.4h1M284.8 450h1M266.5 429.4h1M280.2 426.7h1M290.2 442.7h1M250.1 444.4h1M265.5 430.6h1M287.1 429.7h1M252.2 451.5h1M280.1 426.1h1" stroke="#000" stroke-width="1" fill="none"/>
<path d="M260.8 434.4h1M277.1 456h1M265 450.3h1M281.8 434h1M231.3 444.5h1M298.8 432.9h1M258.6 441.9h1M249.2 455.7h1M236.5 449.9h1M272.8 435h1M274.2 448.5h1M257 433.6h1M265 442.9h1M259.6 452.5h1M278.5 437.1h1M270 437.6h1M237.4 448h1M283.9 440.9h1M254.8 444.1h1M249.1 451.5h1M270.5 415h1M274.5 451.6h1M235.2 456.6h1M236.5 446.9h1M245.2 451.2h1M258.7 440.8h1M295.2 420.9h1M309.1 437.7h1M263.2 446.5h1M273.1 437.8h1M269.6 427.1h1M257.8 437.7h1M245.1 458.8h1M278.1 438.9h1M251.9 427h1M265.7 434.4h1M274.3 443.7h1M283.1 427.7h1M254.3 423.3h1M270.3 452.1h1M255.5 443.9h1M267.2 428.3h1M280 445.1h1M255 447.2h1M267.1 432.6h1M251.6 435.6h1M246.3 452.5h1M259.6 448.9h1M263.7 424.3h1M275.8 452.2h1M272.5 426.4h1M261.1 451.2h1M263.8 443.6h1M273.7 445.3h1M259.3 440.8h1M250.4 451.3h1M277.1 432.7h1M282 447.3h1M250.5 441.2h1M283.8 436.3h1M267.3 455.9h1M264.3 431.1h1M282.5 441.2h1M247.2 427.5h1M247.8 439.4h1M238.1 452.8h1M272 452.8h1M273.2 450.2h1M271.2 431.3h1M271.3 440.8h1M266 447.1h1M272.1 423h1M251.7 456.6h1M275.3 456.9h1M276.5 455h1M259.3 440.8h1M285.4 430.8h1M265.4 433.8h1M279.8 432.4h1M274.8 437.7h1M264.5 453.8h1M290.5 434.4h1M274.6 429.6h1M267.8 453.9h1M266.2 455.4h1M246.8 446.4h1M260.5 444.4h1M260 446.4h1M259 428.2h1M258.6 449.9h1M274.7 449h1M243.1 457.9h1M255.5 446.3h1M250.8 450.2h1M249.2 460.1h1M264 455.5h1M272.3 431.5h1M249.4 454.9h1M252.2 426.9h1M310.9 440.6h1M254.7 447.5h1M271.5 452.9h1M258 448.1h1M274.4 438h1M283.1 436h1M263 449.8h1M284 447.1h1M247.8 450.2h1M261.5 433.4h1M243.2 447h1M261.8 435h1M259 457.4h1M262.6 434.9h1M267.6 445.8h1M265 444.3h1M251.2 447.4h1M246.3 450.6h1M262.1 456.2h1M272.8 450.8h1M257.4 436.9h1M283.8 443.6h1M253.7 435.5h1M267.1 442.4h1M279.5 449.9h1M272 444.9h1M273.2 452.1h1M294.6 443h1M261.8 455.3h1M268.9 435.6h1M293.3 450.7h1M280 430.1h1M268.9 455.4h1M278.4 447.3h1M266.9 434.5h1M261.7 438.6h1M272.1 440.2h1M274.3 446.2h1M272.1 458.5h1M287.9 435.9h1M287.1 446h1M289.7 426.5h1M290 426.6h1M268.2 445.4h1M259.2 442.3h1M241.9 455.6h1M266.9 454.4h1M298.6 433.4h1M239.8 449.3h1M271.5 432.4h1M266.1 428.5h1M231 440.2h1M261.3 442.3h1M269.1 444.9h1M242.6 454.1h1M277.3 440.4h1M274.5 428.4h1M265.7 442.5h1M252.4 446h1M238 447.7h1M262.7 446.8h1M268.2 459.8h1M250.8 439h1M247.7 443.6h1M261.3 447.8h1M269.9 442.3h1M266.5 452.3h1M270 428.1h1M287.6 441.3h1M262.8 456.1h1M264.4 439.2h1M256.3 442h1M271.5 438.4h1M279.5 432h1M233.2 447.1h1M285.5 444.2h1M258.9 453.6h1M253.7 460.4h1M257.8 450.2h1M265.5 458.9h1M252.7 458.2h1M237 437.6h1M258 452h1M280.7 448.3h1M269.9 444.5h1M289.3 452.7h1M253.7 446h1M262.6 455.9h1M253.9 436.6h1M266.1 445.8h1M267.9 438.3h1M283.5 425.5h1M267.7 429.2h1M267.4 447.9h1M284.6 442.4h1M250.5 445.4h1M240.5 442.7h1M269.2 433.7h1M269.9 453.2h1M260.2 434h1M282.1 452.1h1M251.8 432.2h1M263.9 450.2h1M272.4 451h1M278.7 454.8h1M275.6 436.2h1M262.2 438.4h1M261.1 430.9h1M280.2 437.7h1M240.6 452.2h1M261.6 442.9h1M299.9 433.2h1M259.8 449.2h1M276.1 415.1h1M260.5 458.7h1M259.4 442.5h1M261.5 447.1h1M272.7 439h1M274.3 441h1M265.9 455.1h1M280.3 442h1M245.1 438.2h1M273 441.9h1M255.1 449.8h1M275.3 446.1h1M255.2 451.5h1M257.7 448.8h1M289 447.7h1M243.7 443.1h1M269.3 437.6h1M255.6 438.2h1M261.9 457.4h1M267.1 458.5h1M298.8 445.9h1M262.6 453.4h1M266.6 446.5h1M253 456.6h1M263.6 447.1h1M268.1 438.4h1M287.7 457.9h1M248.5 454.3h1M261 445.6h1M266.4 439.9h1M299.5 410h1M237.1 451.3h1M265.5 440h1M298.3 430.8h1M251.3 440.8h1M270 421.1h1M270 452.1h1M259.5 423.2h1M251.3 451.3h1M269.2 455h1M238.2 444.9h1M267.3 428h1M260.7 445.7h1M278.6 432.5h1M278.7 460.1h1M263.9 455h1M258 449.1h1M299.5 426.6h1M267.5 456.2h1M262.8 444.8h1M269.6 437.2h1M259.3 458.6h1M259.7 457.2h1M254.9 440h1M265.2 443.4h1M255.9 446.9h1M262.1 449.7h1M254.1 452.3h1M279.3 435.9h1M269.4 455.3h1M265.5 439.9h1M256.7 432.9h1M261.8 448.6h1M288.6 441.1h1M267.9 437.4h1M281.6 442.9h1M250.9 442.6h1M278.3 429.7h1M238.6 428h1M251.2 447.7h1M276.8 435.3h1M261.8 451.1h1M261.7 449h1M271.8 450.1h1M257.6 444h1M266 442.3h1M256.6 456.5h1M255.1 429.5h1M276.9 451.3h1M247 448.2h1M254.7 434.7h1M244.8 446.5h1M276.8 448h1M276.6 452.2h1M283 454.2h1M280.4 445.6h1M274.9 434h1M276.7 448.8h1M253.4 451.9h1M242.4 433h1M303.6 449.1h1M271.9 453.7h1M274.3 448.1h1M247.2 454.7h1M276.4 435.4h1M275.9 430.8h1M235.8 442.3h1M262.4 460.2h1M258.7 458.7h1M284.9 442.8h1M284.9 415.1h1M248.6 451.9h1M279.3 442.5h1M278.4 429.3h1M257.4 448.4h1M281.1 440.6h1M250.5 445h1M282.3 444.1h1M257.9 452.1h1M271.2 422.2h1M278 456.4h1M250 444.1h1M267.5 460.6h1M275.7 431h1M261.9 442.8h1M310.6 429h1M262.8 452.5h1M276.5 454.8h1M249.5 453.1h1M268.1 439.7h1M247.3 451.8h1M249.9 443.6h1M284.1 446.4h1M251.7 460.5h1M269.5 437.5h1M284.9 449.9h1M275.4 436.2h1M265.2 458h1M263.2 440.3h1M265.9 435.6h1M249.1 433.4h1M271.1 431.6h1M271.2 447h1M261.5 459.1h1M235.6 446.3h1M283.7 432.3h1M273.7 446.4h1M275.3 452.3h1M239.3 444.6h1M264.3 452.7h1M264.4 438.4h1M285.9 435.7h1M235.6 458.3h1M276 448.4h1M242 456.1h1M267.5 435h1M255.9 455.9h1M250 441.7h1M252.9 456.4h1M239.9 448.9h1M252.2 454.6h1M255.3 441h1M250.8 433.6h1M257.7 457.9h1M281.6 443.3h1M253.3 442.6h1M266.8 457.5h1M252.7 450.4h1M258.1 460.7h1M258.7 440.4h1M238 452.8h1M266.9 443.8h1M274.9 449.9h1M279 445.9h1M240.9 457.9h1M265.5 429h1M257.9 451.4h1M273.3 428.6h1M256.6 453h1M248.7 427.4h1M289.3 459.7h1M269.8 435.6h1M263.2 445.3h1M260.7 460.8h1M263.1 456.9h1M272.7 436h1M280 455.5h1M289.6 445.3h1M257 458.2h1M235.9 457.4h1M255.7 452.4h1M257.3 443.1h1M258.1 453.5h1M276.8 434.6h1M299.6 446h1M268.5 446.8h1M278.8 445.5h1M255.9 456.1h1M257.2 434.5h1M280.5 456.2h1M268.6 447.5h1M259.7 443.9h1M262.6 437.5h1M270.3 437.3h1M268.8 438.8h1M291.3 435.8h1M253 454.9h1M255.8 454h1M271.1 436.8h1M274.1 442.3h1M260.6 451.3h1M271.1 443.1h1M265.5 455.8h1M266.4 446.3h1M281.5 429.9h1M274.7 417.4h1M267.5 448.5h1M250.5 452.3h1M273.5 447.8h1M256.6 433.6h1M277.4 436.7h1M247.3 443.7h1M273.7 437.2h1M253.4 460.2h1M266.4 444.7h1M269.7 438.3h1M267.3 460.8h1M271.7 444.7h1M245.5 432.4h1M272.6 431.5h1M258 455.8h1M255.4 457.3h1M262.3 451.4h1M263.4 451.4h1M247.4 444.9h1M273.3 442.4h1M255.7 437.5h1M267.3 436.3h1M238.4 448.8h1M241.1 448.4h1M257.6 446.6h1M248.3 452.3h1M257.3 441.2h1M275.4 455.3h1M275.9 436.6h1M289.8 454h1M278.1 453h1M247.6 440.7h1M274.3 453.3h1M249.2 437.7h1M276.7 458.9h1" stroke="#000" stroke-width="1" fill="none"/>
<path d="M274.9 409.8h1M264.4 417.9h1M255 408h1M269.1 415.1h1M261.5 417h1M280.8 419.6h1M262.4 411.1h1M270.3 415.8h1M276 410.4h1M272.2 418.2h1M274.2 419.9h1M270.1 416.4h1M277.8 422.7h1M264.7 420.4h1M276.5 418.1h1M262.6 422.8h1M273.4 408.6h1M263.1 415.7h1M270.4 405.4h1M276.6 415.8h1M281.8 413.1h1M257.8 420.8h1M265.9 413.3h1M264.3 412.1h1M281.5 415.4h1M265.1 415.1h1M277.5 419h1M267.9 410.7h1M260.6 407h1M272.8 406.5h1M263 422.8h1M277.7 408.4h1M278.5 413.2h1M282.4 409.4h1M263.9 421.2h1M284.4 412.6h1M279.6 423.2h1M257.8 411.8h1M289.4 417.7h1M285.2 420.4h1" stroke="#000" stroke-width="1" fill="none"/>
<path d="M298.8 443.8h1M292.4 453.3h1M295.7 444.5h1M290.5 444.7h1M298.1 445.4h1M297.1 436.1h1M297.5 445.1h1M291.8 460.8h1M296.5 440.6h1M297.3 446.4h1M299 457.4h1" stroke="#000" stroke-width="1" fill="none"/>
<rect x="218.5" y="388.5" width="115" height="74" fill="none" stroke="#111" stroke-width="1"/>
<line x1="218.3" y1="388.5" x2="218.3" y2="462.5" stroke="#000" stroke-width="1.6"/>
<line x1="218.5" y1="462.7" x2="333.5" y2="462.7" stroke="#000" stroke-width="1.5"/>
<line x1="266.5" y1="388.5" x2="266.5" y2="462.5" stroke="#111" stroke-width="1"/>
<line x1="218.5" y1="426.5" x2="333.5" y2="426.5" stroke="#111" stroke-width="1"/>
<path d="M218.5 462.5v4.8M218.5 462.5h-5M227.15 462.5v2.9M218.5 456.93h-3.1M232.22 462.5v2.9M218.5 453.67h-3.1M235.81 462.5v2.9M218.5 451.36h-3.1M238.6 462.5v2.9M218.5 449.57h-3.1M240.87 462.5v2.9M218.5 448.1h-3.1M242.8 462.5v2.9M218.5 446.87h-3.1M244.46 462.5v2.9M218.5 445.79h-3.1M245.93 462.5v2.9M218.5 444.85h-3.1M247.25 462.5v4.8M218.5 444h-5M255.9 462.5v2.9M218.5 438.43h-3.1M260.97 462.5v2.9M218.5 435.17h-3.1M264.56 462.5v2.9M218.5 432.86h-3.1M267.35 462.5v2.9M218.5 431.07h-3.1M269.62 462.5v2.9M218.5 429.6h-3.1M271.55 462.5v2.9M218.5 428.37h-3.1M273.21 462.5v2.9M218.5 427.29h-3.1M274.68 462.5v2.9M218.5 426.35h-3.1M276 462.5v4.8M218.5 425.5h-5M284.65 462.5v2.9M218.5 419.93h-3.1M289.72 462.5v2.9M218.5 416.67h-3.1M293.31 462.5v2.9M218.5 414.36h-3.1M296.1 462.5v2.9M218.5 412.57h-3.1M298.37 462.5v2.9M218.5 411.1h-3.1M300.3 462.5v2.9M218.5 409.87h-3.1M301.96 462.5v2.9M218.5 408.79h-3.1M303.43 462.5v2.9M218.5 407.85h-3.1M304.75 462.5v4.8M218.5 407h-5M313.4 462.5v2.9M218.5 401.43h-3.1M318.47 462.5v2.9M218.5 398.17h-3.1M322.06 462.5v2.9M218.5 395.86h-3.1M324.85 462.5v2.9M218.5 394.07h-3.1M327.12 462.5v2.9M218.5 392.6h-3.1M329.05 462.5v2.9M218.5 391.37h-3.1M330.71 462.5v2.9M218.5 390.29h-3.1M332.18 462.5v2.9M218.5 389.35h-3.1M333.5 462.5v4.8M218.5 388.5h-5" stroke="#000" stroke-width=".9" fill="none"/>
<text transform="translate(215.2 471.7) scale(1.38 1)" font-size="5.4" stroke="#000" stroke-width=".3">10</text>
<text transform="translate(222.8 468.8) scale(1.7 1)" font-size="4.9" stroke="#000" stroke-width=".3">0</text>
<text transform="translate(210.6 465.1) rotate(-90) scale(.6 1)" font-size="7.6" stroke="#000" stroke-width=".3">10</text>
<text transform="translate(205.3 460.1) rotate(-90) scale(.62 1)" font-size="7.6" stroke="#000" stroke-width=".3">0</text>
<text transform="translate(242.35 471.7) scale(1.38 1)" font-size="5.4" stroke="#000" stroke-width=".3">10</text>
<text transform="translate(249.95 468.8) scale(1.7 1)" font-size="4.9" stroke="#000" stroke-width=".3">1</text>
<text transform="translate(210.6 447.6) rotate(-90) scale(.6 1)" font-size="7.6" stroke="#000" stroke-width=".3">10</text>
<text transform="translate(205.3 442.6) rotate(-90) scale(.62 1)" font-size="7.6" stroke="#000" stroke-width=".3">1</text>
<text transform="translate(270.6 471.7) scale(1.38 1)" font-size="5.4" stroke="#000" stroke-width=".3">10</text>
<text transform="translate(278.2 468.8) scale(1.7 1)" font-size="4.9" stroke="#000" stroke-width=".3">2</text>
<text transform="translate(210.6 429.1) rotate(-90) scale(.6 1)" font-size="7.6" stroke="#000" stroke-width=".3">10</text>
<text transform="translate(205.3 424.1) rotate(-90) scale(.62 1)" font-size="7.6" stroke="#000" stroke-width=".3">2</text>
<text transform="translate(299.55 471.7) scale(1.38 1)" font-size="5.4" stroke="#000" stroke-width=".3">10</text>
<text transform="translate(307.15 468.8) scale(1.7 1)" font-size="4.9" stroke="#000" stroke-width=".3">3</text>
<text transform="translate(210.6 410.2) rotate(-90) scale(.6 1)" font-size="7.6" stroke="#000" stroke-width=".3">10</text>
<text transform="translate(205.3 405.2) rotate(-90) scale(.62 1)" font-size="7.6" stroke="#000" stroke-width=".3">3</text>
<text transform="translate(326.1 471.7) scale(1.38 1)" font-size="5.4" stroke="#000" stroke-width=".3">10</text>
<text transform="translate(333.7 468.8) scale(1.7 1)" font-size="4.9" stroke="#000" stroke-width=".3">4</text>
<text transform="translate(210.6 392.3) rotate(-90) scale(.6 1)" font-size="7.6" stroke="#000" stroke-width=".3">10</text>
<text transform="translate(205.3 387.3) rotate(-90) scale(.62 1)" font-size="7.6" stroke="#000" stroke-width=".3">4</text>
<text x="260.8" y="476.6" font-size="4.8" font-weight="bold" textLength="33.6" lengthAdjust="spacingAndGlyphs">IL-4 FITC</text>
<text x="200.1" y="425.5" font-size="8.6" text-anchor="middle" font-weight="bold" textLength="20.5" lengthAdjust="spacingAndGlyphs" transform="rotate(-90 200.1 425.5)">IL-10 PE</text>
<text x="225" y="399.4" font-size="6.9" textLength="34" lengthAdjust="spacingAndGlyphs" stroke="#000" stroke-width=".25">0.04%</text>
<text x="291.5" y="399.4" font-size="6.9" textLength="33.7" lengthAdjust="spacingAndGlyphs" stroke="#000" stroke-width=".25">0.15%</text>
<text x="303" y="454.2" font-size="6.9" textLength="22.8" lengthAdjust="spacingAndGlyphs" stroke="#000" stroke-width=".25">35%</text>
<clipPath id="c6"><rect x="395.5" y="388.5" width="116" height="74"/></clipPath>
<g clip-path="url(#c6)">
<ellipse cx="455.3" cy="441.5" rx="5.5" ry="1.9" transform="rotate(-62 455.3 441.5)"/>
</g>
<path d="M454.7 436.6h1M448.8 435.9h1M457.5 444.5h1M455.5 441.8h1M455.3 440.8h1M461.2 439.2h1M453.5 439.4h1M456 434.7h1M448.3 450.3h1M461.4 438.4h1M456 445h1M451.4 438.8h1M457.9 445.3h1M457.3 437.4h1M456 442.1h1M455.5 436.6h1M457.3 447.6h1M457 440.4h1M462 435.8h1M456.4 433.6h1M455.9 443.8h1M456 440.3h1M453.8 442.7h1M453.2 440.6h1M453.9 440h1M456.3 432.9h1M455.6 436.9h1M459.6 432.9h1M461.2 433.2h1M448.2 446h1M454 438h1M452.7 442.7h1M447 447.8h1M451.6 446.5h1M453.4 443.4h1M459.9 431.5h1M456.6 441h1M457 443.1h1M457.1 442.1h1M453.9 445.4h1M457.3 440.7h1M453.4 440.5h1M448.5 448.7h1M455.3 444.6h1M466.5 423.2h1M462.2 440.1h1M454.6 441.2h1M455.1 436.1h1M453.3 446.6h1M454.7 439.9h1M456 435h1M453.8 451.4h1M457.7 447.3h1M455.1 443.6h1M453.1 441.7h1M454.5 444h1M456.1 439.4h1M455.2 433.7h1M458.3 440h1M459.2 435.7h1M461.3 436.7h1M452.4 443.5h1M456.2 439.4h1M454.1 442.8h1M453.4 435.2h1M460.1 445.9h1M450.2 439.4h1M457.8 430.3h1M454.1 441.5h1M447.4 447.5h1M456.7 440.8h1M455.3 438.7h1M454.2 443.8h1M456.2 440.8h1M458.6 435.4h1M454.2 443.9h1M454.6 441.8h1M454.4 445.3h1M458.3 440.1h1M454.5 441.3h1M451.8 445.4h1M454.1 441.3h1M461.5 431.3h1M449.7 449.7h1M450.6 448h1M453 437.3h1M455.9 450.8h1M458.3 428.8h1M455 451h1M453.5 449h1M456.3 444.9h1M459.2 435.4h1M458.9 437.1h1M457.8 438.2h1M457.7 440h1M461.2 434.9h1M453.7 452.6h1M454 438.2h1M460.8 433.7h1M456.1 448.7h1M459.6 440.9h1M456.7 433h1M459.8 434.5h1M455.8 442h1M461.5 431.1h1M451.8 435.4h1M460.6 436.2h1M448.8 444.8h1M458.4 447.7h1M454.9 445.8h1M460.4 431.2h1M450.3 454.4h1M450.6 451.1h1M456.6 435.9h1M455.8 440h1M447.8 457.4h1M452.6 442.1h1M456.3 443.5h1M461.6 435.7h1M452.5 452.6h1M456.7 445.2h1M461.6 436.7h1M459.4 437.7h1M455.9 447.5h1M454.9 442.6h1M452.3 449.4h1M462.8 435.3h1M458.8 445.6h1M458.4 433.6h1M454.5 434.8h1M458 448.3h1M457.8 443.1h1M461.7 439.7h1M459 439.6h1M460.5 433h1M457.3 434.1h1M454.3 438h1M460.9 439h1M455.8 446h1M454.6 444.5h1M454.8 436.3h1M455.4 438.4h1M451 446.1h1M454.7 441h1M446.7 441.7h1M454.5 444.2h1M462.9 435.8h1M451.6 445.3h1M453.8 444.5h1M457.9 438.2h1M453.5 439.2h1M457.1 440.5h1M449.6 447.7h1M454.5 440.5h1M455.1 443.2h1M453.2 445.2h1M454.2 444h1M452.7 441.3h1M459.7 437.2h1M458.5 429.4h1M457.9 441.3h1M458.8 432.3h1M453.2 438.8h1M451.2 448.7h1M453.4 439.2h1M458.1 433.3h1M459.3 433.1h1M454.9 446.6h1M463.9 429.8h1M454.7 445.4h1M452.9 444.4h1M450.6 441.8h1M459.3 432.8h1M456.1 438.3h1M458 435.8h1M448.1 452.1h1M454.3 440.5h1M457.2 442.4h1M454.6 435.4h1M454.3 443.3h1M462 435.9h1M451.9 443.6h1M449.4 447.1h1M450.4 449.4h1M458.5 433.6h1M458.4 437h1M456.6 446.7h1M458.5 434.7h1M456.5 442.4h1M454 440.7h1M450.4 448.1h1M454.8 444.1h1M454.4 439.4h1M459.1 441.2h1M453.1 443.3h1M458.1 435.2h1M457.4 431.7h1M452.4 444.6h1M454.5 437.4h1M450.2 448.4h1M452.7 436.4h1M452.9 445.9h1M459.3 443.8h1M451.8 437.5h1M459 444.2h1M458.4 435h1M455.5 446h1M452 442h1M461.3 441.5h1M453.1 439.6h1M456.2 439.3h1M458.7 443.8h1M450.4 443.5h1M452.1 434.3h1M455.7 440.2h1M456.5 435h1M457.2 432.4h1M452.5 441.5h1M450.1 442.9h1M457.7 444.9h1M456.7 445.7h1M446.8 449.7h1M460.1 431.8h1M455.8 438h1M464.9 429.6h1M452.1 442.7h1M461.2 439.6h1M456.5 439.3h1M453.6 440.1h1M458.3 435.3h1M454.3 440h1M460.8 443.9h1M456.5 440h1M448.2 452.1h1M453.9 444.7h1M457.1 446.5h1M458.1 430.7h1M453.4 435.5h1M461 438.1h1M458.9 438.1h1M454.1 441.2h1M460.2 431.7h1M457.7 443.2h1M445.2 444.9h1M460.5 438.9h1M458.6 434.2h1M457.6 441h1M456.6 438.7h1M465.7 439.4h1M458.6 431.7h1M460 438.9h1M454.3 428.4h1M456.6 439.2h1M463.5 430.4h1M448.1 446.1h1M453.6 433.1h1M456.7 439.3h1M458.4 441.3h1M454.9 449h1M457.1 434.1h1M456 442.2h1M449.5 444.2h1M458 446.3h1M453.7 441.2h1M459 441.7h1M452.5 445.2h1M452.3 445.2h1M460.7 440.5h1M453.4 439.9h1M464.4 431.8h1M453.6 442.5h1M455.7 435.6h1M458.7 430.3h1M457.8 443.2h1M458.3 435.3h1M455.7 438.6h1M452.3 438.5h1M463 433.6h1M455.4 447.3h1M454.7 444.3h1M452.5 451.1h1M447.6 437.2h1M457.2 434.7h1M455.3 442.2h1M458.3 436.4h1M452.2 444h1M459.5 434.8h1M453.6 440.3h1M452.8 442.4h1M457.4 430.3h1M456 440.9h1M455.6 436.7h1M454.8 439.4h1M461 438.7h1M455.9 440h1M452.2 447h1M452.8 437.2h1M455.8 437.4h1M459.1 439.8h1M456.3 442.6h1M461 431h1M453.2 444.3h1M456.2 440.1h1M457.2 440h1M451.8 446h1M446.4 443.9h1M462.2 439.6h1M460.3 438.5h1M455.7 439.7h1M454.5 451h1M451.7 440.6h1M459.4 441h1M457.9 437.6h1M461.2 435.4h1M456.1 437.8h1M458.8 435.7h1M461.8 432.5h1M451.5 454.5h1M459.7 436h1M455.5 443.6h1M455.6 437.3h1M460.4 441.7h1M453.3 446.4h1M452.6 445.2h1M456.1 437.9h1M452.3 440.1h1M456 435.8h1M450.9 440.8h1M462.2 429.5h1M454.7 441.9h1M462.1 429.9h1M450.5 443.2h1M456.2 437.2h1M457.3 433.9h1M454.3 448.9h1M449.4 444h1M453.2 436.6h1M462 436.2h1M460.4 433.9h1M453.5 435.7h1M461.8 436.8h1M455.9 448.8h1M457.2 444.4h1M454.8 430.4h1M454.4 443.8h1M452.9 440.9h1M450.1 449.6h1M451.3 439.7h1M455.3 451.4h1M455 437.9h1M460.5 433.2h1M458.5 440.1h1M457.6 440.6h1M455.5 443.4h1M456.3 437.3h1M453 446.9h1M453.8 442.9h1M456.3 426.3h1M454.3 448.9h1M452.5 442.9h1M450.4 447.5h1M458.1 433.6h1M451.7 440.2h1M449.1 446h1M447.8 445.1h1M459.9 435.4h1M460.4 438.6h1M458.1 436.6h1M452.7 439.6h1M461.3 437.6h1M458.6 433.3h1M453.7 435.2h1M446.6 446.9h1M450.5 451.5h1M454.9 450.4h1M455.4 438.9h1M449.8 448h1M451.9 446.2h1M453.7 439.5h1M451.8 444.8h1M452.6 448h1M456.6 434.8h1M459.2 439.4h1M455.5 435.4h1M459.9 436.8h1M460.5 433.6h1M454.5 440.6h1M454.3 441.5h1M449.8 449.8h1M458.9 444.3h1M451.9 443.1h1M461.3 436.8h1M459.8 438.6h1M458.9 432.6h1M462.5 437.1h1M453.2 431.6h1M457.6 438.4h1M456.2 440.3h1M454.5 443h1M457.5 442.1h1M451.9 445.5h1M456.2 438.6h1M458 442.8h1M449.5 451.6h1M445.4 454.1h1M454.8 445.6h1M454 443.4h1M453.3 441.9h1M460.5 434.8h1M451.9 443.4h1M449.5 446.5h1M455.9 438.6h1M457.9 435.4h1M460.3 432.3h1M449.7 444.9h1M458.9 444.5h1M455.9 444.1h1M460.1 433.1h1M458 437.6h1M449.6 437.7h1M459.7 438.3h1M452 441.6h1M456.1 442.7h1M452.5 439.7h1M456.4 444.9h1M453.5 441.7h1M456 438.9h1M459.8 441.7h1M462 434.4h1M454.6 434.7h1M453.6 440.5h1M449.7 453h1M450.7 448.6h1M456 444.7h1M452.7 442.2h1M447.3 445.7h1M452.2 441.9h1M455.3 440.2h1M455 445.1h1M456.8 442.8h1M458.1 443.2h1M454 445.1h1M452.5 445.4h1M456.8 442.7h1M455.9 439.6h1M451.4 446h1M448.5 451.4h1M454.9 447.4h1M460.4 440.3h1M454 451.4h1M454.2 434.2h1M456.4 445.6h1M453.1 439h1M452.4 444.8h1M458.4 438.8h1M452.4 439.2h1M453.5 437.6h1M448.1 450.5h1M461.5 439.5h1M453.2 451.4h1M452.3 441.8h1M457.2 438.6h1M455.2 442.4h1M457.5 438.9h1M454.2 439.4h1M459.1 442.5h1M452.2 445h1M460.2 436.9h1M454.5 433.1h1M454.8 444.5h1M453.2 446.1h1M459.2 441.8h1M447.1 441.9h1M457.1 441.2h1M459.6 437.9h1M456.6 437.3h1M462.7 435h1M461.7 441.4h1M454.6 447.8h1M454.9 446.7h1M460.1 440.1h1M461.8 431.7h1M457.3 444.6h1M454.2 446.8h1M457.7 433h1M452.5 440.5h1M460.1 439h1M459.8 436.3h1M451 445.5h1M454.4 443.1h1M457.3 446h1M452.8 436.2h1M455.1 436.6h1M455.7 444.7h1M458.9 439.3h1M447.6 449.1h1M454 438.1h1M456.7 439.6h1M458.7 443h1M451.4 448.8h1M449.6 438.8h1M454.8 448.1h1M459.4 433.6h1M453.5 442.1h1M452 440.8h1M457.9 443.3h1M457.5 438.7h1M456.6 441.3h1M457.7 438.8h1M453.8 446.6h1M460.4 436.5h1M458.1 446h1M455 435.9h1M455.9 439.9h1M457.3 435h1M459.2 443.7h1M450.6 448.6h1M448.3 445.2h1M454.7 442.4h1M457.5 433h1M452.4 442.5h1M454.5 440.4h1M455.7 433h1M449.2 441.7h1M460.9 442.1h1M455.9 439.6h1M451.5 443.2h1M457.5 440.8h1M461.5 437.4h1M454.1 433.5h1M453.4 442.4h1M464.1 426.3h1M454.3 438.3h1M455.7 443.2h1M450.4 443.4h1M451.1 445.5h1M457.4 436.8h1M448.4 456.8h1M455 442.1h1M449.9 447.5h1M454 441.6h1M450.2 438.7h1M456.8 450.7h1M451.7 445.8h1M458.2 434.2h1M454.5 444.4h1M456.7 442h1M455.3 443.3h1M456.1 436h1M454.8 432.7h1M457.5 436.2h1M455 437.3h1M455.6 437.6h1M452.1 447.4h1M459.6 434.7h1M456.9 445.8h1M452.6 445.7h1M450.2 441h1M454.6 446.1h1M458.7 440.2h1M453.4 435.3h1M460.4 435.3h1M455.6 441.9h1M452.4 443.6h1M455 442.9h1M453 447.8h1M454.7 445.8h1M463.7 432.2h1M453.2 445.2h1M454.1 443.6h1M462.9 441h1M453.5 438.5h1M456.8 436.9h1M452.1 445.3h1M454.2 447.8h1M461.7 435.7h1M450.3 443.1h1M458 443.3h1M453.1 438.6h1M456.5 454.2h1M453.2 441.4h1M456.2 446h1M456.2 438.1h1M456.2 443.7h1M447.3 452h1M457.9 437.3h1M448.3 454.6h1M454.4 443.5h1M455.3 445.8h1M452.6 443.8h1M454.6 440.9h1M454.9 434.6h1M452.6 445.6h1M452.5 443.8h1M459.5 438.5h1M458.4 439.4h1M455.6 436.5h1M457.3 440h1M457.8 444.2h1M453.5 443.5h1M451.2 442.2h1M463.8 439.6h1M460.8 434.1h1M462.6 431.7h1M458.5 449.8h1M452.8 441.4h1M456.1 441.6h1M450.4 439.7h1M453.4 447.7h1M462.4 430.3h1M457.7 432.3h1M452.9 441h1M453.7 443.4h1M454.8 441h1M455.8 449.5h1M453.8 442.7h1M457.1 437h1M459.6 432.3h1M454 434.5h1M457.8 433.8h1" stroke="#000" stroke-width="1" fill="none"/>
<path d="M442.2 445.5h1M460.2 446.1h1M430.2 443.6h1M441.6 442.7h1M449.1 435.4h1M440.5 451.4h1M437 443.1h1M462.4 439.4h1M452.1 453.6h1M453.6 441.8h1M453.4 438.6h1M441.6 442h1M447.9 453.5h1M458 430.5h1M454 447.5h1M461 442.9h1M450.4 446.5h1M445.9 431.7h1M443.2 445.9h1M453.5 455.1h1M450.1 449.1h1M457.4 451.1h1M440.6 437h1M451.8 443.4h1M455.1 438.8h1M443.8 438.8h1M455.4 434.1h1M455.2 449.6h1M459.6 440.3h1M457.7 432.4h1M463.8 433.2h1M449.8 458h1M457.2 427.9h1M446.7 453.3h1M465.5 437.8h1M450.6 439.4h1M461.6 445h1M448.9 447.1h1M463.5 440.9h1M461.4 441.6h1M452.4 446.2h1M449.6 444.4h1M455 434.5h1M459.7 436.7h1M458.6 438.4h1M458.5 449.6h1M453.5 441.6h1M460 437.9h1M465.7 443.7h1M460.8 436.7h1M456.7 442.9h1M457.9 452.2h1M455.7 440.7h1M457.9 440.9h1M454.8 448h1M455.5 438.9h1M444.7 442.5h1M448.4 434.9h1M450.1 444.7h1M469.3 434.1h1M464.2 439h1M462.7 446.8h1M451.7 453h1M445 446.5h1M450.6 432.4h1M450.8 440.9h1M454.2 439.2h1M442.9 448.2h1M450.9 454.2h1M450.8 438.3h1M455.6 445.4h1M451.1 452.7h1M442 439.9h1M455.7 435.8h1M457.6 449.3h1M460.5 441.9h1M462.4 433h1M450.4 435.8h1M451.3 438.5h1M451.4 445.7h1M465.6 439.8h1M449.2 452.2h1M448.2 448h1M454.9 443h1M450.4 453.4h1M450.6 429.6h1M446.3 441.8h1M456.6 439.1h1M458 448.4h1M457.6 447.6h1M450.4 438.9h1M444.5 453.3h1M445.2 445.4h1M449.8 443.2h1M465.3 429.8h1M456.1 435.9h1M454.8 435.7h1M443.5 443.4h1M450.9 430.7h1M459 434.1h1M458.4 438.4h1M469.4 429.3h1M443.6 446.6h1M445.4 445.4h1M458.4 448.3h1M451.1 449.2h1M458.2 445.1h1M453.8 436.8h1M450.5 439.3h1M449.1 437h1M460.4 443.5h1M452.4 433.1h1M442.7 439.1h1M447.2 442.9h1M465.4 440h1M452.4 444h1M450.9 447.7h1M455.8 440.8h1M452 443.8h1M453.7 440.6h1M447.1 436.9h1M464.5 444.7h1M457.6 436.1h1M455.4 451.4h1M440.8 442.9h1M464 434.9h1M445.1 441.4h1M440.5 445.9h1M445.9 453.9h1M458.4 446.2h1M457 451h1M451.1 457.6h1M448 446.4h1M452.3 451.1h1M455.9 434h1M452.5 438.6h1M454.9 443h1M447.2 448.8h1M456.9 446.3h1M448.6 431.1h1M459.8 445.5h1M456.3 433.7h1M461 447.2h1M462.4 442.4h1M450.8 435h1M450.9 445.1h1M463.4 436.9h1M452 436.9h1M454.4 434.4h1M447.3 447h1M452 451.1h1M457.1 446.5h1M448 445h1M460.6 441.6h1M462.6 445.3h1M464 438.5h1M453.3 435.8h1M444.6 445.3h1M459.7 437.7h1M454.5 448.9h1M452.3 447.9h1M452.4 440.2h1M449.6 438.5h1M464.7 440.9h1M466.8 425.2h1M464.4 446.8h1M455.6 429.3h1M451.3 442h1M452.6 437.6h1M459.8 452.1h1M457.5 449.2h1M458.1 432.4h1M447.2 432h1M461.3 443.9h1M450.6 447.1h1M457 427.9h1M446.2 437.3h1M452.6 447.3h1M452.8 441.4h1M457.8 438.7h1M459.3 439.3h1M459.3 432.2h1M447.5 447.1h1M454.8 447.1h1M460.9 432.7h1M463.6 427.9h1M453.8 448.1h1M444.4 435h1M452.1 455.7h1M452 448.5h1M446.2 444.2h1M452.6 442h1M453.8 453.6h1M460.9 438.8h1M445.5 435.6h1M448.1 439.6h1M459.2 437.5h1M460.8 450.4h1M451.4 452.1h1M453.2 441.1h1M467 431.8h1M454.5 441.6h1M455.1 437.9h1M454.7 444.7h1M443.1 435.1h1M461 443h1M443.7 459.3h1M446 447.5h1M447.2 442.2h1M447.1 439h1M462.2 434.8h1M466.4 428.6h1M457.8 439.1h1M463.7 446.3h1M447.2 429.7h1M457.9 430.7h1M445.7 444.7h1M455.9 448.5h1M453.5 440.2h1M451.1 436.8h1M445.8 453.7h1M457.9 441.2h1M453.6 457.3h1M458.8 438.7h1M456 435.5h1M440.8 453.1h1M452.7 436.1h1M457.1 442.8h1M454.7 448.7h1M457.5 435.8h1M463 430.1h1M462.6 444.5h1M449.1 448.7h1M449.3 452.2h1M443.4 444.6h1M446.3 445.6h1M449.6 427.5h1M449.1 435.2h1M455.5 443.6h1M463.8 441.9h1M452.8 441h1M448.7 437.3h1M450.3 447.3h1M456.2 450h1M453.3 441.3h1M452.5 452.3h1M461.6 432.3h1M448.9 436.7h1M447.2 441.8h1M457.5 435.5h1M459.2 456.9h1M461.7 438.3h1M453.3 440.7h1M464.3 432.4h1M452.3 446.1h1M450 442.7h1M449.4 446.5h1M446.8 448.3h1M458.5 443.5h1M456 454.1h1M461.5 445.3h1M449.4 444.5h1M461.5 438.2h1M438.4 453.9h1M450.9 435.5h1M454.5 442.1h1M456.7 444.4h1M450.6 445.5h1M466.1 435.3h1M455.7 447.6h1M459.4 442.6h1M452 443h1M446 439h1M462.6 448.5h1M455 436.4h1M451.9 451.3h1M453.9 446.7h1M445.6 448.9h1M464.2 446.8h1M452.9 449.6h1M450.3 446.3h1M455.1 436.8h1M449.5 438.5h1M450.1 435h1M455.8 445.1h1M453.9 438.1h1M452.3 439.9h1M450.9 450.4h1M453.3 439.6h1M455.2 446.6h1M449.8 441.1h1M452.9 438.5h1M455.4 448.8h1M445.7 445.6h1M462.4 437.7h1M465.1 433.5h1M452.3 444.1h1M451.9 429.2h1M449.8 434.9h1M445.8 441.6h1M444 442h1M456.5 447h1M447.9 441.3h1M446.7 439.3h1M451 440.9h1M448 448.2h1M450.5 430.8h1M451.2 450.9h1M452 451h1M455.6 434.6h1M461.2 440.8h1M453.8 427.9h1M452.1 439.2h1M450.1 445.2h1M459.7 435.8h1M458.7 447h1M451.8 441.6h1M445.2 443.1h1M456.8 440.6h1M443.2 456.3h1M458.5 440.8h1M442.8 452.3h1M458.9 437.8h1M443.8 448.9h1M459.7 440.4h1M462.8 425.4h1M449.7 441.4h1M453.6 453.2h1M459.8 428.1h1M451.8 444.7h1" stroke="#000" stroke-width="1" fill="none"/>
<path d="M440.8 447.9h1M437.2 435.3h1M442.2 449.4h1M436.1 447.6h1M442.7 446h1M432.1 455.3h1M432.9 446.8h1M438.8 442.8h1M444.4 448.1h1M445.2 434.9h1M434.9 451.3h1M438.4 445.5h1M436.5 456h1M429.6 449.5h1M441.5 447.6h1M436.9 446.4h1M444.2 437.6h1M439.6 444.7h1M436.3 447.1h1M435.6 451.5h1M437.7 447.9h1M440.4 449.6h1M436.5 449.6h1M450.1 441.8h1M439.4 447.1h1M433.8 443.8h1M438.8 437.2h1M443.2 435.5h1M440.3 450.5h1M437.1 454.4h1M435.8 454.3h1M435.2 439.8h1M433.6 454.8h1M436.4 455.2h1M439.6 440.4h1M436.2 448.3h1M445.2 456.2h1M440 445.8h1M436.7 452.8h1M438.4 441.3h1M444.5 443.1h1M431.5 450.9h1M439.5 444.2h1M449.6 446.1h1M442.6 445.8h1M434.8 438.7h1M439 454.8h1M437.5 444.4h1M450 443.2h1M435.7 442.4h1M437.4 445.7h1M437.1 439.3h1M432.6 450.8h1M424.9 443.1h1M437.5 450.3h1M440.6 439.6h1M436.7 438.7h1M440.5 439.4h1M441.6 446.7h1M441.4 436.8h1M431.5 450.6h1M444.7 443.1h1M442 451h1M441.8 442.8h1M438.5 450.4h1M438.5 438.7h1M436.2 438.2h1M440.2 449h1M442.3 441.7h1M436.1 452h1M441.9 440.8h1M436.6 448.5h1M440.9 440h1M437.9 434.1h1M442 454.4h1M446.5 443.9h1M439.4 451.4h1M436.5 446.3h1M436.7 434.2h1M441.1 447.7h1M436.4 452.1h1M442.5 453.5h1M439.7 455.7h1M442.2 447.7h1M436.2 444.5h1M434.5 445.6h1M435.4 437.7h1M440.1 449.9h1M435.3 449.8h1M441.4 447.4h1M430 440.2h1M435.7 449.3h1M437.8 441.6h1M430.9 453.2h1M436 441.3h1M432.3 441.8h1M438.2 443.1h1M437.5 438.5h1M441.6 439.4h1M435 443.3h1M431.8 429.4h1M436.3 458h1M439 447.5h1M438.9 447h1M439.2 439.5h1M443.6 446.4h1M437 445.1h1M437.6 445.8h1M435 435.6h1M436.1 444.4h1M442.8 433h1M440 443.8h1M427.7 439.4h1M443.5 441.2h1M430.3 443h1M436.8 450.5h1M442.5 452.9h1M439.1 445.3h1M440.8 438.2h1M442.1 454.6h1M439.8 436.1h1M433.3 441.5h1M440 443.7h1M435.6 440.3h1M428.5 453.7h1M437.3 447.7h1M440.8 452h1M439 443.2h1M438.6 450.7h1M445.7 444.1h1M439.7 444.1h1M442.3 447h1M439.9 447.6h1M445.3 448.7h1M437 443.7h1M443.4 435.4h1M446.1 443h1M437 427.8h1M442.9 443.2h1M432.9 439.8h1M439.9 450.3h1M441.6 427.6h1M435.1 457.9h1M431.1 442.8h1M438.8 434.8h1M437.2 447.7h1M439.3 448.2h1M439.8 447.8h1M442 459.1h1M445 439.7h1" stroke="#000" stroke-width="1" fill="none"/>
<path d="M457.9 444.3h1M457 445.4h1M451.6 444.1h1M457.9 451.3h1M464.1 439.6h1M450.5 445.1h1M458.9 453.9h1M462.5 460.4h1M460.2 447.5h1M445.7 456.5h1M457.8 457.9h1M453.5 439h1M463.9 449h1M455.2 438.8h1M468.7 444h1M448.1 450.3h1M459.2 437h1M450.4 451.2h1M467.4 445.9h1M466.1 445.1h1M450.1 451.3h1M460.9 440.5h1M455.7 433.7h1M445.5 447.3h1M449.3 441.4h1M456.6 445.5h1M459.3 438.4h1M453.6 439.6h1M457.9 438.9h1M458 436.9h1M457.9 440.6h1M448.4 440.8h1M456.9 447.2h1M446.4 442.1h1M465.9 434.5h1M465.4 451.5h1M457.1 437.3h1M469.5 440h1M450.8 444.3h1M449.9 447.3h1M452 447.5h1M451.4 448.9h1M467.9 446h1M456.3 455.6h1M455.6 453.5h1M458.4 442.7h1M466.3 445.2h1M457.1 436.3h1M453.6 452.1h1M457.8 445.3h1M454.7 441.6h1M465.1 458.8h1M458 439.7h1M454.9 433.7h1M459.2 440.2h1M468.8 449.6h1M454.5 454.9h1M464.9 440h1M459.7 454.5h1M457 442.8h1M456.4 442.9h1M461.3 444.5h1M460 459.8h1M458.4 448.3h1M460.3 449.3h1M450.5 435h1M451.8 448.2h1M449.6 449.1h1" stroke="#000" stroke-width="1" fill="none"/>
<path d="M504 409.4h1M474.6 410.7h1M476.5 417.2h1" stroke="#000" stroke-width="1" fill="none"/>
<rect x="395.5" y="388.5" width="116" height="74" fill="none" stroke="#111" stroke-width="1"/>
<line x1="395.3" y1="388.5" x2="395.3" y2="462.5" stroke="#000" stroke-width="1.6"/>
<line x1="395.5" y1="462.7" x2="511.5" y2="462.7" stroke="#000" stroke-width="1.5"/>
<line x1="444.5" y1="388.5" x2="444.5" y2="462.5" stroke="#111" stroke-width="1"/>
<line x1="395.5" y1="426.5" x2="511.5" y2="426.5" stroke="#111" stroke-width="1"/>
<path d="M395.5 462.5v4.8M395.5 462.5h-5M404.23 462.5v2.9M395.5 456.93h-3.1M409.34 462.5v2.9M395.5 453.67h-3.1M412.96 462.5v2.9M395.5 451.36h-3.1M415.77 462.5v2.9M395.5 449.57h-3.1M418.07 462.5v2.9M395.5 448.1h-3.1M420.01 462.5v2.9M395.5 446.87h-3.1M421.69 462.5v2.9M395.5 445.79h-3.1M423.17 462.5v2.9M395.5 444.85h-3.1M424.5 462.5v4.8M395.5 444h-5M433.23 462.5v2.9M395.5 438.43h-3.1M438.34 462.5v2.9M395.5 435.17h-3.1M441.96 462.5v2.9M395.5 432.86h-3.1M444.77 462.5v2.9M395.5 431.07h-3.1M447.07 462.5v2.9M395.5 429.6h-3.1M449.01 462.5v2.9M395.5 428.37h-3.1M450.69 462.5v2.9M395.5 427.29h-3.1M452.17 462.5v2.9M395.5 426.35h-3.1M453.5 462.5v4.8M395.5 425.5h-5M462.23 462.5v2.9M395.5 419.93h-3.1M467.34 462.5v2.9M395.5 416.67h-3.1M470.96 462.5v2.9M395.5 414.36h-3.1M473.77 462.5v2.9M395.5 412.57h-3.1M476.07 462.5v2.9M395.5 411.1h-3.1M478.01 462.5v2.9M395.5 409.87h-3.1M479.69 462.5v2.9M395.5 408.79h-3.1M481.17 462.5v2.9M395.5 407.85h-3.1M482.5 462.5v4.8M395.5 407h-5M491.23 462.5v2.9M395.5 401.43h-3.1M496.34 462.5v2.9M395.5 398.17h-3.1M499.96 462.5v2.9M395.5 395.86h-3.1M502.77 462.5v2.9M395.5 394.07h-3.1M505.07 462.5v2.9M395.5 392.6h-3.1M507.01 462.5v2.9M395.5 391.37h-3.1M508.69 462.5v2.9M395.5 390.29h-3.1M510.17 462.5v2.9M395.5 389.35h-3.1M511.5 462.5v4.8M395.5 388.5h-5" stroke="#000" stroke-width=".9" fill="none"/>
<text transform="translate(392.2 471.7) scale(1.38 1)" font-size="5.4" stroke="#000" stroke-width=".3">10</text>
<text transform="translate(399.8 468.8) scale(1.7 1)" font-size="4.9" stroke="#000" stroke-width=".3">0</text>
<text transform="translate(387.6 465.1) rotate(-90) scale(.6 1)" font-size="7.6" stroke="#000" stroke-width=".3">10</text>
<text transform="translate(382.3 460.1) rotate(-90) scale(.62 1)" font-size="7.6" stroke="#000" stroke-width=".3">0</text>
<text transform="translate(419.6 471.7) scale(1.38 1)" font-size="5.4" stroke="#000" stroke-width=".3">10</text>
<text transform="translate(427.2 468.8) scale(1.7 1)" font-size="4.9" stroke="#000" stroke-width=".3">1</text>
<text transform="translate(387.6 447.6) rotate(-90) scale(.6 1)" font-size="7.6" stroke="#000" stroke-width=".3">10</text>
<text transform="translate(382.3 442.6) rotate(-90) scale(.62 1)" font-size="7.6" stroke="#000" stroke-width=".3">1</text>
<text transform="translate(448.1 471.7) scale(1.38 1)" font-size="5.4" stroke="#000" stroke-width=".3">10</text>
<text transform="translate(455.7 468.8) scale(1.7 1)" font-size="4.9" stroke="#000" stroke-width=".3">2</text>
<text transform="translate(387.6 429.1) rotate(-90) scale(.6 1)" font-size="7.6" stroke="#000" stroke-width=".3">10</text>
<text transform="translate(382.3 424.1) rotate(-90) scale(.62 1)" font-size="7.6" stroke="#000" stroke-width=".3">2</text>
<text transform="translate(477.3 471.7) scale(1.38 1)" font-size="5.4" stroke="#000" stroke-width=".3">10</text>
<text transform="translate(484.9 468.8) scale(1.7 1)" font-size="4.9" stroke="#000" stroke-width=".3">3</text>
<text transform="translate(387.6 410.2) rotate(-90) scale(.6 1)" font-size="7.6" stroke="#000" stroke-width=".3">10</text>
<text transform="translate(382.3 405.2) rotate(-90) scale(.62 1)" font-size="7.6" stroke="#000" stroke-width=".3">3</text>
<text transform="translate(504.1 471.7) scale(1.38 1)" font-size="5.4" stroke="#000" stroke-width=".3">10</text>
<text transform="translate(511.7 468.8) scale(1.7 1)" font-size="4.9" stroke="#000" stroke-width=".3">4</text>
<text transform="translate(387.6 392.3) rotate(-90) scale(.6 1)" font-size="7.6" stroke="#000" stroke-width=".3">10</text>
<text transform="translate(382.3 387.3) rotate(-90) scale(.62 1)" font-size="7.6" stroke="#000" stroke-width=".3">4</text>
<text x="438.3" y="476.2" font-size="4.8" font-weight="bold" textLength="33.7" lengthAdjust="spacingAndGlyphs">IL-4 FITC</text>
<text x="377.1" y="425.5" font-size="8.6" text-anchor="middle" font-weight="bold" textLength="20.5" lengthAdjust="spacingAndGlyphs" transform="rotate(-90 377.1 425.5)">IL-10 PE</text>
<text x="403" y="399.4" font-size="6.9" textLength="33.7" lengthAdjust="spacingAndGlyphs" stroke="#000" stroke-width=".25">0.07%</text>
<text x="465.8" y="399.4" font-size="6.9" textLength="33.4" lengthAdjust="spacingAndGlyphs" stroke="#000" stroke-width=".25">0.76%</text>
<text x="476.7" y="454.4" font-size="6.9" textLength="22.1" lengthAdjust="spacingAndGlyphs" stroke="#000" stroke-width=".25">85%</text>
<text x="0.8" y="507.6" font-size="24.5" font-weight="bold">D</text>
<line x1="40.7" y1="503.54" x2="40.7" y2="828.9" stroke="#a8a8a8" stroke-width="1"/>
<line x1="40.7" y1="828.4" x2="245" y2="828.4" stroke="#777" stroke-width="1"/>
<line x1="37.2" y1="828.4" x2="40.7" y2="828.4" stroke="#777" stroke-width="1"/>
<text x="32.3" y="831.7" font-size="10.8" text-anchor="end">0</text>
<line x1="37.2" y1="792.36" x2="40.7" y2="792.36" stroke="#777" stroke-width="1"/>
<text x="32.3" y="795.66" font-size="10.8" text-anchor="end">10</text>
<line x1="37.2" y1="756.32" x2="40.7" y2="756.32" stroke="#777" stroke-width="1"/>
<text x="32.3" y="759.62" font-size="10.8" text-anchor="end">20</text>
<line x1="37.2" y1="720.28" x2="40.7" y2="720.28" stroke="#777" stroke-width="1"/>
<text x="32.3" y="723.58" font-size="10.8" text-anchor="end">30</text>
<line x1="37.2" y1="684.24" x2="40.7" y2="684.24" stroke="#777" stroke-width="1"/>
<text x="32.3" y="687.54" font-size="10.8" text-anchor="end">40</text>
<line x1="37.2" y1="648.2" x2="40.7" y2="648.2" stroke="#777" stroke-width="1"/>
<text x="32.3" y="651.5" font-size="10.8" text-anchor="end">50</text>
<line x1="37.2" y1="612.16" x2="40.7" y2="612.16" stroke="#777" stroke-width="1"/>
<text x="32.3" y="615.46" font-size="10.8" text-anchor="end">60</text>
<line x1="37.2" y1="576.12" x2="40.7" y2="576.12" stroke="#777" stroke-width="1"/>
<text x="32.3" y="579.42" font-size="10.8" text-anchor="end">70</text>
<line x1="37.2" y1="540.08" x2="40.7" y2="540.08" stroke="#777" stroke-width="1"/>
<text x="32.3" y="543.38" font-size="10.8" text-anchor="end">80</text>
<line x1="37.2" y1="504.04" x2="40.7" y2="504.04" stroke="#777" stroke-width="1"/>
<text x="32.3" y="507.34" font-size="10.8" text-anchor="end">90</text>
<line x1="109" y1="828.4" x2="109" y2="831.9" stroke="#777" stroke-width="1"/>
<line x1="177" y1="828.4" x2="177" y2="831.9" stroke="#777" stroke-width="1"/>
<line x1="244.6" y1="828.4" x2="244.6" y2="831.9" stroke="#777" stroke-width="1"/>
<text x="10.2" y="666.5" font-size="10.8" text-anchor="middle" textLength="171" lengthAdjust="spacingAndGlyphs" transform="rotate(-90 10.2 666.5)">Mean Percent Perforin Expression</text>
<rect x="54.8" y="644.2" width="20.2" height="184.2" fill="#000"/>
<line x1="64.8" y1="644.2" x2="64.8" y2="534.6" stroke="#000" stroke-width="1"/>
<line x1="61.05" y1="534.6" x2="68.55" y2="534.6" stroke="#000" stroke-width="1"/>
<rect x="122.6" y="806.2" width="20.4" height="22.2" fill="#000"/>
<line x1="133" y1="806.2" x2="133" y2="801.6" stroke="#000" stroke-width="1"/>
<line x1="129.25" y1="801.6" x2="136.75" y2="801.6" stroke="#000" stroke-width="1"/>
<rect x="143.5" y="806.7" width="18.8" height="21.2" fill="#d2d2d2" stroke="#000" stroke-width="1"/>
<line x1="152.5" y1="806.2" x2="152.5" y2="790.8" stroke="#000" stroke-width="1"/>
<line x1="148.75" y1="790.8" x2="156.25" y2="790.8" stroke="#000" stroke-width="1"/>
<rect x="191.4" y="717.8" width="20.2" height="110.6" fill="#000"/>
<line x1="202.2" y1="717.8" x2="202.2" y2="649.8" stroke="#000" stroke-width="1"/>
<line x1="198.45" y1="649.8" x2="205.95" y2="649.8" stroke="#000" stroke-width="1"/>
<rect x="212" y="754.3" width="19" height="73.6" fill="#d2d2d2" stroke="#000" stroke-width="1"/>
<line x1="220.8" y1="753.8" x2="220.8" y2="695.4" stroke="#000" stroke-width="1"/>
<line x1="217.05" y1="695.4" x2="224.55" y2="695.4" stroke="#000" stroke-width="1"/>
<text x="75.5" y="847.4" font-size="10.8" text-anchor="middle" textLength="61.3" lengthAdjust="spacingAndGlyphs">Unstimulated</text>
<text x="143.7" y="846.9" font-size="10.8" text-anchor="middle" textLength="18.5" lengthAdjust="spacingAndGlyphs">SEB</text>
<text x="212.2" y="846.9" font-size="10.8" text-anchor="middle" textLength="21.5" lengthAdjust="spacingAndGlyphs">Anti-</text>
<text x="212" y="862.4" font-size="10.8" text-anchor="middle" textLength="48.6" lengthAdjust="spacingAndGlyphs">CD3/CD28</text>
<rect x="125.5" y="491.2" width="113" height="69.2" fill="#fff" stroke="#444" stroke-width="1"/>
<rect x="135.6" y="505" width="6.4" height="6.4" fill="#000"/>
<text x="145.4" y="511.3" font-size="10.6" textLength="51.2" lengthAdjust="spacingAndGlyphs">CD8+CD4-</text>
<rect x="136.1" y="538.4" width="5.6" height="5.6" fill="#eee" stroke="#000" stroke-width="0.9"/>
<text x="145.4" y="544.8" font-size="10.6" textLength="85.9" lengthAdjust="spacingAndGlyphs">CD8brightCD4dim</text>
</g>
</svg>
</body>
</html>
